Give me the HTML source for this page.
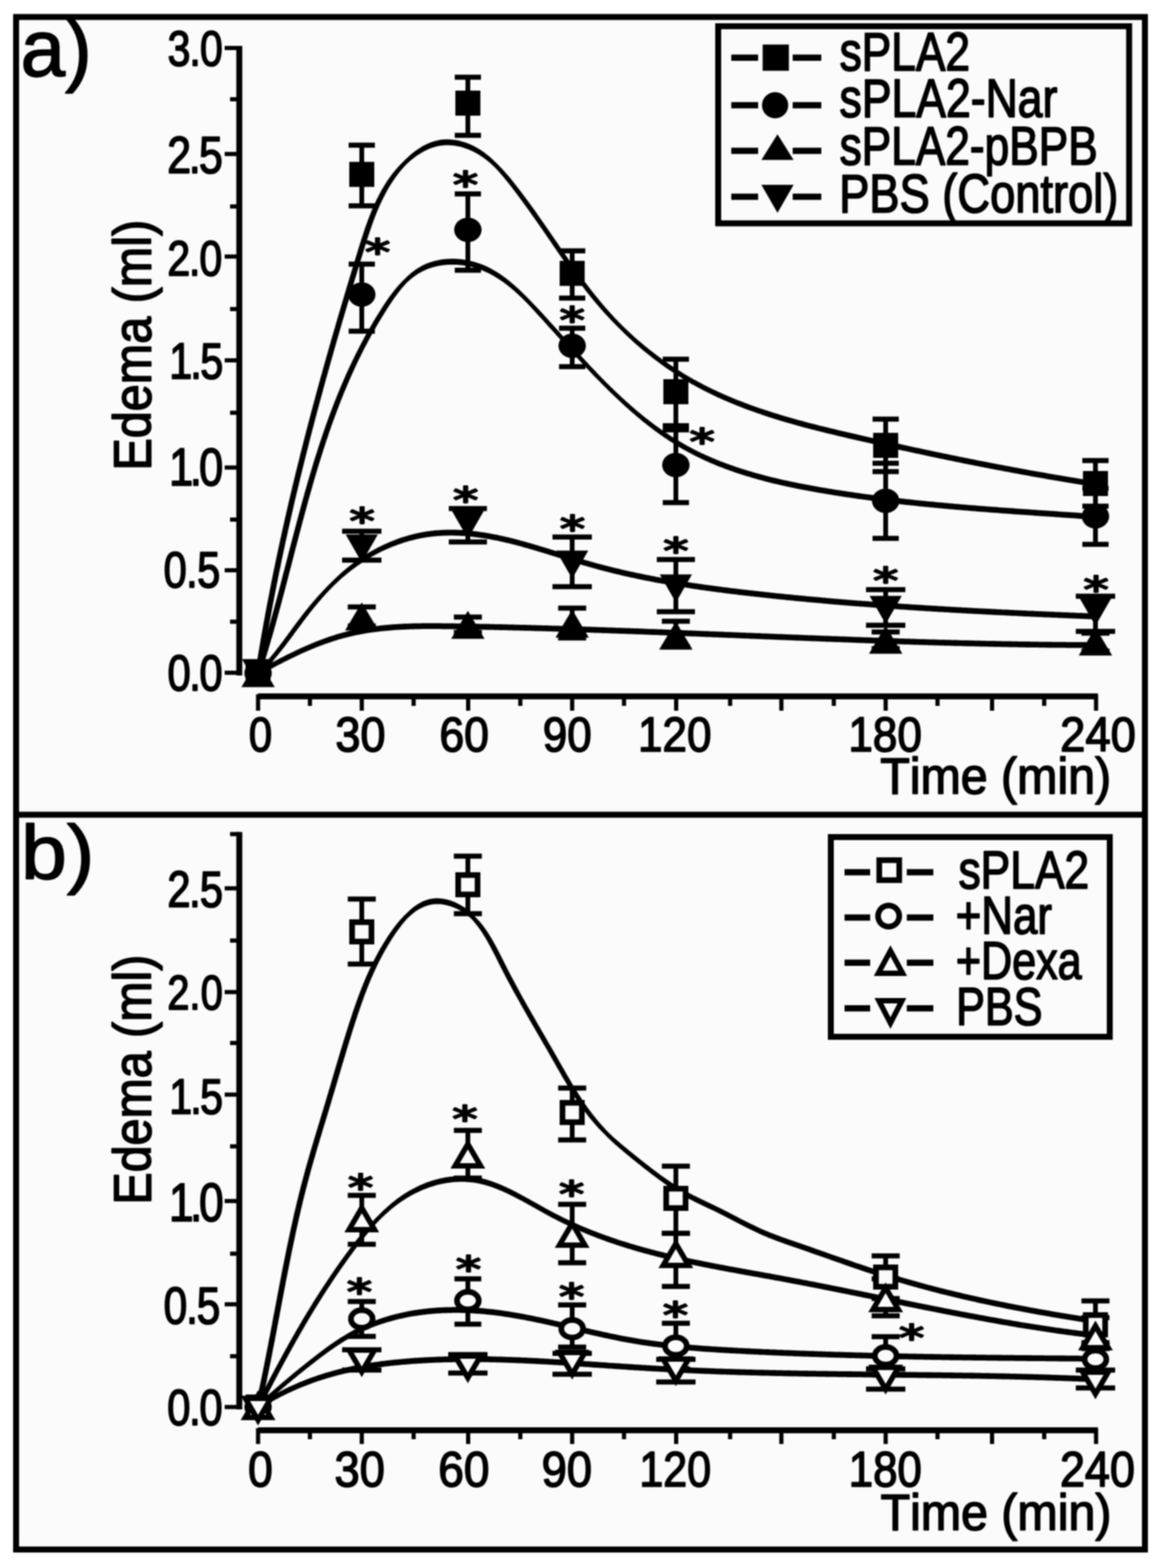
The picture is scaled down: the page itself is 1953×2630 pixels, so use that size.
<!DOCTYPE html>
<html><head><meta charset="utf-8"><title>Edema time course</title>
<style>html,body{margin:0;padding:0;background:#fff;}svg{display:block;filter:blur(1px);}
text{font-family:"Liberation Sans",Arial,sans-serif;font-kerning:none;fill:#000;}</style></head>
<body><svg xmlns="http://www.w3.org/2000/svg" width="1953" height="2630" viewBox="0 0 1953 2630" stroke="#000" fill="#000">
<rect x="27" y="28.5" width="1894" height="2570.5" fill="#fbfbfb" stroke="none"/>
<path d="M437.8 1129.8 L438.5 1125.2 L439.2 1120.7 L440.0 1116.1 L440.7 1111.6 L441.4 1107.1 L442.2 1102.5 L442.9 1098.0 L443.7 1093.5 L444.4 1089.0 L445.2 1084.5 L446.0 1079.9 L446.7 1075.4 L447.5 1070.9 L448.3 1066.4 L449.1 1061.9 L449.9 1057.4 L450.7 1052.9 L451.5 1048.5 L452.3 1044.0 L453.1 1039.5 L454.0 1035.0 L454.8 1030.5 L455.6 1026.1 L456.4 1021.6 L457.3 1017.1 L458.1 1012.6 L459.0 1008.2 L459.8 1003.7 L460.7 999.3 L461.6 994.8 L462.4 990.4 L463.3 985.9 L464.2 981.5 L465.1 977.0 L466.0 972.6 L466.8 968.1 L467.7 963.7 L468.6 959.3 L469.6 954.8 L470.5 950.4 L471.4 946.0 L472.3 941.5 L473.2 937.1 L474.2 932.7 L475.1 928.3 L476.0 923.8 L477.0 919.4 L477.9 915.0 L478.9 910.6 L479.8 906.2 L480.8 901.8 L481.8 897.4 L482.7 893.0 L483.7 888.6 L484.7 884.2 L485.7 879.8 L486.7 875.4 L487.7 871.0 L488.7 866.6 L489.7 862.2 L490.7 857.8 L491.7 853.4 L492.7 849.0 L493.7 844.6 L494.7 840.2 L495.8 835.8 L496.8 831.4 L497.8 827.1 L498.9 822.7 L499.9 818.3 L501.0 813.9 L502.0 809.5 L503.1 805.2 L504.1 800.8 L505.2 796.4 L506.3 792.0 L507.3 787.7 L508.4 783.3 L509.5 778.9 L510.6 774.5 L511.7 770.2 L512.8 765.8 L513.9 761.4 L515.0 757.1 L516.1 752.7 L517.2 748.3 L518.3 743.9 L519.4 739.6 L520.5 735.2 L521.7 730.8 L522.8 726.5 L523.9 722.1 L525.1 717.8 L526.2 713.4 L527.3 709.0 L528.5 704.7 L529.6 700.3 L530.8 695.9 L531.9 691.6 L533.1 687.2 L534.3 682.8 L535.4 678.5 L536.6 674.1 L537.8 669.8 L539.0 665.4 L540.2 661.0 L541.4 656.7 L542.5 652.3 L543.7 647.9 L544.9 643.6 L546.1 639.2 L547.3 634.8 L548.6 630.5 L549.8 626.1 L551.0 621.7 L552.2 617.4 L553.4 613.0 L554.7 608.6 L555.9 604.3 L557.1 599.9 L558.4 595.5 L559.6 591.2 L560.8 586.8 L562.1 582.4 L563.3 578.0 L564.6 573.7 L565.8 569.3 L567.1 564.9 L568.4 560.5 L569.6 556.2 L570.9 551.8 L572.2 547.4 L573.4 543.0 L574.7 538.6 L576.0 534.3 L577.3 529.9 L578.6 525.5 L579.9 521.1 L581.2 516.7 L582.5 512.3 L583.8 507.9 L585.1 503.5 L586.4 499.1 L587.7 494.7 L589.0 490.3 L590.3 485.9 L591.6 481.5 L593.0 477.1 L594.3 472.7 L595.6 468.3 L596.9 463.9 L598.3 459.5 L599.6 455.1 L600.9 450.7 L602.3 446.3 L603.6 441.9 L605.0 437.4 L606.3 433.0 L607.7 428.6 L609.0 424.2 L610.4 419.8 L611.8 415.3 L613.1 410.9 L614.5 406.5 L615.9 402.1 L617.3 397.7 L618.7 393.4 L620.2 389.0 L621.7 384.7 L623.2 380.3 L624.7 376.0 L626.2 371.7 L627.8 367.5 L629.4 363.2 L631.1 359.0 L632.8 354.8 L634.5 350.7 L636.3 346.5 L638.1 342.4 L640.0 338.4 L641.9 334.4 L643.9 330.4 L646.0 326.4 L648.1 322.5 L650.2 318.6 L652.4 314.8 L654.7 311.0 L657.1 307.3 L659.5 303.6 L662.0 299.9 L664.6 296.3 L667.2 292.8 L669.9 289.3 L672.7 285.8 L675.6 282.4 L678.6 279.1 L681.7 275.8 L685.0 272.8 L688.3 269.8 L691.7 266.9 L695.2 264.2 L698.8 261.6 L702.4 259.2 L706.0 256.9 L709.7 254.7 L713.4 252.7 L717.2 250.9 L720.9 249.3 L724.8 247.9 L728.6 246.7 L732.4 245.7 L736.3 244.8 L740.1 244.2 L744.0 243.8 L747.9 243.6 L751.9 243.6 L755.8 243.7 L759.8 244.0 L763.7 244.6 L767.7 245.2 L771.7 246.1 L775.6 247.1 L779.6 248.4 L783.5 249.7 L787.4 251.3 L791.2 253.0 L795.1 254.8 L798.8 256.8 L802.6 258.9 L806.2 261.2 L809.9 263.7 L813.4 266.3 L816.9 269.0 L820.4 271.8 L823.8 274.7 L827.1 277.8 L830.4 281.0 L833.6 284.3 L836.7 287.7 L839.8 291.2 L842.8 294.7 L845.8 298.3 L848.8 302.0 L851.8 305.6 L854.7 309.3 L857.6 313.0 L860.5 316.7 L863.4 320.5 L866.2 324.2 L869.0 327.9 L871.8 331.7 L874.6 335.4 L877.3 339.2 L880.1 342.9 L882.8 346.7 L885.5 350.4 L888.2 354.2 L890.9 358.0 L893.5 361.7 L896.2 365.5 L898.8 369.3 L901.4 373.0 L904.1 376.8 L906.7 380.5 L909.3 384.3 L911.9 388.1 L914.5 391.8 L917.0 395.6 L919.6 399.3 L922.2 403.1 L924.8 406.8 L927.3 410.6 L929.9 414.3 L932.5 418.0 L935.0 421.8 L937.6 425.5 L940.2 429.2 L942.8 432.9 L945.4 436.6 L948.0 440.3 L950.6 444.0 L953.2 447.6 L955.8 451.3 L958.4 455.0 L961.1 458.6 L963.7 462.3 L966.4 465.9 L969.1 469.5 L971.8 473.1 L974.5 476.7 L977.2 480.3 L980.0 483.8 L982.7 487.4 L985.5 490.9 L988.3 494.4 L991.1 498.0 L994.0 501.5 L996.8 504.9 L999.7 508.4 L1002.7 511.8 L1005.6 515.3 L1008.6 518.7 L1011.6 522.1 L1014.6 525.5 L1017.7 528.8 L1020.8 532.1 L1023.9 535.5 L1027.1 538.8 L1030.2 542.0 L1033.4 545.3 L1036.7 548.5 L1039.9 551.8 L1043.2 555.0 L1046.5 558.2 L1049.8 561.4 L1053.1 564.5 L1056.5 567.7 L1059.9 570.8 L1063.3 573.9 L1066.7 576.9 L1070.2 580.0 L1073.7 583.0 L1077.2 586.0 L1080.7 588.9 L1084.3 591.8 L1087.9 594.7 L1091.5 597.6 L1095.1 600.4 L1098.8 603.3 L1102.5 606.0 L1106.2 608.8 L1109.9 611.5 L1113.7 614.2 L1117.4 616.9 L1121.2 619.5 L1125.0 622.1 L1128.8 624.6 L1132.7 627.2 L1136.5 629.6 L1140.4 632.1 L1144.3 634.5 L1148.2 636.9 L1152.2 639.3 L1156.1 641.6 L1160.1 643.9 L1164.1 646.1 L1168.1 648.3 L1172.1 650.5 L1176.1 652.6 L1180.1 654.7 L1184.2 656.8 L1188.3 658.8 L1192.4 660.8 L1196.5 662.8 L1200.6 664.8 L1204.7 666.7 L1208.9 668.6 L1213.0 670.4 L1217.2 672.3 L1221.4 674.1 L1225.6 675.8 L1229.8 677.6 L1234.0 679.3 L1238.2 681.0 L1242.4 682.6 L1246.7 684.3 L1250.9 685.9 L1255.2 687.5 L1259.5 689.1 L1263.8 690.6 L1268.1 692.1 L1272.4 693.6 L1276.7 695.1 L1281.0 696.6 L1285.3 698.0 L1289.7 699.4 L1294.0 700.8 L1298.4 702.2 L1302.7 703.5 L1307.1 704.9 L1311.5 706.2 L1315.8 707.5 L1320.2 708.8 L1324.6 710.0 L1329.0 711.3 L1333.4 712.5 L1337.8 713.8 L1342.2 715.0 L1346.6 716.2 L1351.1 717.4 L1355.5 718.5 L1359.9 719.7 L1364.3 720.8 L1368.8 722.0 L1373.2 723.1 L1377.7 724.2 L1382.1 725.3 L1386.5 726.4 L1391.0 727.5 L1395.4 728.6 L1399.9 729.6 L1404.3 730.7 L1408.8 731.7 L1413.2 732.8 L1417.7 733.8 L1422.1 734.9 L1426.6 735.9 L1431.0 736.9 L1435.5 737.9 L1439.9 739.0 L1444.4 740.0 L1448.8 741.0 L1453.3 742.0 L1457.7 743.0 L1462.2 744.0 L1466.6 745.0 L1471.1 746.0 L1475.5 747.0 L1480.0 748.0 L1484.4 749.0 L1488.8 750.0 L1493.3 751.0 L1497.7 752.0 L1502.2 753.0 L1506.6 753.9 L1511.1 754.9 L1515.5 755.9 L1520.0 756.8 L1524.4 757.8 L1528.8 758.8 L1533.3 759.7 L1537.7 760.7 L1542.2 761.6 L1546.6 762.6 L1551.1 763.5 L1555.5 764.5 L1559.9 765.4 L1564.4 766.4 L1568.8 767.3 L1573.3 768.2 L1577.7 769.2 L1582.2 770.1 L1586.6 771.0 L1591.1 771.9 L1595.5 772.8 L1599.9 773.8 L1604.4 774.7 L1608.8 775.6 L1613.3 776.5 L1617.7 777.4 L1622.2 778.3 L1626.6 779.2 L1631.1 780.0 L1635.5 780.9 L1640.0 781.8 L1644.5 782.7 L1648.9 783.6 L1653.4 784.4 L1657.8 785.3 L1662.3 786.2 L1666.7 787.0 L1671.2 787.9 L1675.7 788.7 L1680.1 789.6 L1684.6 790.4 L1689.1 791.3 L1693.5 792.1 L1698.0 792.9 L1702.5 793.8 L1706.9 794.6 L1711.4 795.4 L1715.9 796.2 L1720.3 797.0 L1724.8 797.8 L1729.3 798.7 L1733.8 799.5 L1738.3 800.3 L1742.7 801.0 L1747.2 801.8 L1751.7 802.6 L1756.2 803.4 L1760.7 804.2 L1765.2 805.0 L1769.7 805.7 L1774.1 806.5 L1778.6 807.3 L1783.1 808.0 L1787.6 808.8 L1792.1 809.5 L1796.6 810.3 L1801.1 811.0 L1805.7 811.7 L1810.2 812.5 L1814.7 813.2 L1819.2 813.9 L1823.7 814.7 L1828.2 815.4 L1832.7 816.1 L1837.3 816.8 L1838.7 807.2 L1834.2 806.5 L1829.7 805.8 L1825.2 805.1 L1820.7 804.4 L1816.2 803.7 L1811.7 802.9 L1807.2 802.2 L1802.7 801.5 L1798.2 800.7 L1793.7 800.0 L1789.2 799.2 L1784.7 798.5 L1780.3 797.7 L1775.8 797.0 L1771.3 796.2 L1766.8 795.4 L1762.3 794.7 L1757.8 793.9 L1753.4 793.1 L1748.9 792.3 L1744.4 791.5 L1739.9 790.8 L1735.5 790.0 L1731.0 789.2 L1726.5 788.4 L1722.1 787.5 L1717.6 786.7 L1713.1 785.9 L1708.7 785.1 L1704.2 784.3 L1699.7 783.5 L1695.3 782.6 L1690.8 781.8 L1686.4 781.0 L1681.9 780.1 L1677.5 779.3 L1673.0 778.4 L1668.6 777.6 L1664.1 776.7 L1659.7 775.8 L1655.2 775.0 L1650.8 774.1 L1646.3 773.2 L1641.9 772.4 L1637.4 771.5 L1633.0 770.6 L1628.5 769.7 L1624.1 768.8 L1619.6 767.9 L1615.2 767.1 L1610.8 766.2 L1606.3 765.3 L1601.9 764.3 L1597.4 763.4 L1593.0 762.5 L1588.6 761.6 L1584.1 760.7 L1579.7 759.8 L1575.2 758.8 L1570.8 757.9 L1566.4 757.0 L1561.9 756.0 L1557.5 755.1 L1553.0 754.2 L1548.6 753.2 L1544.2 752.3 L1539.7 751.3 L1535.3 750.4 L1530.9 749.4 L1526.4 748.5 L1522.0 747.5 L1517.5 746.5 L1513.1 745.6 L1508.7 744.6 L1504.2 743.6 L1499.8 742.6 L1495.4 741.6 L1490.9 740.7 L1486.5 739.7 L1482.0 738.7 L1477.6 737.7 L1473.2 736.7 L1468.7 735.7 L1464.3 734.7 L1459.8 733.7 L1455.4 732.7 L1451.0 731.7 L1446.5 730.7 L1442.1 729.7 L1437.6 728.6 L1433.2 727.6 L1428.7 726.6 L1424.3 725.6 L1419.8 724.5 L1415.4 723.5 L1411.0 722.5 L1406.5 721.4 L1402.1 720.3 L1397.7 719.3 L1393.2 718.2 L1388.8 717.1 L1384.4 716.1 L1379.9 715.0 L1375.5 713.9 L1371.1 712.8 L1366.7 711.6 L1362.3 710.5 L1357.9 709.4 L1353.5 708.2 L1349.1 707.0 L1344.7 705.8 L1340.3 704.7 L1335.9 703.4 L1331.6 702.2 L1327.2 701.0 L1322.8 699.7 L1318.5 698.5 L1314.1 697.2 L1309.8 695.9 L1305.5 694.6 L1301.1 693.2 L1296.8 691.9 L1292.5 690.5 L1288.2 689.1 L1283.9 687.7 L1279.6 686.3 L1275.4 684.9 L1271.1 683.4 L1266.9 681.9 L1262.6 680.4 L1258.4 678.9 L1254.1 677.3 L1249.9 675.7 L1245.7 674.1 L1241.5 672.5 L1237.4 670.9 L1233.2 669.2 L1229.0 667.5 L1224.9 665.7 L1220.7 664.0 L1216.6 662.2 L1212.5 660.4 L1208.4 658.6 L1204.3 656.7 L1200.3 654.8 L1196.2 652.9 L1192.2 650.9 L1188.1 649.0 L1184.1 646.9 L1180.1 644.9 L1176.1 642.8 L1172.2 640.7 L1168.2 638.6 L1164.3 636.4 L1160.3 634.2 L1156.4 632.0 L1152.5 629.7 L1148.7 627.4 L1144.8 625.0 L1141.0 622.6 L1137.1 620.2 L1133.3 617.8 L1129.5 615.3 L1125.8 612.8 L1122.0 610.2 L1118.3 607.6 L1114.5 605.0 L1110.8 602.4 L1107.2 599.7 L1103.5 597.0 L1099.9 594.3 L1096.3 591.5 L1092.7 588.7 L1089.1 585.9 L1085.5 583.0 L1082.0 580.2 L1078.5 577.3 L1075.0 574.3 L1071.6 571.4 L1068.1 568.4 L1064.7 565.4 L1061.3 562.3 L1058.0 559.3 L1054.7 556.2 L1051.3 553.1 L1048.1 550.0 L1044.8 546.8 L1041.6 543.6 L1038.4 540.4 L1035.3 537.1 L1032.2 533.9 L1029.1 530.6 L1026.1 527.3 L1023.1 523.9 L1020.1 520.6 L1017.1 517.2 L1014.2 513.8 L1011.3 510.4 L1008.4 507.0 L1005.5 503.6 L1002.7 500.1 L999.9 496.7 L997.1 493.2 L994.3 489.7 L991.6 486.2 L988.8 482.6 L986.1 479.1 L983.4 475.5 L980.7 472.0 L978.1 468.4 L975.4 464.8 L972.8 461.2 L970.1 457.6 L967.5 454.0 L964.9 450.3 L962.3 446.7 L959.7 443.0 L957.1 439.4 L954.5 435.7 L952.0 432.0 L949.4 428.3 L946.8 424.6 L944.2 420.9 L941.7 417.2 L939.1 413.5 L936.6 409.7 L934.0 406.0 L931.4 402.2 L928.8 398.5 L926.3 394.8 L923.7 391.0 L921.1 387.2 L918.5 383.5 L915.9 379.7 L913.3 376.0 L910.7 372.2 L908.0 368.4 L905.4 364.7 L902.7 360.9 L900.1 357.1 L897.4 353.3 L894.7 349.6 L892.0 345.8 L889.2 342.0 L886.5 338.3 L883.7 334.5 L880.9 330.7 L878.1 327.0 L875.3 323.2 L872.4 319.5 L869.5 315.7 L866.6 312.0 L863.7 308.3 L860.7 304.5 L857.7 300.8 L854.7 297.1 L851.6 293.5 L848.4 289.9 L845.2 286.3 L842.0 282.8 L838.7 279.4 L835.4 276.1 L832.0 272.7 L828.7 269.4 L825.2 266.2 L821.8 263.1 L818.2 260.2 L814.5 257.3 L810.8 254.5 L807.0 251.9 L803.1 249.5 L799.1 247.2 L795.1 245.0 L791.0 243.0 L786.8 241.2 L782.6 239.6 L778.3 238.2 L774.0 236.9 L769.6 235.8 L765.3 235.0 L760.9 234.4 L756.4 234.0 L752.0 233.8 L747.6 233.8 L743.2 234.1 L738.8 234.6 L734.4 235.4 L730.1 236.5 L725.8 237.7 L721.6 239.3 L717.4 241.0 L713.3 243.0 L709.3 245.1 L705.4 247.4 L701.5 249.9 L697.8 252.5 L694.1 255.3 L690.4 258.2 L686.9 261.2 L683.5 264.4 L680.1 267.6 L676.8 270.9 L673.5 274.2 L670.3 277.5 L667.1 281.0 L664.1 284.4 L661.1 288.0 L658.3 291.6 L655.5 295.3 L652.8 299.0 L650.2 302.8 L647.7 306.6 L645.3 310.4 L642.9 314.4 L640.6 318.3 L638.4 322.3 L636.2 326.4 L634.1 330.5 L632.0 334.6 L630.1 338.7 L628.1 342.9 L626.3 347.1 L624.4 351.3 L622.7 355.6 L620.9 359.9 L619.3 364.2 L617.6 368.5 L616.0 372.9 L614.4 377.3 L612.9 381.6 L611.4 386.0 L609.9 390.4 L608.5 394.9 L607.0 399.3 L605.6 403.7 L604.2 408.1 L602.8 412.6 L601.4 417.0 L600.1 421.4 L598.7 425.9 L597.4 430.3 L596.0 434.7 L594.7 439.1 L593.3 443.6 L592.0 448.0 L590.6 452.4 L589.3 456.8 L588.0 461.2 L586.6 465.6 L585.3 470.0 L584.0 474.4 L582.6 478.8 L581.3 483.3 L580.0 487.7 L578.7 492.1 L577.4 496.5 L576.1 500.9 L574.8 505.3 L573.5 509.6 L572.2 514.0 L570.9 518.4 L569.6 522.8 L568.3 527.2 L567.0 531.6 L565.7 536.0 L564.4 540.4 L563.1 544.8 L561.9 549.2 L560.6 553.5 L559.3 557.9 L558.1 562.3 L556.8 566.7 L555.5 571.1 L554.3 575.4 L553.0 579.8 L551.8 584.2 L550.5 588.6 L549.3 593.0 L548.0 597.3 L546.8 601.7 L545.6 606.1 L544.3 610.5 L543.1 614.8 L541.9 619.2 L540.7 623.6 L539.5 627.9 L538.2 632.3 L537.0 636.7 L535.8 641.1 L534.6 645.4 L533.4 649.8 L532.2 654.2 L531.0 658.5 L529.8 662.9 L528.7 667.3 L527.5 671.7 L526.3 676.0 L525.1 680.4 L524.0 684.8 L522.8 689.1 L521.6 693.5 L520.5 697.9 L519.3 702.2 L518.2 706.6 L517.0 711.0 L515.9 715.4 L514.7 719.7 L513.6 724.1 L512.5 728.5 L511.3 732.8 L510.2 737.2 L509.1 741.6 L508.0 746.0 L506.9 750.3 L505.8 754.7 L504.6 759.1 L503.5 763.5 L502.4 767.9 L501.4 772.2 L500.3 776.6 L499.2 781.0 L498.1 785.4 L497.0 789.8 L495.9 794.1 L494.9 798.5 L493.8 802.9 L492.8 807.3 L491.7 811.7 L490.6 816.1 L489.6 820.5 L488.6 824.9 L487.5 829.2 L486.5 833.6 L485.4 838.0 L484.4 842.4 L483.4 846.8 L482.4 851.2 L481.4 855.6 L480.3 860.0 L479.3 864.4 L478.3 868.8 L477.3 873.2 L476.4 877.7 L475.4 882.1 L474.4 886.5 L473.4 890.9 L472.4 895.3 L471.5 899.7 L470.5 904.1 L469.5 908.6 L468.6 913.0 L467.6 917.4 L466.7 921.8 L465.7 926.3 L464.8 930.7 L463.8 935.1 L462.9 939.6 L462.0 944.0 L461.1 948.4 L460.2 952.9 L459.2 957.3 L458.3 961.8 L457.4 966.2 L456.5 970.7 L455.6 975.1 L454.8 979.6 L453.9 984.0 L453.0 988.5 L452.1 993.0 L451.3 997.4 L450.4 1001.9 L449.5 1006.4 L448.7 1010.8 L447.8 1015.3 L447.0 1019.8 L446.1 1024.3 L445.3 1028.8 L444.5 1033.3 L443.7 1037.8 L442.8 1042.2 L442.0 1046.7 L441.2 1051.2 L440.4 1055.7 L439.6 1060.3 L438.8 1064.8 L438.0 1069.3 L437.2 1073.8 L436.5 1078.3 L435.7 1082.8 L434.9 1087.4 L434.1 1091.9 L433.4 1096.4 L432.6 1101.0 L431.9 1105.5 L431.1 1110.0 L430.4 1114.6 L429.7 1119.1 L428.9 1123.7 L428.2 1128.3Z" stroke="none"/>
<path d="M437.4 1130.4 L438.7 1126.6 L439.9 1122.8 L441.1 1118.9 L442.3 1115.1 L443.5 1111.2 L444.7 1107.4 L445.9 1103.5 L447.1 1099.7 L448.3 1095.8 L449.4 1092.0 L450.6 1088.1 L451.7 1084.2 L452.9 1080.4 L454.0 1076.5 L455.1 1072.6 L456.3 1068.8 L457.4 1064.9 L458.5 1061.0 L459.6 1057.1 L460.7 1053.3 L461.8 1049.4 L462.9 1045.5 L463.9 1041.6 L465.0 1037.7 L466.1 1033.8 L467.1 1029.9 L468.2 1026.0 L469.3 1022.1 L470.3 1018.2 L471.4 1014.3 L472.4 1010.4 L473.4 1006.5 L474.5 1002.6 L475.5 998.7 L476.6 994.8 L477.6 990.9 L478.6 987.0 L479.6 983.1 L480.7 979.2 L481.7 975.3 L482.7 971.4 L483.7 967.5 L484.7 963.6 L485.7 959.7 L486.7 955.8 L487.8 951.9 L488.8 948.0 L489.8 944.1 L490.8 940.2 L491.8 936.2 L492.8 932.3 L493.8 928.4 L494.8 924.5 L495.8 920.6 L496.9 916.7 L497.9 912.8 L498.9 908.9 L499.9 905.0 L500.9 901.1 L501.9 897.2 L503.0 893.3 L504.0 889.4 L505.0 885.5 L506.1 881.6 L507.1 877.7 L508.1 873.8 L509.2 869.9 L510.2 866.0 L511.3 862.1 L512.3 858.2 L513.4 854.4 L514.4 850.5 L515.5 846.6 L516.5 842.7 L517.6 838.8 L518.7 834.9 L519.8 831.1 L520.9 827.2 L522.0 823.3 L523.1 819.4 L524.2 815.6 L525.3 811.7 L526.4 807.8 L527.5 804.0 L528.6 800.1 L529.8 796.3 L530.9 792.4 L532.1 788.6 L533.2 784.7 L534.4 780.9 L535.6 777.0 L536.8 773.2 L538.0 769.4 L539.2 765.5 L540.4 761.7 L541.6 757.9 L542.8 754.1 L544.0 750.2 L545.3 746.4 L546.5 742.6 L547.8 738.8 L549.1 735.0 L550.4 731.2 L551.6 727.4 L552.9 723.6 L554.3 719.8 L555.6 716.0 L556.9 712.3 L558.3 708.5 L559.6 704.7 L561.0 700.9 L562.4 697.2 L563.8 693.4 L565.2 689.7 L566.6 685.9 L568.0 682.2 L569.5 678.4 L570.9 674.7 L572.4 671.0 L573.9 667.2 L575.4 663.5 L576.9 659.8 L578.4 656.1 L580.0 652.4 L581.5 648.7 L583.1 645.0 L584.7 641.3 L586.3 637.6 L587.9 633.9 L589.5 630.3 L591.2 626.6 L592.8 622.9 L594.5 619.3 L596.2 615.6 L597.9 612.0 L599.6 608.3 L601.3 604.7 L603.1 601.1 L604.9 597.5 L606.7 593.8 L608.5 590.2 L610.3 586.6 L612.1 583.0 L614.0 579.5 L615.9 575.9 L617.8 572.3 L619.7 568.7 L621.6 565.2 L623.6 561.6 L625.6 558.1 L627.6 554.5 L629.6 551.0 L631.6 547.5 L633.6 543.9 L635.7 540.4 L637.8 536.9 L639.9 533.4 L642.1 529.9 L644.2 526.4 L646.4 523.0 L648.6 519.5 L650.8 516.0 L653.0 512.6 L655.3 509.2 L657.6 505.8 L659.9 502.4 L662.2 499.1 L664.6 495.9 L666.9 492.7 L669.4 489.5 L671.8 486.4 L674.3 483.3 L676.9 480.4 L679.5 477.5 L682.1 474.6 L684.9 472.0 L687.7 469.5 L690.6 467.0 L693.6 464.7 L696.6 462.5 L699.6 460.5 L702.7 458.5 L705.9 456.7 L709.1 455.0 L712.4 453.4 L715.7 452.0 L719.1 450.6 L722.6 449.4 L726.1 448.3 L729.6 447.4 L733.3 446.5 L736.9 445.8 L740.6 445.2 L744.3 444.7 L748.1 444.3 L751.8 444.1 L755.6 443.9 L759.4 443.9 L763.2 443.9 L767.0 444.1 L770.8 444.4 L774.7 444.8 L778.4 445.3 L782.2 445.9 L786.0 446.6 L789.7 447.4 L793.4 448.3 L797.0 449.3 L800.6 450.5 L804.2 451.7 L807.7 453.0 L811.2 454.4 L814.6 455.9 L818.0 457.5 L821.4 459.1 L824.7 460.9 L828.1 462.8 L831.3 464.7 L834.6 466.7 L837.8 468.8 L841.0 470.9 L844.2 473.1 L847.3 475.4 L850.4 477.8 L853.5 480.2 L856.6 482.7 L859.6 485.2 L862.6 487.8 L865.6 490.5 L868.6 493.2 L871.6 495.9 L874.5 498.7 L877.4 501.5 L880.3 504.4 L883.1 507.3 L886.0 510.3 L888.8 513.3 L891.6 516.3 L894.4 519.3 L897.2 522.3 L900.0 525.4 L902.8 528.4 L905.6 531.5 L908.4 534.6 L911.2 537.6 L914.0 540.7 L916.8 543.8 L919.5 546.9 L922.3 549.9 L925.1 553.0 L927.9 556.1 L930.6 559.1 L933.4 562.2 L936.2 565.3 L938.9 568.3 L941.7 571.4 L944.5 574.4 L947.3 577.5 L950.0 580.5 L952.8 583.6 L955.6 586.6 L958.3 589.6 L961.1 592.7 L963.9 595.7 L966.7 598.7 L969.5 601.7 L972.3 604.7 L975.0 607.7 L977.8 610.7 L980.6 613.7 L983.4 616.7 L986.3 619.6 L989.1 622.6 L991.9 625.5 L994.7 628.4 L997.5 631.4 L1000.4 634.3 L1003.2 637.2 L1006.1 640.1 L1008.9 642.9 L1011.8 645.8 L1014.6 648.7 L1017.5 651.5 L1020.4 654.4 L1023.2 657.2 L1026.1 660.0 L1029.0 662.8 L1031.9 665.6 L1034.8 668.3 L1037.7 671.1 L1040.7 673.8 L1043.6 676.6 L1046.6 679.3 L1049.5 682.0 L1052.5 684.6 L1055.5 687.3 L1058.5 689.9 L1061.5 692.5 L1064.5 695.1 L1067.5 697.7 L1070.6 700.3 L1073.6 702.8 L1076.7 705.4 L1079.8 707.9 L1082.9 710.3 L1086.0 712.8 L1089.1 715.2 L1092.3 717.6 L1095.4 720.0 L1098.6 722.4 L1101.8 724.7 L1105.0 727.1 L1108.2 729.4 L1111.5 731.6 L1114.7 733.9 L1118.0 736.1 L1121.3 738.3 L1124.6 740.5 L1128.0 742.6 L1131.3 744.7 L1134.7 746.8 L1138.1 748.9 L1141.5 750.9 L1144.9 752.9 L1148.4 754.9 L1151.8 756.8 L1155.3 758.7 L1158.8 760.6 L1162.4 762.5 L1165.9 764.3 L1169.5 766.1 L1173.1 767.8 L1176.7 769.6 L1180.3 771.3 L1184.0 772.9 L1187.6 774.6 L1191.3 776.2 L1195.0 777.8 L1198.7 779.3 L1202.5 780.9 L1206.2 782.4 L1210.0 783.8 L1213.7 785.3 L1217.5 786.7 L1221.3 788.1 L1225.2 789.5 L1229.0 790.8 L1232.8 792.2 L1236.7 793.5 L1240.6 794.7 L1244.5 796.0 L1248.3 797.2 L1252.2 798.4 L1256.2 799.6 L1260.1 800.8 L1264.0 802.0 L1268.0 803.1 L1271.9 804.2 L1275.9 805.3 L1279.8 806.3 L1283.8 807.4 L1287.8 808.4 L1291.8 809.4 L1295.8 810.4 L1299.8 811.4 L1303.8 812.3 L1307.8 813.3 L1311.9 814.2 L1315.9 815.1 L1319.9 816.0 L1323.9 816.8 L1328.0 817.7 L1332.0 818.5 L1336.1 819.4 L1340.1 820.2 L1344.2 821.0 L1348.2 821.8 L1352.3 822.5 L1356.3 823.3 L1360.4 824.1 L1364.4 824.8 L1368.5 825.5 L1372.5 826.2 L1376.6 826.9 L1380.6 827.6 L1384.7 828.3 L1388.7 829.0 L1392.8 829.6 L1396.8 830.3 L1400.9 830.9 L1404.9 831.6 L1408.9 832.2 L1413.0 832.8 L1417.0 833.4 L1421.0 834.0 L1425.1 834.6 L1429.1 835.2 L1433.1 835.8 L1437.1 836.4 L1441.1 836.9 L1445.1 837.5 L1449.1 838.0 L1453.1 838.6 L1457.1 839.1 L1461.1 839.7 L1465.1 840.2 L1469.1 840.7 L1473.1 841.2 L1477.1 841.7 L1481.1 842.2 L1485.1 842.7 L1489.1 843.2 L1493.1 843.7 L1497.1 844.1 L1501.0 844.6 L1505.0 845.1 L1509.0 845.5 L1513.0 846.0 L1516.9 846.4 L1520.9 846.9 L1524.9 847.3 L1528.9 847.7 L1532.8 848.1 L1536.8 848.6 L1540.8 849.0 L1544.8 849.4 L1548.7 849.8 L1552.7 850.2 L1556.7 850.6 L1560.6 851.0 L1564.6 851.3 L1568.6 851.7 L1572.5 852.1 L1576.5 852.5 L1580.5 852.8 L1584.4 853.2 L1588.4 853.6 L1592.4 853.9 L1596.3 854.3 L1600.3 854.6 L1604.3 855.0 L1608.3 855.3 L1612.2 855.6 L1616.2 856.0 L1620.2 856.3 L1624.1 856.6 L1628.1 856.9 L1632.1 857.3 L1636.1 857.6 L1640.0 857.9 L1644.0 858.2 L1648.0 858.5 L1652.0 858.8 L1655.9 859.1 L1659.9 859.4 L1663.9 859.7 L1667.9 860.0 L1671.9 860.3 L1675.9 860.6 L1679.9 860.9 L1683.9 861.2 L1687.9 861.5 L1691.8 861.8 L1695.8 862.1 L1699.8 862.4 L1703.8 862.7 L1707.9 862.9 L1711.9 863.2 L1715.9 863.5 L1719.9 863.8 L1723.9 864.1 L1727.9 864.3 L1731.9 864.6 L1736.0 864.9 L1740.0 865.2 L1744.0 865.4 L1748.0 865.7 L1752.1 866.0 L1756.1 866.3 L1760.2 866.5 L1764.2 866.8 L1768.3 867.1 L1772.3 867.4 L1776.4 867.6 L1780.4 867.9 L1784.5 868.2 L1788.5 868.5 L1792.6 868.7 L1796.7 869.0 L1800.8 869.3 L1804.8 869.6 L1808.9 869.9 L1813.0 870.2 L1817.1 870.4 L1821.2 870.7 L1825.3 871.0 L1829.4 871.3 L1833.5 871.6 L1837.7 871.9 L1838.3 862.1 L1834.2 861.8 L1830.1 861.5 L1826.0 861.3 L1821.9 861.0 L1817.8 860.7 L1813.7 860.4 L1809.6 860.1 L1805.5 859.8 L1801.4 859.6 L1797.4 859.3 L1793.3 859.0 L1789.2 858.7 L1785.1 858.4 L1781.1 858.2 L1777.0 857.9 L1773.0 857.6 L1768.9 857.3 L1764.9 857.1 L1760.8 856.8 L1756.8 856.5 L1752.7 856.2 L1748.7 856.0 L1744.7 855.7 L1740.7 855.4 L1736.6 855.1 L1732.6 854.9 L1728.6 854.6 L1724.6 854.3 L1720.6 854.0 L1716.5 853.7 L1712.5 853.5 L1708.5 853.2 L1704.5 852.9 L1700.5 852.6 L1696.5 852.3 L1692.5 852.0 L1688.6 851.8 L1684.6 851.5 L1680.6 851.2 L1676.6 850.9 L1672.6 850.6 L1668.6 850.3 L1664.6 850.0 L1660.7 849.7 L1656.7 849.4 L1652.7 849.1 L1648.7 848.8 L1644.8 848.5 L1640.8 848.2 L1636.8 847.8 L1632.9 847.5 L1628.9 847.2 L1624.9 846.9 L1621.0 846.6 L1617.0 846.2 L1613.0 845.9 L1609.1 845.6 L1605.1 845.2 L1601.2 844.9 L1597.2 844.5 L1593.2 844.2 L1589.3 843.8 L1585.3 843.5 L1581.4 843.1 L1577.4 842.8 L1573.5 842.4 L1569.5 842.0 L1565.5 841.6 L1561.6 841.3 L1557.6 840.9 L1553.7 840.5 L1549.7 840.1 L1545.7 839.7 L1541.8 839.3 L1537.8 838.9 L1533.9 838.5 L1529.9 838.0 L1525.9 837.6 L1522.0 837.2 L1518.0 836.7 L1514.1 836.3 L1510.1 835.9 L1506.1 835.4 L1502.2 834.9 L1498.2 834.5 L1494.2 834.0 L1490.2 833.5 L1486.3 833.1 L1482.3 832.6 L1478.3 832.1 L1474.4 831.6 L1470.4 831.1 L1466.4 830.5 L1462.4 830.0 L1458.4 829.5 L1454.4 829.0 L1450.4 828.4 L1446.5 827.9 L1442.5 827.3 L1438.5 826.8 L1434.5 826.2 L1430.5 825.6 L1426.5 825.0 L1422.5 824.4 L1418.5 823.8 L1414.4 823.2 L1410.4 822.6 L1406.4 822.0 L1402.4 821.4 L1398.4 820.7 L1394.3 820.1 L1390.3 819.4 L1386.3 818.8 L1382.3 818.1 L1378.2 817.4 L1374.2 816.7 L1370.2 816.0 L1366.1 815.3 L1362.1 814.6 L1358.1 813.8 L1354.1 813.1 L1350.0 812.3 L1346.0 811.5 L1342.0 810.8 L1338.0 810.0 L1334.0 809.1 L1329.9 808.3 L1325.9 807.5 L1321.9 806.6 L1317.9 805.7 L1314.0 804.9 L1310.0 804.0 L1306.0 803.0 L1302.0 802.1 L1298.1 801.2 L1294.1 800.2 L1290.1 799.2 L1286.2 798.2 L1282.3 797.2 L1278.3 796.1 L1274.4 795.1 L1270.5 794.0 L1266.6 792.9 L1262.7 791.8 L1258.8 790.6 L1255.0 789.5 L1251.1 788.3 L1247.3 787.1 L1243.4 785.9 L1239.6 784.6 L1235.8 783.4 L1232.0 782.1 L1228.2 780.8 L1224.5 779.4 L1220.7 778.1 L1217.0 776.7 L1213.3 775.3 L1209.5 773.9 L1205.9 772.4 L1202.2 770.9 L1198.5 769.4 L1194.9 767.9 L1191.2 766.3 L1187.6 764.8 L1184.0 763.2 L1180.5 761.5 L1176.9 759.9 L1173.4 758.2 L1169.8 756.4 L1166.3 754.7 L1162.9 752.9 L1159.4 751.1 L1155.9 749.3 L1152.5 747.4 L1149.1 745.5 L1145.7 743.6 L1142.4 741.6 L1139.0 739.6 L1135.7 737.6 L1132.4 735.6 L1129.1 733.5 L1125.8 731.4 L1122.5 729.3 L1119.3 727.1 L1116.1 725.0 L1112.8 722.8 L1109.6 720.5 L1106.5 718.3 L1103.3 716.0 L1100.1 713.7 L1097.0 711.4 L1093.9 709.0 L1090.8 706.7 L1087.7 704.3 L1084.6 701.9 L1081.5 699.4 L1078.4 697.0 L1075.4 694.5 L1072.4 692.0 L1069.3 689.4 L1066.3 686.9 L1063.3 684.3 L1060.3 681.8 L1057.4 679.2 L1054.4 676.5 L1051.4 673.9 L1048.5 671.2 L1045.6 668.6 L1042.6 665.9 L1039.7 663.1 L1036.8 660.4 L1033.9 657.7 L1031.0 654.9 L1028.1 652.1 L1025.3 649.4 L1022.4 646.6 L1019.5 643.7 L1016.7 640.9 L1013.9 638.0 L1011.0 635.2 L1008.2 632.3 L1005.4 629.4 L1002.6 626.5 L999.8 623.5 L997.0 620.6 L994.2 617.7 L991.4 614.7 L988.6 611.8 L985.9 608.8 L983.1 605.8 L980.3 602.8 L977.5 599.8 L974.8 596.8 L972.0 593.8 L969.2 590.8 L966.5 587.8 L963.7 584.8 L960.9 581.7 L958.2 578.7 L955.4 575.7 L952.6 572.6 L949.9 569.6 L947.1 566.5 L944.3 563.4 L941.6 560.4 L938.8 557.3 L936.0 554.3 L933.3 551.2 L930.5 548.1 L927.7 545.0 L924.9 542.0 L922.1 538.9 L919.4 535.8 L916.6 532.8 L913.8 529.7 L911.0 526.6 L908.2 523.6 L905.3 520.5 L902.5 517.5 L899.7 514.4 L896.8 511.4 L893.9 508.4 L891.1 505.4 L888.2 502.4 L885.2 499.5 L882.3 496.6 L879.4 493.7 L876.4 490.8 L873.5 488.0 L870.5 485.1 L867.5 482.4 L864.5 479.7 L861.4 477.0 L858.3 474.4 L855.2 471.8 L852.0 469.3 L848.9 466.8 L845.6 464.4 L842.4 462.1 L839.1 459.8 L835.7 457.6 L832.4 455.5 L828.9 453.5 L825.5 451.5 L821.9 449.6 L818.4 447.8 L814.7 446.1 L811.1 444.6 L807.3 443.1 L803.6 441.7 L799.7 440.4 L795.9 439.2 L791.9 438.2 L787.9 437.2 L783.9 436.4 L779.9 435.7 L775.8 435.1 L771.8 434.7 L767.7 434.3 L763.6 434.1 L759.5 434.1 L755.4 434.1 L751.3 434.3 L747.2 434.6 L743.1 435.0 L739.1 435.6 L735.1 436.4 L731.1 437.2 L727.2 438.2 L723.3 439.4 L719.5 440.7 L715.8 442.1 L712.1 443.7 L708.5 445.5 L705.0 447.4 L701.6 449.4 L698.3 451.6 L695.0 453.9 L691.9 456.3 L688.8 458.8 L685.8 461.4 L682.9 464.1 L680.0 466.9 L677.2 469.7 L674.3 472.6 L671.5 475.5 L668.7 478.5 L666.1 481.6 L663.4 484.7 L660.8 487.9 L658.3 491.2 L655.8 494.5 L653.3 497.8 L650.9 501.2 L648.6 504.6 L646.2 508.1 L643.9 511.6 L641.6 515.0 L639.4 518.5 L637.2 522.0 L635.0 525.5 L632.8 529.1 L630.6 532.6 L628.5 536.1 L626.4 539.6 L624.3 543.2 L622.2 546.7 L620.2 550.3 L618.1 553.9 L616.1 557.4 L614.1 561.0 L612.1 564.6 L610.2 568.2 L608.2 571.8 L606.3 575.4 L604.4 579.0 L602.5 582.7 L600.7 586.3 L598.8 589.9 L597.0 593.6 L595.2 597.2 L593.4 600.9 L591.6 604.5 L589.9 608.2 L588.1 611.9 L586.4 615.5 L584.7 619.2 L583.0 622.9 L581.3 626.6 L579.7 630.3 L578.0 634.0 L576.4 637.7 L574.8 641.4 L573.2 645.2 L571.6 648.9 L570.1 652.6 L568.5 656.4 L567.0 660.1 L565.5 663.8 L564.0 667.6 L562.5 671.3 L561.0 675.1 L559.5 678.9 L558.1 682.6 L556.6 686.4 L555.2 690.2 L553.8 694.0 L552.4 697.8 L551.0 701.6 L549.6 705.4 L548.2 709.2 L546.9 713.0 L545.5 716.8 L544.2 720.6 L542.9 724.4 L541.6 728.2 L540.3 732.0 L539.0 735.9 L537.7 739.7 L536.4 743.5 L535.2 747.3 L533.9 751.2 L532.7 755.0 L531.5 758.9 L530.2 762.7 L529.0 766.6 L527.8 770.4 L526.6 774.3 L525.4 778.1 L524.3 782.0 L523.1 785.9 L521.9 789.7 L520.8 793.6 L519.6 797.5 L518.5 801.3 L517.4 805.2 L516.2 809.1 L515.1 813.0 L514.0 816.9 L512.9 820.7 L511.8 824.6 L510.7 828.5 L509.6 832.4 L508.5 836.3 L507.4 840.2 L506.4 844.1 L505.3 848.0 L504.2 851.9 L503.2 855.8 L502.1 859.7 L501.1 863.6 L500.0 867.5 L499.0 871.4 L497.9 875.3 L496.9 879.2 L495.9 883.1 L494.8 887.0 L493.8 890.9 L492.8 894.8 L491.8 898.7 L490.7 902.6 L489.7 906.5 L488.7 910.4 L487.7 914.3 L486.7 918.2 L485.7 922.1 L484.6 926.1 L483.6 930.0 L482.6 933.9 L481.6 937.8 L480.6 941.7 L479.6 945.6 L478.6 949.5 L477.6 953.4 L476.6 957.3 L475.5 961.2 L474.5 965.1 L473.5 969.0 L472.5 972.9 L471.5 976.8 L470.5 980.7 L469.4 984.6 L468.4 988.5 L467.4 992.4 L466.4 996.3 L465.3 1000.2 L464.3 1004.1 L463.3 1008.0 L462.2 1011.9 L461.2 1015.8 L460.1 1019.7 L459.1 1023.6 L458.0 1027.4 L457.0 1031.3 L455.9 1035.2 L454.8 1039.1 L453.8 1043.0 L452.7 1046.8 L451.6 1050.7 L450.5 1054.6 L449.4 1058.4 L448.3 1062.3 L447.2 1066.2 L446.1 1070.0 L445.0 1073.9 L443.9 1077.7 L442.7 1081.6 L441.6 1085.4 L440.4 1089.3 L439.3 1093.1 L438.1 1097.0 L437.0 1100.8 L435.8 1104.6 L434.6 1108.5 L433.4 1112.3 L432.2 1116.1 L431.0 1119.9 L429.8 1123.7 L428.6 1127.6Z" stroke="none"/>
<path d="M435.4 1131.7 L437.5 1129.7 L439.6 1127.7 L441.7 1125.6 L443.7 1123.6 L445.8 1121.5 L447.8 1119.5 L449.8 1117.4 L451.9 1115.2 L453.8 1113.1 L455.8 1110.9 L457.8 1108.7 L459.7 1106.5 L461.6 1104.3 L463.5 1102.0 L465.4 1099.7 L467.3 1097.5 L469.2 1095.1 L471.0 1092.8 L472.9 1090.5 L474.7 1088.1 L476.6 1085.8 L478.4 1083.4 L480.2 1081.0 L482.0 1078.6 L483.8 1076.2 L485.7 1073.8 L487.5 1071.4 L489.3 1069.0 L491.1 1066.5 L492.9 1064.1 L494.6 1061.6 L496.4 1059.2 L498.2 1056.8 L500.0 1054.3 L501.8 1051.9 L503.7 1049.4 L505.5 1047.0 L507.3 1044.5 L509.1 1042.1 L510.9 1039.7 L512.8 1037.2 L514.6 1034.8 L516.5 1032.4 L518.4 1030.0 L520.2 1027.6 L522.1 1025.2 L524.0 1022.8 L525.9 1020.4 L527.9 1018.1 L529.8 1015.7 L531.8 1013.4 L533.7 1011.0 L535.7 1008.7 L537.7 1006.4 L539.7 1004.1 L541.7 1001.8 L543.7 999.5 L545.8 997.3 L547.8 995.0 L549.9 992.8 L552.0 990.6 L554.1 988.4 L556.2 986.2 L558.3 984.0 L560.5 981.9 L562.7 979.8 L564.9 977.7 L567.1 975.7 L569.3 973.6 L571.5 971.6 L573.8 969.6 L576.1 967.6 L578.4 965.7 L580.7 963.8 L583.0 961.8 L585.4 959.9 L587.7 958.1 L590.1 956.2 L592.5 954.4 L594.9 952.6 L597.3 950.9 L599.7 949.1 L602.2 947.4 L604.7 945.7 L607.2 944.0 L609.7 942.4 L612.2 940.8 L614.7 939.2 L617.3 937.6 L619.8 936.1 L622.4 934.6 L625.0 933.1 L627.6 931.7 L630.2 930.2 L632.9 928.8 L635.5 927.5 L638.2 926.1 L640.8 924.8 L643.5 923.5 L646.2 922.3 L648.9 921.1 L651.7 919.9 L654.4 918.7 L657.1 917.6 L659.9 916.5 L662.6 915.4 L665.4 914.4 L668.2 913.3 L671.0 912.4 L673.8 911.4 L676.6 910.5 L679.4 909.6 L682.3 908.8 L685.1 907.9 L687.9 907.1 L690.8 906.4 L693.7 905.7 L696.5 905.0 L699.4 904.3 L702.3 903.7 L705.2 903.1 L708.1 902.6 L711.0 902.0 L713.9 901.6 L716.8 901.1 L719.7 900.7 L722.6 900.3 L725.5 900.0 L728.4 899.6 L731.4 899.4 L734.3 899.1 L737.3 898.9 L740.2 898.7 L743.2 898.6 L746.1 898.5 L749.1 898.4 L752.0 898.3 L755.0 898.3 L758.0 898.3 L760.9 898.3 L763.9 898.4 L766.9 898.5 L769.9 898.6 L772.8 898.7 L775.8 898.9 L778.8 899.1 L781.8 899.3 L784.7 899.6 L787.7 899.8 L790.7 900.1 L793.7 900.5 L796.6 900.8 L799.6 901.2 L802.6 901.6 L805.5 902.0 L808.5 902.4 L811.5 902.8 L814.4 903.3 L817.4 903.8 L820.3 904.3 L823.3 904.8 L826.2 905.4 L829.2 906.0 L832.1 906.5 L835.1 907.1 L838.0 907.8 L840.9 908.4 L843.9 909.1 L846.8 909.7 L849.7 910.4 L852.7 911.1 L855.6 911.8 L858.5 912.5 L861.4 913.3 L864.4 914.0 L867.3 914.8 L870.2 915.5 L873.1 916.3 L876.0 917.1 L878.9 917.9 L881.8 918.7 L884.8 919.6 L887.7 920.4 L890.6 921.2 L893.5 922.1 L896.4 922.9 L899.3 923.8 L902.2 924.7 L905.1 925.5 L908.0 926.4 L910.9 927.3 L913.9 928.2 L916.8 929.1 L919.7 930.0 L922.6 930.9 L925.5 931.8 L928.4 932.7 L931.3 933.6 L934.2 934.5 L937.1 935.4 L940.0 936.3 L942.9 937.2 L945.8 938.1 L948.8 939.0 L951.7 939.9 L954.6 940.8 L957.5 941.7 L960.4 942.6 L963.3 943.5 L966.3 944.4 L969.2 945.3 L972.1 946.2 L975.0 947.1 L978.0 947.9 L980.9 948.8 L983.8 949.6 L986.8 950.5 L989.7 951.3 L992.6 952.1 L995.6 953.0 L998.5 953.8 L1001.5 954.6 L1004.4 955.4 L1007.4 956.2 L1010.3 956.9 L1013.3 957.7 L1016.2 958.5 L1019.2 959.2 L1022.1 960.0 L1025.1 960.7 L1028.0 961.5 L1031.0 962.2 L1033.9 962.9 L1036.9 963.6 L1039.9 964.3 L1042.8 965.0 L1045.8 965.7 L1048.8 966.4 L1051.7 967.0 L1054.7 967.7 L1057.7 968.4 L1060.6 969.0 L1063.6 969.6 L1066.6 970.3 L1069.6 970.9 L1072.5 971.5 L1075.5 972.2 L1078.5 972.8 L1081.5 973.4 L1084.5 974.0 L1087.4 974.6 L1090.4 975.1 L1093.4 975.7 L1096.4 976.3 L1099.4 976.9 L1102.4 977.4 L1105.3 978.0 L1108.3 978.5 L1111.3 979.1 L1114.3 979.6 L1117.3 980.1 L1120.3 980.6 L1123.3 981.2 L1126.3 981.7 L1129.3 982.2 L1132.3 982.7 L1135.3 983.2 L1138.3 983.7 L1141.3 984.2 L1144.3 984.7 L1147.3 985.1 L1150.3 985.6 L1153.3 986.1 L1156.3 986.5 L1159.3 987.0 L1162.3 987.5 L1165.3 987.9 L1168.3 988.3 L1171.3 988.8 L1174.3 989.2 L1177.3 989.7 L1180.3 990.1 L1183.3 990.5 L1186.3 990.9 L1189.4 991.3 L1192.4 991.8 L1195.4 992.2 L1198.4 992.6 L1201.4 993.0 L1204.4 993.4 L1207.4 993.8 L1210.4 994.1 L1213.5 994.5 L1216.5 994.9 L1219.5 995.3 L1222.5 995.7 L1225.5 996.0 L1228.5 996.4 L1231.6 996.8 L1234.6 997.1 L1237.6 997.5 L1240.6 997.9 L1243.6 998.2 L1246.6 998.6 L1249.7 998.9 L1252.7 999.3 L1255.7 999.6 L1258.7 1000.0 L1261.7 1000.3 L1264.8 1000.6 L1267.8 1001.0 L1270.8 1001.3 L1273.8 1001.6 L1276.8 1002.0 L1279.9 1002.3 L1282.9 1002.6 L1285.9 1003.0 L1288.9 1003.3 L1291.9 1003.6 L1295.0 1003.9 L1298.0 1004.2 L1301.0 1004.5 L1304.0 1004.9 L1307.1 1005.2 L1310.1 1005.5 L1313.1 1005.8 L1316.1 1006.1 L1319.2 1006.4 L1322.2 1006.7 L1325.2 1007.0 L1328.2 1007.3 L1331.3 1007.6 L1334.3 1007.9 L1337.3 1008.2 L1340.3 1008.5 L1343.4 1008.8 L1346.4 1009.0 L1349.4 1009.3 L1352.4 1009.6 L1355.5 1009.9 L1358.5 1010.2 L1361.5 1010.5 L1364.5 1010.7 L1367.6 1011.0 L1370.6 1011.3 L1373.6 1011.6 L1376.7 1011.8 L1379.7 1012.1 L1382.7 1012.4 L1385.7 1012.6 L1388.8 1012.9 L1391.8 1013.2 L1394.8 1013.4 L1397.9 1013.7 L1400.9 1013.9 L1403.9 1014.2 L1407.0 1014.4 L1410.0 1014.7 L1413.0 1014.9 L1416.0 1015.2 L1419.1 1015.4 L1422.1 1015.7 L1425.1 1015.9 L1428.2 1016.2 L1431.2 1016.4 L1434.2 1016.7 L1437.3 1016.9 L1440.3 1017.1 L1443.3 1017.4 L1446.4 1017.6 L1449.4 1017.8 L1452.4 1018.1 L1455.4 1018.3 L1458.5 1018.5 L1461.5 1018.8 L1464.5 1019.0 L1467.6 1019.2 L1470.6 1019.4 L1473.6 1019.7 L1476.7 1019.9 L1479.7 1020.1 L1482.7 1020.3 L1485.8 1020.5 L1488.8 1020.7 L1491.8 1021.0 L1494.9 1021.2 L1497.9 1021.4 L1500.9 1021.6 L1504.0 1021.8 L1507.0 1022.0 L1510.1 1022.2 L1513.1 1022.4 L1516.1 1022.6 L1519.2 1022.8 L1522.2 1023.0 L1525.2 1023.2 L1528.3 1023.4 L1531.3 1023.6 L1534.3 1023.8 L1537.4 1024.0 L1540.4 1024.2 L1543.4 1024.4 L1546.5 1024.6 L1549.5 1024.8 L1552.5 1025.0 L1555.6 1025.2 L1558.6 1025.3 L1561.6 1025.5 L1564.7 1025.7 L1567.7 1025.9 L1570.8 1026.1 L1573.8 1026.3 L1576.8 1026.4 L1579.9 1026.6 L1582.9 1026.8 L1585.9 1027.0 L1589.0 1027.1 L1592.0 1027.3 L1595.0 1027.5 L1598.1 1027.7 L1601.1 1027.8 L1604.1 1028.0 L1607.2 1028.2 L1610.2 1028.3 L1613.3 1028.5 L1616.3 1028.7 L1619.3 1028.8 L1622.4 1029.0 L1625.4 1029.2 L1628.4 1029.3 L1631.5 1029.5 L1634.5 1029.7 L1637.5 1029.8 L1640.6 1030.0 L1643.6 1030.1 L1646.6 1030.3 L1649.7 1030.5 L1652.7 1030.6 L1655.8 1030.8 L1658.8 1030.9 L1661.8 1031.1 L1664.9 1031.2 L1667.9 1031.4 L1670.9 1031.5 L1674.0 1031.7 L1677.0 1031.8 L1680.0 1032.0 L1683.1 1032.1 L1686.1 1032.3 L1689.2 1032.4 L1692.2 1032.6 L1695.2 1032.7 L1698.3 1032.9 L1701.3 1033.0 L1704.3 1033.1 L1707.4 1033.3 L1710.4 1033.4 L1713.4 1033.6 L1716.5 1033.7 L1719.5 1033.9 L1722.5 1034.0 L1725.6 1034.1 L1728.6 1034.3 L1731.6 1034.4 L1734.7 1034.5 L1737.7 1034.7 L1740.7 1034.8 L1743.8 1034.9 L1746.8 1035.1 L1749.9 1035.2 L1752.9 1035.4 L1755.9 1035.5 L1759.0 1035.6 L1762.0 1035.7 L1765.0 1035.9 L1768.1 1036.0 L1771.1 1036.1 L1774.1 1036.3 L1777.2 1036.4 L1780.2 1036.5 L1783.2 1036.7 L1786.3 1036.8 L1789.3 1036.9 L1792.3 1037.0 L1795.4 1037.2 L1798.4 1037.3 L1801.4 1037.4 L1804.5 1037.5 L1807.5 1037.7 L1810.5 1037.8 L1813.6 1037.9 L1816.6 1038.0 L1819.6 1038.2 L1822.6 1038.3 L1825.7 1038.4 L1828.7 1038.5 L1831.7 1038.6 L1834.8 1038.8 L1837.8 1038.9 L1838.2 1029.1 L1835.2 1029.0 L1832.1 1028.9 L1829.1 1028.7 L1826.1 1028.6 L1823.0 1028.5 L1820.0 1028.4 L1817.0 1028.3 L1814.0 1028.1 L1810.9 1028.0 L1807.9 1027.9 L1804.9 1027.8 L1801.8 1027.6 L1798.8 1027.5 L1795.8 1027.4 L1792.7 1027.3 L1789.7 1027.1 L1786.7 1027.0 L1783.6 1026.9 L1780.6 1026.7 L1777.6 1026.6 L1774.5 1026.5 L1771.5 1026.4 L1768.5 1026.2 L1765.4 1026.1 L1762.4 1026.0 L1759.4 1025.8 L1756.3 1025.7 L1753.3 1025.6 L1750.3 1025.4 L1747.3 1025.3 L1744.2 1025.2 L1741.2 1025.0 L1738.2 1024.9 L1735.1 1024.8 L1732.1 1024.6 L1729.1 1024.5 L1726.0 1024.4 L1723.0 1024.2 L1720.0 1024.1 L1716.9 1023.9 L1713.9 1023.8 L1710.9 1023.7 L1707.8 1023.5 L1704.8 1023.4 L1701.8 1023.2 L1698.7 1023.1 L1695.7 1022.9 L1692.7 1022.8 L1689.6 1022.6 L1686.6 1022.5 L1683.6 1022.4 L1680.5 1022.2 L1677.5 1022.1 L1674.5 1021.9 L1671.4 1021.8 L1668.4 1021.6 L1665.4 1021.5 L1662.3 1021.3 L1659.3 1021.1 L1656.3 1021.0 L1653.2 1020.8 L1650.2 1020.7 L1647.2 1020.5 L1644.1 1020.4 L1641.1 1020.2 L1638.1 1020.1 L1635.0 1019.9 L1632.0 1019.7 L1629.0 1019.6 L1625.9 1019.4 L1622.9 1019.2 L1619.9 1019.1 L1616.8 1018.9 L1613.8 1018.7 L1610.8 1018.6 L1607.7 1018.4 L1604.7 1018.2 L1601.7 1018.1 L1598.6 1017.9 L1595.6 1017.7 L1592.6 1017.6 L1589.5 1017.4 L1586.5 1017.2 L1583.5 1017.0 L1580.4 1016.8 L1577.4 1016.7 L1574.4 1016.5 L1571.3 1016.3 L1568.3 1016.1 L1565.3 1015.9 L1562.2 1015.8 L1559.2 1015.6 L1556.2 1015.4 L1553.1 1015.2 L1550.1 1015.0 L1547.1 1014.8 L1544.0 1014.6 L1541.0 1014.4 L1538.0 1014.2 L1535.0 1014.1 L1531.9 1013.9 L1528.9 1013.7 L1525.9 1013.5 L1522.8 1013.3 L1519.8 1013.1 L1516.8 1012.9 L1513.7 1012.7 L1510.7 1012.5 L1507.7 1012.2 L1504.6 1012.0 L1501.6 1011.8 L1498.6 1011.6 L1495.6 1011.4 L1492.5 1011.2 L1489.5 1011.0 L1486.5 1010.8 L1483.4 1010.6 L1480.4 1010.3 L1477.4 1010.1 L1474.4 1009.9 L1471.3 1009.7 L1468.3 1009.5 L1465.3 1009.2 L1462.2 1009.0 L1459.2 1008.8 L1456.2 1008.6 L1453.2 1008.3 L1450.1 1008.1 L1447.1 1007.9 L1444.1 1007.6 L1441.0 1007.4 L1438.0 1007.2 L1435.0 1006.9 L1432.0 1006.7 L1428.9 1006.4 L1425.9 1006.2 L1422.9 1006.0 L1419.9 1005.7 L1416.8 1005.5 L1413.8 1005.2 L1410.8 1005.0 L1407.8 1004.7 L1404.7 1004.5 L1401.7 1004.2 L1398.7 1003.9 L1395.7 1003.7 L1392.6 1003.4 L1389.6 1003.2 L1386.6 1002.9 L1383.6 1002.6 L1380.5 1002.4 L1377.5 1002.1 L1374.5 1001.8 L1371.5 1001.6 L1368.5 1001.3 L1365.4 1001.0 L1362.4 1000.7 L1359.4 1000.5 L1356.4 1000.2 L1353.3 999.9 L1350.3 999.6 L1347.3 999.3 L1344.3 999.1 L1341.3 998.8 L1338.2 998.5 L1335.2 998.2 L1332.2 997.9 L1329.2 997.6 L1326.2 997.3 L1323.1 997.0 L1320.1 996.7 L1317.1 996.4 L1314.1 996.1 L1311.1 995.8 L1308.1 995.5 L1305.0 995.2 L1302.0 994.9 L1299.0 994.5 L1296.0 994.2 L1293.0 993.9 L1290.0 993.6 L1286.9 993.3 L1283.9 992.9 L1280.9 992.6 L1277.9 992.3 L1274.9 992.0 L1271.9 991.6 L1268.9 991.3 L1265.8 991.0 L1262.8 990.6 L1259.8 990.3 L1256.8 989.9 L1253.8 989.6 L1250.8 989.3 L1247.8 988.9 L1244.8 988.6 L1241.7 988.2 L1238.7 987.8 L1235.7 987.5 L1232.7 987.1 L1229.7 986.8 L1226.7 986.4 L1223.7 986.0 L1220.7 985.6 L1217.7 985.3 L1214.7 984.9 L1211.7 984.5 L1208.7 984.1 L1205.7 983.7 L1202.7 983.3 L1199.7 982.9 L1196.7 982.5 L1193.7 982.1 L1190.7 981.7 L1187.7 981.3 L1184.7 980.9 L1181.7 980.5 L1178.7 980.1 L1175.7 979.6 L1172.7 979.2 L1169.7 978.8 L1166.7 978.3 L1163.7 977.9 L1160.7 977.4 L1157.7 977.0 L1154.8 976.5 L1151.8 976.0 L1148.8 975.6 L1145.8 975.1 L1142.8 974.6 L1139.8 974.1 L1136.8 973.7 L1133.9 973.2 L1130.9 972.7 L1127.9 972.2 L1124.9 971.7 L1122.0 971.1 L1119.0 970.6 L1116.0 970.1 L1113.0 969.6 L1110.1 969.0 L1107.1 968.5 L1104.1 967.9 L1101.1 967.4 L1098.2 966.8 L1095.2 966.3 L1092.2 965.7 L1089.3 965.1 L1086.3 964.5 L1083.4 963.9 L1080.4 963.3 L1077.4 962.7 L1074.5 962.1 L1071.5 961.5 L1068.6 960.9 L1065.6 960.3 L1062.7 959.6 L1059.7 959.0 L1056.8 958.4 L1053.8 957.7 L1050.9 957.0 L1047.9 956.4 L1045.0 955.7 L1042.0 955.0 L1039.1 954.3 L1036.2 953.6 L1033.2 952.9 L1030.3 952.2 L1027.4 951.5 L1024.4 950.8 L1021.5 950.0 L1018.6 949.3 L1015.6 948.5 L1012.7 947.8 L1009.8 947.0 L1006.9 946.2 L1003.9 945.5 L1001.0 944.7 L998.1 943.9 L995.2 943.1 L992.3 942.2 L989.4 941.4 L986.4 940.6 L983.5 939.7 L980.6 938.9 L977.7 938.0 L974.8 937.2 L971.9 936.3 L969.0 935.4 L966.1 934.6 L963.2 933.7 L960.3 932.8 L957.4 931.9 L954.4 931.0 L951.5 930.1 L948.6 929.2 L945.7 928.3 L942.8 927.4 L939.9 926.5 L937.0 925.6 L934.1 924.7 L931.2 923.7 L928.3 922.8 L925.3 921.9 L922.4 921.0 L919.5 920.1 L916.6 919.2 L913.7 918.3 L910.8 917.4 L907.8 916.5 L904.9 915.7 L902.0 914.8 L899.1 913.9 L896.1 913.0 L893.2 912.2 L890.3 911.3 L887.3 910.5 L884.4 909.7 L881.5 908.8 L878.5 908.0 L875.6 907.2 L872.6 906.4 L869.7 905.6 L866.7 904.8 L863.8 904.1 L860.8 903.3 L857.9 902.6 L854.9 901.8 L851.9 901.1 L849.0 900.4 L846.0 899.7 L843.0 899.1 L840.0 898.4 L837.0 897.8 L834.0 897.1 L831.0 896.5 L828.0 895.9 L825.0 895.4 L822.0 894.8 L819.0 894.3 L816.0 893.8 L813.0 893.3 L810.0 892.8 L806.9 892.4 L803.9 891.9 L800.8 891.5 L797.8 891.1 L794.8 890.8 L791.7 890.4 L788.6 890.1 L785.6 889.8 L782.5 889.6 L779.5 889.4 L776.4 889.1 L773.3 889.0 L770.3 888.8 L767.2 888.7 L764.2 888.6 L761.1 888.5 L758.0 888.5 L755.0 888.5 L751.9 888.5 L748.8 888.6 L745.8 888.7 L742.7 888.8 L739.6 889.0 L736.6 889.2 L733.5 889.4 L730.5 889.6 L727.4 889.9 L724.4 890.3 L721.4 890.7 L718.3 891.1 L715.3 891.5 L712.3 892.0 L709.3 892.5 L706.3 893.1 L703.3 893.7 L700.3 894.3 L697.3 895.0 L694.3 895.7 L691.3 896.5 L688.4 897.2 L685.4 898.0 L682.5 898.9 L679.6 899.8 L676.6 900.7 L673.7 901.6 L670.8 902.6 L667.9 903.6 L665.1 904.7 L662.2 905.8 L659.3 906.9 L656.5 908.0 L653.7 909.2 L650.8 910.4 L648.0 911.7 L645.2 912.9 L642.5 914.2 L639.7 915.6 L637.0 916.9 L634.2 918.3 L631.5 919.8 L628.8 921.2 L626.1 922.7 L623.4 924.2 L620.8 925.7 L618.1 927.3 L615.5 928.9 L612.9 930.5 L610.3 932.2 L607.7 933.9 L605.1 935.6 L602.6 937.3 L600.1 939.1 L597.6 940.9 L595.1 942.7 L592.6 944.5 L590.2 946.4 L587.7 948.3 L585.3 950.2 L582.9 952.1 L580.6 954.1 L578.2 956.0 L575.9 958.0 L573.5 960.1 L571.2 962.1 L568.9 964.2 L566.7 966.3 L564.4 968.4 L562.2 970.5 L560.0 972.6 L557.8 974.8 L555.6 976.9 L553.4 979.1 L551.2 981.3 L549.0 983.5 L546.9 985.7 L544.7 987.9 L542.6 990.2 L540.5 992.4 L538.4 994.7 L536.3 996.9 L534.2 999.2 L532.1 1001.5 L530.1 1003.9 L528.1 1006.2 L526.0 1008.5 L524.0 1010.9 L522.1 1013.3 L520.1 1015.6 L518.1 1018.0 L516.2 1020.4 L514.2 1022.8 L512.3 1025.2 L510.4 1027.6 L508.5 1030.1 L506.6 1032.5 L504.7 1034.9 L502.9 1037.4 L501.0 1039.8 L499.2 1042.3 L497.3 1044.7 L495.5 1047.2 L493.7 1049.6 L491.9 1052.1 L490.1 1054.5 L488.3 1057.0 L486.5 1059.4 L484.7 1061.8 L482.9 1064.3 L481.1 1066.7 L479.3 1069.1 L477.6 1071.5 L475.8 1073.9 L474.0 1076.3 L472.2 1078.7 L470.4 1081.0 L468.6 1083.4 L466.8 1085.7 L465.0 1088.1 L463.2 1090.4 L461.4 1092.7 L459.6 1094.9 L457.7 1097.2 L455.9 1099.4 L454.0 1101.7 L452.2 1103.9 L450.3 1106.1 L448.4 1108.2 L446.5 1110.4 L444.6 1112.5 L442.7 1114.6 L440.7 1116.6 L438.8 1118.7 L436.8 1120.6 L434.7 1122.6 L432.7 1124.5 L430.6 1126.3Z" stroke="none"/>
<path d="M435.1 1132.7 L437.6 1131.3 L440.1 1130.0 L442.6 1128.6 L445.1 1127.2 L447.6 1125.8 L450.2 1124.4 L452.7 1123.1 L455.2 1121.7 L457.7 1120.4 L460.3 1119.0 L462.8 1117.7 L465.3 1116.3 L467.9 1115.0 L470.4 1113.7 L473.0 1112.4 L475.5 1111.1 L478.1 1109.8 L480.7 1108.5 L483.2 1107.2 L485.8 1105.9 L488.4 1104.7 L491.0 1103.4 L493.5 1102.2 L496.1 1100.9 L498.7 1099.7 L501.3 1098.5 L503.9 1097.3 L506.5 1096.1 L509.1 1095.0 L511.7 1093.8 L514.3 1092.7 L516.9 1091.6 L519.5 1090.4 L522.1 1089.3 L524.8 1088.2 L527.4 1087.2 L530.0 1086.1 L532.6 1085.1 L535.3 1084.1 L537.9 1083.0 L540.6 1082.1 L543.2 1081.1 L545.8 1080.1 L548.5 1079.2 L551.1 1078.3 L553.8 1077.4 L556.5 1076.5 L559.1 1075.6 L561.8 1074.8 L564.5 1073.9 L567.1 1073.1 L569.8 1072.3 L572.5 1071.6 L575.2 1070.8 L577.9 1070.1 L580.5 1069.4 L583.2 1068.7 L585.9 1068.0 L588.6 1067.4 L591.3 1066.8 L594.0 1066.2 L596.7 1065.6 L599.5 1065.0 L602.2 1064.5 L604.9 1064.0 L607.6 1063.4 L610.3 1063.0 L613.1 1062.5 L615.8 1062.0 L618.6 1061.6 L621.3 1061.2 L624.0 1060.8 L626.8 1060.4 L629.5 1060.0 L632.3 1059.7 L635.1 1059.4 L637.8 1059.0 L640.6 1058.7 L643.4 1058.5 L646.1 1058.2 L648.9 1057.9 L651.7 1057.7 L654.5 1057.4 L657.3 1057.2 L660.0 1057.0 L662.8 1056.8 L665.6 1056.6 L668.4 1056.5 L671.2 1056.3 L674.0 1056.2 L676.8 1056.0 L679.6 1055.9 L682.4 1055.8 L685.3 1055.7 L688.1 1055.6 L690.9 1055.5 L693.7 1055.4 L696.5 1055.3 L699.3 1055.3 L702.2 1055.2 L705.0 1055.2 L707.8 1055.1 L710.6 1055.1 L713.5 1055.1 L716.3 1055.1 L719.1 1055.1 L722.0 1055.1 L724.8 1055.1 L727.6 1055.1 L730.5 1055.1 L733.3 1055.1 L736.2 1055.1 L739.0 1055.1 L741.8 1055.2 L744.7 1055.2 L747.5 1055.2 L750.4 1055.3 L753.2 1055.3 L756.1 1055.3 L758.9 1055.4 L761.8 1055.4 L764.6 1055.5 L767.5 1055.5 L770.3 1055.5 L773.1 1055.6 L776.0 1055.6 L778.8 1055.7 L781.7 1055.7 L784.5 1055.8 L787.4 1055.8 L790.2 1055.9 L793.1 1055.9 L795.9 1056.0 L798.8 1056.0 L801.6 1056.1 L804.5 1056.2 L807.3 1056.2 L810.2 1056.3 L813.0 1056.3 L815.9 1056.4 L818.7 1056.4 L821.6 1056.5 L824.4 1056.6 L827.3 1056.6 L830.1 1056.7 L833.0 1056.7 L835.8 1056.8 L838.7 1056.9 L841.5 1056.9 L844.3 1057.0 L847.2 1057.1 L850.0 1057.1 L852.9 1057.2 L855.7 1057.3 L858.6 1057.3 L861.4 1057.4 L864.3 1057.5 L867.1 1057.5 L870.0 1057.6 L872.8 1057.7 L875.7 1057.8 L878.5 1057.8 L881.4 1057.9 L884.2 1058.0 L887.1 1058.1 L889.9 1058.1 L892.7 1058.2 L895.6 1058.3 L898.4 1058.4 L901.3 1058.4 L904.1 1058.5 L907.0 1058.6 L909.8 1058.7 L912.7 1058.8 L915.5 1058.8 L918.4 1058.9 L921.2 1059.0 L924.1 1059.1 L926.9 1059.2 L929.8 1059.3 L932.6 1059.3 L935.5 1059.4 L938.3 1059.5 L941.1 1059.6 L944.0 1059.7 L946.8 1059.8 L949.7 1059.9 L952.5 1059.9 L955.4 1060.0 L958.2 1060.1 L961.1 1060.2 L963.9 1060.3 L966.8 1060.4 L969.6 1060.5 L972.5 1060.6 L975.3 1060.7 L978.1 1060.8 L981.0 1060.9 L983.8 1060.9 L986.7 1061.0 L989.5 1061.1 L992.4 1061.2 L995.2 1061.3 L998.1 1061.4 L1000.9 1061.5 L1003.8 1061.6 L1006.6 1061.7 L1009.5 1061.8 L1012.3 1061.9 L1015.1 1062.0 L1018.0 1062.1 L1020.8 1062.2 L1023.7 1062.3 L1026.5 1062.4 L1029.4 1062.5 L1032.2 1062.6 L1035.1 1062.7 L1037.9 1062.8 L1040.8 1062.9 L1043.6 1063.0 L1046.5 1063.1 L1049.3 1063.2 L1052.1 1063.3 L1055.0 1063.4 L1057.8 1063.5 L1060.7 1063.6 L1063.5 1063.7 L1066.4 1063.8 L1069.2 1063.9 L1072.1 1064.0 L1074.9 1064.1 L1077.8 1064.2 L1080.6 1064.3 L1083.4 1064.5 L1086.3 1064.6 L1089.1 1064.7 L1092.0 1064.8 L1094.8 1064.9 L1097.7 1065.0 L1100.5 1065.1 L1103.4 1065.2 L1106.2 1065.3 L1109.1 1065.4 L1111.9 1065.5 L1114.7 1065.6 L1117.6 1065.7 L1120.4 1065.9 L1123.3 1066.0 L1126.1 1066.1 L1129.0 1066.2 L1131.8 1066.3 L1134.7 1066.4 L1137.5 1066.5 L1140.4 1066.6 L1143.2 1066.7 L1146.1 1066.8 L1148.9 1067.0 L1151.7 1067.1 L1154.6 1067.2 L1157.4 1067.3 L1160.3 1067.4 L1163.1 1067.5 L1166.0 1067.6 L1168.8 1067.7 L1171.7 1067.8 L1174.5 1068.0 L1177.4 1068.1 L1180.2 1068.2 L1183.0 1068.3 L1185.9 1068.4 L1188.7 1068.5 L1191.6 1068.6 L1194.4 1068.7 L1197.3 1068.9 L1200.1 1069.0 L1203.0 1069.1 L1205.8 1069.2 L1208.7 1069.3 L1211.5 1069.4 L1214.3 1069.5 L1217.2 1069.7 L1220.0 1069.8 L1222.9 1069.9 L1225.7 1070.0 L1228.6 1070.1 L1231.4 1070.2 L1234.3 1070.3 L1237.1 1070.5 L1240.0 1070.6 L1242.8 1070.7 L1245.6 1070.8 L1248.5 1070.9 L1251.3 1071.0 L1254.2 1071.1 L1257.0 1071.2 L1259.9 1071.4 L1262.7 1071.5 L1265.6 1071.6 L1268.4 1071.7 L1271.3 1071.8 L1274.1 1071.9 L1276.9 1072.0 L1279.8 1072.2 L1282.6 1072.3 L1285.5 1072.4 L1288.3 1072.5 L1291.2 1072.6 L1294.0 1072.7 L1296.9 1072.8 L1299.7 1072.9 L1302.6 1073.1 L1305.4 1073.2 L1308.2 1073.3 L1311.1 1073.4 L1313.9 1073.5 L1316.8 1073.6 L1319.6 1073.7 L1322.5 1073.8 L1325.3 1074.0 L1328.2 1074.1 L1331.0 1074.2 L1333.9 1074.3 L1336.7 1074.4 L1339.6 1074.5 L1342.4 1074.6 L1345.2 1074.7 L1348.1 1074.8 L1350.9 1075.0 L1353.8 1075.1 L1356.6 1075.2 L1359.5 1075.3 L1362.3 1075.4 L1365.2 1075.5 L1368.0 1075.6 L1370.9 1075.7 L1373.7 1075.8 L1376.5 1075.9 L1379.4 1076.0 L1382.2 1076.2 L1385.1 1076.3 L1387.9 1076.4 L1390.8 1076.5 L1393.6 1076.6 L1396.5 1076.7 L1399.3 1076.8 L1402.2 1076.9 L1405.0 1077.0 L1407.9 1077.1 L1410.7 1077.2 L1413.5 1077.3 L1416.4 1077.4 L1419.2 1077.5 L1422.1 1077.6 L1424.9 1077.7 L1427.8 1077.8 L1430.6 1077.9 L1433.5 1078.0 L1436.3 1078.2 L1439.2 1078.3 L1442.0 1078.4 L1444.9 1078.5 L1447.7 1078.6 L1450.6 1078.7 L1453.4 1078.8 L1456.2 1078.9 L1459.1 1079.0 L1461.9 1079.1 L1464.8 1079.2 L1467.6 1079.3 L1470.5 1079.4 L1473.3 1079.5 L1476.2 1079.5 L1479.0 1079.6 L1481.9 1079.7 L1484.7 1079.8 L1487.6 1079.9 L1490.4 1080.0 L1493.3 1080.1 L1496.1 1080.2 L1498.9 1080.3 L1501.8 1080.4 L1504.6 1080.5 L1507.5 1080.6 L1510.3 1080.7 L1513.2 1080.8 L1516.0 1080.9 L1518.9 1081.0 L1521.7 1081.0 L1524.6 1081.1 L1527.4 1081.2 L1530.3 1081.3 L1533.1 1081.4 L1536.0 1081.5 L1538.8 1081.6 L1541.7 1081.7 L1544.5 1081.7 L1547.3 1081.8 L1550.2 1081.9 L1553.0 1082.0 L1555.9 1082.1 L1558.7 1082.2 L1561.6 1082.3 L1564.4 1082.3 L1567.3 1082.4 L1570.1 1082.5 L1573.0 1082.6 L1575.8 1082.7 L1578.7 1082.7 L1581.5 1082.8 L1584.4 1082.9 L1587.2 1083.0 L1590.1 1083.0 L1592.9 1083.1 L1595.8 1083.2 L1598.6 1083.3 L1601.5 1083.4 L1604.3 1083.4 L1607.2 1083.5 L1610.0 1083.6 L1612.8 1083.6 L1615.7 1083.7 L1618.5 1083.8 L1621.4 1083.9 L1624.2 1083.9 L1627.1 1084.0 L1629.9 1084.1 L1632.8 1084.1 L1635.6 1084.2 L1638.5 1084.3 L1641.3 1084.3 L1644.2 1084.4 L1647.0 1084.5 L1649.9 1084.5 L1652.7 1084.6 L1655.6 1084.6 L1658.4 1084.7 L1661.3 1084.8 L1664.1 1084.8 L1667.0 1084.9 L1669.8 1084.9 L1672.7 1085.0 L1675.5 1085.1 L1678.4 1085.1 L1681.2 1085.2 L1684.1 1085.2 L1686.9 1085.3 L1689.8 1085.3 L1692.6 1085.4 L1695.5 1085.4 L1698.3 1085.5 L1701.2 1085.5 L1704.0 1085.6 L1706.9 1085.6 L1709.7 1085.7 L1712.6 1085.7 L1715.4 1085.8 L1718.3 1085.8 L1721.1 1085.9 L1724.0 1085.9 L1726.8 1085.9 L1729.7 1086.0 L1732.5 1086.0 L1735.4 1086.1 L1738.2 1086.1 L1741.1 1086.1 L1743.9 1086.2 L1746.8 1086.2 L1749.6 1086.3 L1752.5 1086.3 L1755.3 1086.3 L1758.2 1086.4 L1761.0 1086.4 L1763.9 1086.4 L1766.7 1086.5 L1769.6 1086.5 L1772.4 1086.5 L1775.3 1086.5 L1778.1 1086.6 L1781.0 1086.6 L1783.8 1086.6 L1786.7 1086.6 L1789.5 1086.7 L1792.4 1086.7 L1795.2 1086.7 L1798.1 1086.7 L1800.9 1086.7 L1803.8 1086.8 L1806.6 1086.8 L1809.5 1086.8 L1812.3 1086.8 L1815.2 1086.8 L1818.0 1086.8 L1820.9 1086.8 L1823.7 1086.9 L1826.6 1086.9 L1829.4 1086.9 L1832.3 1086.9 L1835.1 1086.9 L1838.0 1086.9 L1838.0 1077.1 L1835.2 1077.1 L1832.3 1077.1 L1829.5 1077.1 L1826.6 1077.1 L1823.8 1077.1 L1820.9 1077.0 L1818.1 1077.0 L1815.2 1077.0 L1812.4 1077.0 L1809.5 1077.0 L1806.7 1077.0 L1803.8 1077.0 L1801.0 1076.9 L1798.1 1076.9 L1795.3 1076.9 L1792.4 1076.9 L1789.6 1076.9 L1786.7 1076.8 L1783.9 1076.8 L1781.1 1076.8 L1778.2 1076.8 L1775.4 1076.7 L1772.5 1076.7 L1769.7 1076.7 L1766.8 1076.7 L1764.0 1076.6 L1761.1 1076.6 L1758.3 1076.6 L1755.4 1076.5 L1752.6 1076.5 L1749.7 1076.5 L1746.9 1076.4 L1744.0 1076.4 L1741.2 1076.3 L1738.3 1076.3 L1735.5 1076.3 L1732.6 1076.2 L1729.8 1076.2 L1727.0 1076.1 L1724.1 1076.1 L1721.3 1076.1 L1718.4 1076.0 L1715.6 1076.0 L1712.7 1075.9 L1709.9 1075.9 L1707.0 1075.8 L1704.2 1075.8 L1701.3 1075.7 L1698.5 1075.7 L1695.6 1075.6 L1692.8 1075.6 L1689.9 1075.5 L1687.1 1075.5 L1684.3 1075.4 L1681.4 1075.4 L1678.6 1075.3 L1675.7 1075.3 L1672.9 1075.2 L1670.0 1075.1 L1667.2 1075.1 L1664.3 1075.0 L1661.5 1075.0 L1658.6 1074.9 L1655.8 1074.9 L1652.9 1074.8 L1650.1 1074.7 L1647.2 1074.7 L1644.4 1074.6 L1641.6 1074.5 L1638.7 1074.5 L1635.9 1074.4 L1633.0 1074.3 L1630.2 1074.3 L1627.3 1074.2 L1624.5 1074.1 L1621.6 1074.1 L1618.8 1074.0 L1615.9 1073.9 L1613.1 1073.9 L1610.2 1073.8 L1607.4 1073.7 L1604.6 1073.6 L1601.7 1073.6 L1598.9 1073.5 L1596.0 1073.4 L1593.2 1073.3 L1590.3 1073.3 L1587.5 1073.2 L1584.6 1073.1 L1581.8 1073.0 L1578.9 1072.9 L1576.1 1072.9 L1573.3 1072.8 L1570.4 1072.7 L1567.6 1072.6 L1564.7 1072.5 L1561.9 1072.5 L1559.0 1072.4 L1556.2 1072.3 L1553.3 1072.2 L1550.5 1072.1 L1547.6 1072.0 L1544.8 1072.0 L1542.0 1071.9 L1539.1 1071.8 L1536.3 1071.7 L1533.4 1071.6 L1530.6 1071.5 L1527.7 1071.4 L1524.9 1071.3 L1522.0 1071.3 L1519.2 1071.2 L1516.3 1071.1 L1513.5 1071.0 L1510.6 1070.9 L1507.8 1070.8 L1505.0 1070.7 L1502.1 1070.6 L1499.3 1070.5 L1496.4 1070.4 L1493.6 1070.3 L1490.7 1070.2 L1487.9 1070.1 L1485.0 1070.0 L1482.2 1070.0 L1479.4 1069.9 L1476.5 1069.8 L1473.7 1069.7 L1470.8 1069.6 L1468.0 1069.5 L1465.1 1069.4 L1462.3 1069.3 L1459.4 1069.2 L1456.6 1069.1 L1453.7 1069.0 L1450.9 1068.9 L1448.1 1068.8 L1445.2 1068.7 L1442.4 1068.6 L1439.5 1068.5 L1436.7 1068.4 L1433.8 1068.3 L1431.0 1068.2 L1428.1 1068.1 L1425.3 1068.0 L1422.4 1067.8 L1419.6 1067.7 L1416.8 1067.6 L1413.9 1067.5 L1411.1 1067.4 L1408.2 1067.3 L1405.4 1067.2 L1402.5 1067.1 L1399.7 1067.0 L1396.8 1066.9 L1394.0 1066.8 L1391.1 1066.7 L1388.3 1066.6 L1385.5 1066.5 L1382.6 1066.4 L1379.8 1066.3 L1376.9 1066.2 L1374.1 1066.0 L1371.2 1065.9 L1368.4 1065.8 L1365.5 1065.7 L1362.7 1065.6 L1359.9 1065.5 L1357.0 1065.4 L1354.2 1065.3 L1351.3 1065.2 L1348.5 1065.1 L1345.6 1064.9 L1342.8 1064.8 L1339.9 1064.7 L1337.1 1064.6 L1334.2 1064.5 L1331.4 1064.4 L1328.6 1064.3 L1325.7 1064.2 L1322.9 1064.1 L1320.0 1063.9 L1317.2 1063.8 L1314.3 1063.7 L1311.5 1063.6 L1308.6 1063.5 L1305.8 1063.4 L1302.9 1063.3 L1300.1 1063.2 L1297.3 1063.0 L1294.4 1062.9 L1291.6 1062.8 L1288.7 1062.7 L1285.9 1062.6 L1283.0 1062.5 L1280.2 1062.4 L1277.3 1062.3 L1274.5 1062.1 L1271.6 1062.0 L1268.8 1061.9 L1266.0 1061.8 L1263.1 1061.7 L1260.3 1061.6 L1257.4 1061.5 L1254.6 1061.4 L1251.7 1061.2 L1248.9 1061.1 L1246.0 1061.0 L1243.2 1060.9 L1240.3 1060.8 L1237.5 1060.7 L1234.7 1060.6 L1231.8 1060.4 L1229.0 1060.3 L1226.1 1060.2 L1223.3 1060.1 L1220.4 1060.0 L1217.6 1059.9 L1214.7 1059.8 L1211.9 1059.6 L1209.0 1059.5 L1206.2 1059.4 L1203.4 1059.3 L1200.5 1059.2 L1197.7 1059.1 L1194.8 1059.0 L1192.0 1058.9 L1189.1 1058.7 L1186.3 1058.6 L1183.4 1058.5 L1180.6 1058.4 L1177.7 1058.3 L1174.9 1058.2 L1172.0 1058.1 L1169.2 1058.0 L1166.4 1057.8 L1163.5 1057.7 L1160.7 1057.6 L1157.8 1057.5 L1155.0 1057.4 L1152.1 1057.3 L1149.3 1057.2 L1146.4 1057.1 L1143.6 1056.9 L1140.7 1056.8 L1137.9 1056.7 L1135.0 1056.6 L1132.2 1056.5 L1129.4 1056.4 L1126.5 1056.3 L1123.7 1056.2 L1120.8 1056.1 L1118.0 1056.0 L1115.1 1055.8 L1112.3 1055.7 L1109.4 1055.6 L1106.6 1055.5 L1103.7 1055.4 L1100.9 1055.3 L1098.0 1055.2 L1095.2 1055.1 L1092.4 1055.0 L1089.5 1054.9 L1086.7 1054.8 L1083.8 1054.7 L1081.0 1054.6 L1078.1 1054.5 L1075.3 1054.3 L1072.4 1054.2 L1069.6 1054.1 L1066.7 1054.0 L1063.9 1053.9 L1061.0 1053.8 L1058.2 1053.7 L1055.3 1053.6 L1052.5 1053.5 L1049.7 1053.4 L1046.8 1053.3 L1044.0 1053.2 L1041.1 1053.1 L1038.3 1053.0 L1035.4 1052.9 L1032.6 1052.8 L1029.7 1052.7 L1026.9 1052.6 L1024.0 1052.5 L1021.2 1052.4 L1018.3 1052.3 L1015.5 1052.2 L1012.6 1052.1 L1009.8 1052.0 L1006.9 1051.9 L1004.1 1051.8 L1001.2 1051.7 L998.4 1051.6 L995.6 1051.5 L992.7 1051.4 L989.9 1051.3 L987.0 1051.2 L984.2 1051.2 L981.3 1051.1 L978.5 1051.0 L975.6 1050.9 L972.8 1050.8 L969.9 1050.7 L967.1 1050.6 L964.2 1050.5 L961.4 1050.4 L958.5 1050.3 L955.7 1050.2 L952.8 1050.2 L950.0 1050.1 L947.1 1050.0 L944.3 1049.9 L941.4 1049.8 L938.6 1049.7 L935.7 1049.6 L932.9 1049.6 L930.0 1049.5 L927.2 1049.4 L924.3 1049.3 L921.5 1049.2 L918.7 1049.1 L915.8 1049.1 L913.0 1049.0 L910.1 1048.9 L907.3 1048.8 L904.4 1048.7 L901.6 1048.7 L898.7 1048.6 L895.9 1048.5 L893.0 1048.4 L890.2 1048.3 L887.3 1048.3 L884.5 1048.2 L881.6 1048.1 L878.8 1048.0 L875.9 1048.0 L873.1 1047.9 L870.2 1047.8 L867.4 1047.8 L864.5 1047.7 L861.7 1047.6 L858.8 1047.5 L856.0 1047.5 L853.1 1047.4 L850.3 1047.3 L847.4 1047.3 L844.6 1047.2 L841.7 1047.1 L838.9 1047.1 L836.0 1047.0 L833.2 1047.0 L830.3 1046.9 L827.5 1046.8 L824.6 1046.8 L821.8 1046.7 L818.9 1046.6 L816.1 1046.6 L813.2 1046.5 L810.4 1046.5 L807.5 1046.4 L804.7 1046.4 L801.8 1046.3 L799.0 1046.3 L796.1 1046.2 L793.3 1046.1 L790.4 1046.1 L787.6 1046.0 L784.7 1046.0 L781.9 1045.9 L779.0 1045.9 L776.2 1045.8 L773.3 1045.8 L770.5 1045.8 L767.6 1045.7 L764.8 1045.7 L761.9 1045.6 L759.1 1045.6 L756.2 1045.5 L753.3 1045.5 L750.5 1045.5 L747.6 1045.4 L744.8 1045.4 L741.9 1045.4 L739.1 1045.3 L736.2 1045.3 L733.4 1045.3 L730.5 1045.3 L727.7 1045.3 L724.8 1045.3 L722.0 1045.3 L719.1 1045.3 L716.2 1045.3 L713.4 1045.3 L710.5 1045.3 L707.7 1045.3 L704.8 1045.4 L702.0 1045.4 L699.1 1045.5 L696.3 1045.5 L693.4 1045.6 L690.6 1045.7 L687.7 1045.8 L684.9 1045.9 L682.1 1046.0 L679.2 1046.1 L676.4 1046.2 L673.5 1046.4 L670.7 1046.5 L667.8 1046.7 L665.0 1046.9 L662.2 1047.1 L659.3 1047.3 L656.5 1047.5 L653.7 1047.7 L650.8 1047.9 L648.0 1048.2 L645.2 1048.5 L642.4 1048.8 L639.5 1049.1 L636.7 1049.4 L633.9 1049.7 L631.1 1050.0 L628.3 1050.4 L625.5 1050.8 L622.7 1051.2 L619.9 1051.6 L617.1 1052.0 L614.3 1052.5 L611.5 1053.0 L608.7 1053.5 L605.9 1054.0 L603.1 1054.5 L600.3 1055.0 L597.5 1055.6 L594.7 1056.2 L592.0 1056.8 L589.2 1057.4 L586.4 1058.1 L583.7 1058.8 L580.9 1059.5 L578.1 1060.2 L575.4 1060.9 L572.6 1061.7 L569.9 1062.5 L567.1 1063.3 L564.4 1064.1 L561.7 1065.0 L559.0 1065.9 L556.2 1066.7 L553.5 1067.6 L550.8 1068.6 L548.1 1069.5 L545.4 1070.5 L542.7 1071.5 L540.0 1072.5 L537.3 1073.5 L534.6 1074.5 L532.0 1075.6 L529.3 1076.6 L526.6 1077.7 L523.9 1078.8 L521.3 1079.9 L518.6 1081.0 L516.0 1082.2 L513.3 1083.3 L510.7 1084.5 L508.1 1085.6 L505.4 1086.8 L502.8 1088.0 L500.2 1089.2 L497.5 1090.5 L494.9 1091.7 L492.3 1093.0 L489.7 1094.2 L487.1 1095.5 L484.5 1096.8 L481.9 1098.1 L479.3 1099.3 L476.7 1100.7 L474.2 1102.0 L471.6 1103.3 L469.0 1104.6 L466.4 1106.0 L463.9 1107.3 L461.3 1108.7 L458.8 1110.0 L456.2 1111.4 L453.7 1112.7 L451.1 1114.1 L448.6 1115.5 L446.0 1116.9 L443.5 1118.3 L441.0 1119.7 L438.5 1121.1 L435.9 1122.5 L433.4 1123.9 L430.9 1125.3Z" stroke="none"/>
<line x1="607" y1="243.5" x2="607" y2="345.3" stroke-width="8" stroke-linecap="butt"/>
<line x1="585" y1="243.5" x2="629" y2="243.5" stroke-width="8.5" stroke-linecap="butt"/>
<line x1="585" y1="345.3" x2="629" y2="345.3" stroke-width="8.5" stroke-linecap="butt"/>
<line x1="785" y1="129.5" x2="785" y2="227" stroke-width="8" stroke-linecap="butt"/>
<line x1="763" y1="129.5" x2="807" y2="129.5" stroke-width="8.5" stroke-linecap="butt"/>
<line x1="763" y1="227" x2="807" y2="227" stroke-width="8.5" stroke-linecap="butt"/>
<line x1="960" y1="420.7" x2="960" y2="500" stroke-width="8" stroke-linecap="butt"/>
<line x1="938" y1="420.7" x2="982" y2="420.7" stroke-width="8.5" stroke-linecap="butt"/>
<line x1="938" y1="500" x2="982" y2="500" stroke-width="8.5" stroke-linecap="butt"/>
<line x1="1134" y1="602.5" x2="1134" y2="714" stroke-width="8" stroke-linecap="butt"/>
<line x1="1112" y1="602.5" x2="1156" y2="602.5" stroke-width="8.5" stroke-linecap="butt"/>
<line x1="1112" y1="714" x2="1156" y2="714" stroke-width="8.5" stroke-linecap="butt"/>
<line x1="1486" y1="703" x2="1486" y2="791" stroke-width="8" stroke-linecap="butt"/>
<line x1="1464" y1="703" x2="1508" y2="703" stroke-width="8.5" stroke-linecap="butt"/>
<line x1="1464" y1="791" x2="1508" y2="791" stroke-width="8.5" stroke-linecap="butt"/>
<line x1="1838" y1="772.6" x2="1838" y2="849" stroke-width="8" stroke-linecap="butt"/>
<line x1="1816" y1="772.6" x2="1860" y2="772.6" stroke-width="8.5" stroke-linecap="butt"/>
<line x1="1816" y1="849" x2="1860" y2="849" stroke-width="8.5" stroke-linecap="butt"/>
<line x1="607" y1="443" x2="607" y2="555.5" stroke-width="8" stroke-linecap="butt"/>
<line x1="585" y1="443" x2="629" y2="443" stroke-width="8.5" stroke-linecap="butt"/>
<line x1="585" y1="555.5" x2="629" y2="555.5" stroke-width="8.5" stroke-linecap="butt"/>
<line x1="785" y1="325.3" x2="785" y2="453.3" stroke-width="8" stroke-linecap="butt"/>
<line x1="763" y1="325.3" x2="807" y2="325.3" stroke-width="8.5" stroke-linecap="butt"/>
<line x1="763" y1="453.3" x2="807" y2="453.3" stroke-width="8.5" stroke-linecap="butt"/>
<line x1="960" y1="550.6" x2="960" y2="615" stroke-width="8" stroke-linecap="butt"/>
<line x1="938" y1="550.6" x2="982" y2="550.6" stroke-width="8.5" stroke-linecap="butt"/>
<line x1="938" y1="615" x2="982" y2="615" stroke-width="8.5" stroke-linecap="butt"/>
<line x1="1134" y1="721" x2="1134" y2="843" stroke-width="8" stroke-linecap="butt"/>
<line x1="1112" y1="721" x2="1156" y2="721" stroke-width="8.5" stroke-linecap="butt"/>
<line x1="1112" y1="843" x2="1156" y2="843" stroke-width="8.5" stroke-linecap="butt"/>
<line x1="1486" y1="777" x2="1486" y2="903" stroke-width="8" stroke-linecap="butt"/>
<line x1="1464" y1="777" x2="1508" y2="777" stroke-width="8.5" stroke-linecap="butt"/>
<line x1="1464" y1="903" x2="1508" y2="903" stroke-width="8.5" stroke-linecap="butt"/>
<line x1="1838" y1="819" x2="1838" y2="913" stroke-width="8" stroke-linecap="butt"/>
<line x1="1816" y1="819" x2="1860" y2="819" stroke-width="8.5" stroke-linecap="butt"/>
<line x1="1816" y1="913" x2="1860" y2="913" stroke-width="8.5" stroke-linecap="butt"/>
<line x1="607" y1="891" x2="607" y2="939.5" stroke-width="8" stroke-linecap="butt"/>
<line x1="574" y1="891" x2="640" y2="891" stroke-width="8.5" stroke-linecap="butt"/>
<line x1="574" y1="939.5" x2="640" y2="939.5" stroke-width="8.5" stroke-linecap="butt"/>
<line x1="785" y1="853" x2="785" y2="909" stroke-width="8" stroke-linecap="butt"/>
<line x1="753" y1="853" x2="817" y2="853" stroke-width="8.5" stroke-linecap="butt"/>
<line x1="753" y1="909" x2="817" y2="909" stroke-width="8.5" stroke-linecap="butt"/>
<line x1="960" y1="900.7" x2="960" y2="984" stroke-width="8" stroke-linecap="butt"/>
<line x1="927" y1="900.7" x2="993" y2="900.7" stroke-width="8.5" stroke-linecap="butt"/>
<line x1="927" y1="984" x2="993" y2="984" stroke-width="8.5" stroke-linecap="butt"/>
<line x1="1134" y1="938.6" x2="1134" y2="1026" stroke-width="8" stroke-linecap="butt"/>
<line x1="1102" y1="938.6" x2="1166" y2="938.6" stroke-width="8.5" stroke-linecap="butt"/>
<line x1="1102" y1="1026" x2="1166" y2="1026" stroke-width="8.5" stroke-linecap="butt"/>
<line x1="1486" y1="989" x2="1486" y2="1048.7" stroke-width="8" stroke-linecap="butt"/>
<line x1="1453" y1="989" x2="1519" y2="989" stroke-width="8.5" stroke-linecap="butt"/>
<line x1="1453" y1="1048.7" x2="1519" y2="1048.7" stroke-width="8.5" stroke-linecap="butt"/>
<line x1="1838" y1="1000" x2="1838" y2="1059" stroke-width="8" stroke-linecap="butt"/>
<line x1="1805" y1="1000" x2="1871" y2="1000" stroke-width="8.5" stroke-linecap="butt"/>
<line x1="1805" y1="1059" x2="1871" y2="1059" stroke-width="8.5" stroke-linecap="butt"/>
<line x1="607" y1="1018" x2="607" y2="1050" stroke-width="8" stroke-linecap="butt"/>
<line x1="583.5" y1="1018" x2="630.5" y2="1018" stroke-width="8.5" stroke-linecap="butt"/>
<line x1="583.5" y1="1050" x2="630.5" y2="1050" stroke-width="8.5" stroke-linecap="butt"/>
<line x1="785" y1="1035" x2="785" y2="1061" stroke-width="8" stroke-linecap="butt"/>
<line x1="761.5" y1="1035" x2="808.5" y2="1035" stroke-width="8.5" stroke-linecap="butt"/>
<line x1="761.5" y1="1061" x2="808.5" y2="1061" stroke-width="8.5" stroke-linecap="butt"/>
<line x1="960" y1="1020" x2="960" y2="1070" stroke-width="8" stroke-linecap="butt"/>
<line x1="936.5" y1="1020" x2="983.5" y2="1020" stroke-width="8.5" stroke-linecap="butt"/>
<line x1="936.5" y1="1070" x2="983.5" y2="1070" stroke-width="8.5" stroke-linecap="butt"/>
<line x1="1134" y1="1042" x2="1134" y2="1085" stroke-width="8" stroke-linecap="butt"/>
<line x1="1110.5" y1="1042" x2="1157.5" y2="1042" stroke-width="8.5" stroke-linecap="butt"/>
<line x1="1110.5" y1="1085" x2="1157.5" y2="1085" stroke-width="8.5" stroke-linecap="butt"/>
<line x1="1486" y1="1060" x2="1486" y2="1088" stroke-width="8" stroke-linecap="butt"/>
<line x1="1462.5" y1="1060" x2="1509.5" y2="1060" stroke-width="8.5" stroke-linecap="butt"/>
<line x1="1462.5" y1="1088" x2="1509.5" y2="1088" stroke-width="8.5" stroke-linecap="butt"/>
<line x1="1838" y1="1062" x2="1838" y2="1092" stroke-width="8" stroke-linecap="butt"/>
<line x1="1814.5" y1="1062" x2="1861.5" y2="1062" stroke-width="8.5" stroke-linecap="butt"/>
<line x1="1814.5" y1="1092" x2="1861.5" y2="1092" stroke-width="8.5" stroke-linecap="butt"/>
<rect x="412" y="1108" width="42" height="42" stroke="none"/>
<rect x="586" y="271.5" width="42" height="42" stroke="none"/>
<rect x="764" y="152" width="42" height="42" stroke="none"/>
<rect x="939" y="437.5" width="42" height="42" stroke="none"/>
<rect x="1113" y="636" width="42" height="42" stroke="none"/>
<rect x="1465" y="726" width="42" height="42" stroke="none"/>
<rect x="1817" y="790" width="42" height="42" stroke="none"/>
<ellipse cx="433" cy="1129" rx="23" ry="20.5" stroke="none"/>
<ellipse cx="607" cy="494" rx="23" ry="20.5" stroke="none"/>
<ellipse cx="785" cy="385.5" rx="23" ry="20.5" stroke="none"/>
<ellipse cx="960" cy="580" rx="23" ry="20.5" stroke="none"/>
<ellipse cx="1134" cy="780" rx="23" ry="20.5" stroke="none"/>
<ellipse cx="1486" cy="840" rx="23" ry="20.5" stroke="none"/>
<ellipse cx="1838" cy="866" rx="23" ry="20.5" stroke="none"/>
<polygon points="433,1105.5 461,1152.5 405,1152.5" stroke="none"/>
<polygon points="607,1010.5 635,1057.5 579,1057.5" stroke="none"/>
<polygon points="785,1024.5 813,1071.5 757,1071.5" stroke="none"/>
<polygon points="960,1022.5 988,1069.5 932,1069.5" stroke="none"/>
<polygon points="1134,1042.5 1162,1089.5 1106,1089.5" stroke="none"/>
<polygon points="1486,1049.5 1514,1096.5 1458,1096.5" stroke="none"/>
<polygon points="1838,1052.5 1866,1099.5 1810,1099.5" stroke="none"/>
<polygon points="433,1152.5 460,1105.5 406,1105.5" stroke="none"/>
<polygon points="607,943.5 634,896.5 580,896.5" stroke="none"/>
<polygon points="785,903.5 812,856.5 758,856.5" stroke="none"/>
<polygon points="960,970.5 987,923.5 933,923.5" stroke="none"/>
<polygon points="1134,1010.5 1161,963.5 1107,963.5" stroke="none"/>
<polygon points="1486,1046.5 1513,999.5 1459,999.5" stroke="none"/>
<polygon points="1838,1049.5 1865,1002.5 1811,1002.5" stroke="none"/>
<line x1="401.5" y1="77" x2="401.5" y2="1133" stroke-width="10" stroke-linecap="butt"/>
<line x1="377" y1="80.5" x2="401.5" y2="80.5" stroke-width="7" stroke-linecap="butt"/>
<line x1="377" y1="258.3" x2="401.5" y2="258.3" stroke-width="7" stroke-linecap="butt"/>
<line x1="377" y1="430.3" x2="401.5" y2="430.3" stroke-width="7" stroke-linecap="butt"/>
<line x1="377" y1="604.4" x2="401.5" y2="604.4" stroke-width="7" stroke-linecap="butt"/>
<line x1="377" y1="784.2" x2="401.5" y2="784.2" stroke-width="7" stroke-linecap="butt"/>
<line x1="377" y1="956.5" x2="401.5" y2="956.5" stroke-width="7" stroke-linecap="butt"/>
<line x1="377" y1="1128.4" x2="401.5" y2="1128.4" stroke-width="7" stroke-linecap="butt"/>
<line x1="386" y1="166.5" x2="401.5" y2="166.5" stroke-width="7" stroke-linecap="butt"/>
<line x1="386" y1="346.3" x2="401.5" y2="346.3" stroke-width="7" stroke-linecap="butt"/>
<line x1="386" y1="518.4" x2="401.5" y2="518.4" stroke-width="7" stroke-linecap="butt"/>
<line x1="386" y1="692.3" x2="401.5" y2="692.3" stroke-width="7" stroke-linecap="butt"/>
<line x1="386" y1="871.5" x2="401.5" y2="871.5" stroke-width="7" stroke-linecap="butt"/>
<line x1="386" y1="1042.8" x2="401.5" y2="1042.8" stroke-width="7" stroke-linecap="butt"/>
<line x1="433" y1="1168" x2="1842" y2="1168" stroke-width="10" stroke-linecap="butt"/>
<line x1="433" y1="1164.5" x2="433" y2="1192" stroke-width="7" stroke-linecap="butt"/>
<line x1="607" y1="1164.5" x2="607" y2="1192" stroke-width="7" stroke-linecap="butt"/>
<line x1="785.5" y1="1164.5" x2="785.5" y2="1192" stroke-width="7" stroke-linecap="butt"/>
<line x1="960" y1="1164.5" x2="960" y2="1192" stroke-width="7" stroke-linecap="butt"/>
<line x1="1134.5" y1="1164.5" x2="1134.5" y2="1192" stroke-width="7" stroke-linecap="butt"/>
<line x1="1311" y1="1164.5" x2="1311" y2="1192" stroke-width="7" stroke-linecap="butt"/>
<line x1="1486" y1="1164.5" x2="1486" y2="1192" stroke-width="7" stroke-linecap="butt"/>
<line x1="1664.5" y1="1164.5" x2="1664.5" y2="1192" stroke-width="7" stroke-linecap="butt"/>
<line x1="1839" y1="1164.5" x2="1839" y2="1192" stroke-width="7" stroke-linecap="butt"/>
<line x1="520" y1="1164.5" x2="520" y2="1184" stroke-width="7" stroke-linecap="butt"/>
<line x1="694" y1="1164.5" x2="694" y2="1184" stroke-width="7" stroke-linecap="butt"/>
<line x1="873" y1="1164.5" x2="873" y2="1184" stroke-width="7" stroke-linecap="butt"/>
<line x1="1047" y1="1164.5" x2="1047" y2="1184" stroke-width="7" stroke-linecap="butt"/>
<line x1="1225" y1="1164.5" x2="1225" y2="1184" stroke-width="7" stroke-linecap="butt"/>
<line x1="1399" y1="1164.5" x2="1399" y2="1184" stroke-width="7" stroke-linecap="butt"/>
<line x1="1573" y1="1164.5" x2="1573" y2="1184" stroke-width="7" stroke-linecap="butt"/>
<line x1="1752" y1="1164.5" x2="1752" y2="1184" stroke-width="7" stroke-linecap="butt"/>
<path d="M437.7 2361.1 L438.7 2356.5 L439.7 2352.0 L440.7 2347.5 L441.7 2342.9 L442.7 2338.4 L443.7 2333.9 L444.7 2329.3 L445.6 2324.8 L446.6 2320.2 L447.6 2315.7 L448.5 2311.1 L449.4 2306.6 L450.4 2302.0 L451.3 2297.5 L452.2 2292.9 L453.1 2288.4 L454.1 2283.8 L455.0 2279.3 L455.9 2274.7 L456.8 2270.2 L457.6 2265.6 L458.5 2261.1 L459.4 2256.5 L460.3 2251.9 L461.2 2247.4 L462.0 2242.8 L462.9 2238.2 L463.8 2233.7 L464.7 2229.1 L465.5 2224.6 L466.4 2220.0 L467.2 2215.4 L468.1 2210.9 L469.0 2206.3 L469.8 2201.7 L470.7 2197.2 L471.6 2192.6 L472.4 2188.1 L473.3 2183.5 L474.1 2178.9 L475.0 2174.4 L475.9 2169.8 L476.7 2165.3 L477.6 2160.7 L478.5 2156.2 L479.3 2151.6 L480.2 2147.0 L481.1 2142.5 L482.0 2137.9 L482.9 2133.4 L483.8 2128.8 L484.7 2124.3 L485.6 2119.7 L486.5 2115.2 L487.4 2110.7 L488.3 2106.1 L489.2 2101.6 L490.1 2097.0 L491.1 2092.5 L492.0 2088.0 L493.0 2083.4 L493.9 2078.9 L494.9 2074.4 L495.8 2069.8 L496.8 2065.3 L497.8 2060.8 L498.8 2056.3 L499.8 2051.8 L500.8 2047.3 L501.8 2042.7 L502.9 2038.2 L503.9 2033.7 L504.9 2029.2 L506.0 2024.7 L507.1 2020.2 L508.1 2015.7 L509.2 2011.3 L510.3 2006.8 L511.5 2002.3 L512.6 1997.8 L513.7 1993.3 L514.9 1988.9 L516.0 1984.4 L517.2 1979.9 L518.4 1975.5 L519.6 1971.0 L520.8 1966.5 L522.0 1962.1 L523.3 1957.6 L524.5 1953.2 L525.8 1948.7 L527.1 1944.3 L528.4 1939.9 L529.6 1935.4 L530.9 1931.0 L532.2 1926.5 L533.6 1922.1 L534.9 1917.7 L536.2 1913.2 L537.5 1908.8 L538.9 1904.4 L540.2 1899.9 L541.5 1895.5 L542.9 1891.1 L544.2 1886.6 L545.6 1882.2 L546.9 1877.8 L548.3 1873.3 L549.6 1868.9 L551.0 1864.5 L552.3 1860.0 L553.6 1855.6 L555.0 1851.2 L556.3 1846.7 L557.6 1842.3 L558.9 1837.8 L560.2 1833.4 L561.6 1829.0 L562.9 1824.5 L564.2 1820.1 L565.5 1815.7 L566.8 1811.2 L568.1 1806.8 L569.4 1802.4 L570.7 1797.9 L572.0 1793.5 L573.3 1789.1 L574.6 1784.6 L576.0 1780.2 L577.3 1775.8 L578.6 1771.4 L579.9 1767.0 L581.3 1762.5 L582.6 1758.1 L583.9 1753.7 L585.3 1749.3 L586.6 1744.9 L588.0 1740.5 L589.4 1736.1 L590.7 1731.7 L592.1 1727.3 L593.5 1722.9 L594.9 1718.5 L596.3 1714.1 L597.8 1709.8 L599.2 1705.4 L600.6 1701.0 L602.1 1696.7 L603.6 1692.3 L605.1 1687.9 L606.6 1683.6 L608.2 1679.3 L609.7 1674.9 L611.3 1670.6 L612.9 1666.3 L614.6 1662.0 L616.2 1657.7 L617.9 1653.4 L619.7 1649.1 L621.4 1644.9 L623.2 1640.6 L625.1 1636.4 L626.9 1632.1 L628.9 1627.9 L630.8 1623.7 L632.8 1619.5 L634.9 1615.3 L637.0 1611.1 L639.1 1607.0 L641.3 1602.8 L643.5 1598.7 L645.8 1594.6 L648.2 1590.4 L650.6 1586.3 L653.0 1582.3 L655.6 1578.2 L658.2 1574.1 L660.8 1570.1 L663.5 1566.1 L666.2 1562.1 L669.1 1558.2 L671.9 1554.4 L674.8 1550.6 L677.8 1547.0 L680.8 1543.4 L683.9 1540.0 L687.2 1536.9 L690.6 1533.9 L694.0 1531.2 L697.4 1528.6 L701.0 1526.3 L704.5 1524.2 L708.1 1522.4 L711.8 1520.7 L715.4 1519.4 L719.1 1518.3 L722.8 1517.4 L726.6 1516.8 L730.5 1516.5 L734.4 1516.4 L738.4 1516.6 L742.4 1517.1 L746.5 1517.7 L750.6 1518.7 L754.7 1519.8 L758.8 1521.2 L762.8 1522.8 L766.8 1524.6 L770.6 1526.6 L774.4 1528.8 L778.1 1531.1 L781.7 1533.6 L785.1 1536.3 L788.5 1539.1 L791.7 1542.1 L794.7 1545.5 L797.6 1548.9 L800.4 1552.4 L803.1 1556.1 L805.8 1559.8 L808.4 1563.6 L810.9 1567.5 L813.4 1571.5 L815.8 1575.6 L818.2 1579.7 L820.5 1583.9 L822.8 1588.1 L825.0 1592.4 L827.3 1596.7 L829.5 1601.0 L831.7 1605.3 L833.9 1609.7 L836.0 1614.0 L838.2 1618.4 L840.4 1622.7 L842.6 1627.0 L844.8 1631.2 L847.0 1635.5 L849.2 1639.7 L851.4 1643.9 L853.6 1648.0 L855.9 1652.2 L858.1 1656.3 L860.3 1660.4 L862.5 1664.5 L864.8 1668.5 L867.0 1672.6 L869.3 1676.6 L871.5 1680.6 L873.7 1684.6 L876.0 1688.6 L878.2 1692.6 L880.5 1696.5 L882.8 1700.5 L885.0 1704.4 L887.3 1708.4 L889.5 1712.3 L891.8 1716.3 L894.1 1720.2 L896.3 1724.1 L898.6 1728.0 L900.9 1732.0 L903.2 1735.9 L905.5 1739.8 L907.7 1743.8 L910.0 1747.7 L912.3 1751.7 L914.6 1755.6 L916.9 1759.6 L919.2 1763.5 L921.4 1767.5 L923.7 1771.5 L926.0 1775.5 L928.3 1779.5 L930.6 1783.6 L932.9 1787.6 L935.2 1791.7 L937.6 1795.7 L939.9 1799.8 L942.2 1803.9 L944.6 1808.0 L947.0 1812.0 L949.4 1816.1 L951.8 1820.2 L954.2 1824.2 L956.7 1828.2 L959.2 1832.2 L961.7 1836.2 L964.2 1840.2 L966.8 1844.1 L969.4 1848.0 L972.1 1851.9 L974.8 1855.8 L977.5 1859.6 L980.3 1863.3 L983.1 1867.0 L985.9 1870.7 L988.8 1874.4 L991.8 1877.9 L994.7 1881.5 L997.8 1885.0 L1000.8 1888.4 L1003.9 1891.9 L1007.1 1895.2 L1010.3 1898.6 L1013.6 1901.8 L1016.8 1905.1 L1020.1 1908.4 L1023.4 1911.6 L1026.8 1914.8 L1030.3 1917.9 L1033.7 1921.0 L1037.2 1924.1 L1040.7 1927.1 L1044.3 1930.1 L1047.9 1933.1 L1051.5 1936.1 L1055.1 1939.0 L1058.7 1941.9 L1062.3 1944.9 L1065.9 1947.8 L1069.5 1950.7 L1073.2 1953.6 L1076.8 1956.5 L1080.5 1959.4 L1084.1 1962.2 L1087.8 1965.1 L1091.5 1967.9 L1095.1 1970.8 L1098.9 1973.6 L1102.6 1976.3 L1106.3 1979.1 L1110.1 1981.8 L1113.9 1984.5 L1117.7 1987.2 L1121.5 1989.8 L1125.4 1992.4 L1129.3 1994.9 L1133.2 1997.4 L1137.1 1999.9 L1141.1 2002.3 L1145.1 2004.7 L1149.1 2007.0 L1153.2 2009.3 L1157.3 2011.4 L1161.4 2013.6 L1165.6 2015.7 L1169.7 2017.7 L1173.9 2019.8 L1178.1 2021.8 L1182.2 2023.7 L1186.4 2025.7 L1190.6 2027.7 L1194.8 2029.6 L1198.9 2031.6 L1203.0 2033.6 L1207.2 2035.7 L1211.3 2037.7 L1215.4 2039.8 L1219.5 2041.9 L1223.6 2044.1 L1227.7 2046.2 L1231.8 2048.3 L1235.9 2050.5 L1240.0 2052.6 L1244.1 2054.7 L1248.2 2056.8 L1252.4 2058.9 L1256.5 2061.0 L1260.7 2063.1 L1264.9 2065.1 L1269.1 2067.1 L1273.3 2069.0 L1277.6 2070.9 L1281.8 2072.8 L1286.1 2074.6 L1290.4 2076.4 L1294.8 2078.1 L1299.1 2079.8 L1303.4 2081.4 L1307.8 2083.1 L1312.1 2084.6 L1316.5 2086.2 L1320.9 2087.8 L1325.2 2089.3 L1329.6 2090.8 L1334.0 2092.3 L1338.4 2093.8 L1342.7 2095.3 L1347.1 2096.8 L1351.5 2098.3 L1355.9 2099.8 L1360.2 2101.4 L1364.6 2102.9 L1369.0 2104.4 L1373.4 2106.0 L1377.7 2107.5 L1382.1 2109.0 L1386.5 2110.6 L1390.9 2112.1 L1395.2 2113.7 L1399.6 2115.2 L1404.0 2116.7 L1408.4 2118.3 L1412.8 2119.8 L1417.2 2121.4 L1421.6 2122.9 L1426.0 2124.4 L1430.4 2125.9 L1434.8 2127.4 L1439.2 2128.9 L1443.6 2130.4 L1448.0 2131.9 L1452.4 2133.4 L1456.8 2134.9 L1461.2 2136.3 L1465.7 2137.8 L1470.1 2139.2 L1474.5 2140.6 L1479.0 2142.0 L1483.4 2143.4 L1487.8 2144.8 L1492.3 2146.1 L1496.7 2147.5 L1501.2 2148.8 L1505.7 2150.2 L1510.1 2151.5 L1514.6 2152.8 L1519.0 2154.1 L1523.5 2155.4 L1528.0 2156.6 L1532.5 2157.9 L1536.9 2159.1 L1541.4 2160.4 L1545.9 2161.6 L1550.4 2162.8 L1554.9 2164.0 L1559.4 2165.2 L1563.9 2166.4 L1568.4 2167.6 L1572.9 2168.7 L1577.4 2169.9 L1581.9 2171.0 L1586.4 2172.1 L1590.9 2173.2 L1595.4 2174.3 L1600.0 2175.4 L1604.5 2176.5 L1609.0 2177.6 L1613.5 2178.7 L1618.1 2179.7 L1622.6 2180.8 L1627.1 2181.8 L1631.7 2182.8 L1636.2 2183.8 L1640.7 2184.9 L1645.3 2185.9 L1649.8 2186.8 L1654.4 2187.8 L1658.9 2188.8 L1663.4 2189.8 L1668.0 2190.7 L1672.6 2191.7 L1677.1 2192.6 L1681.7 2193.5 L1686.2 2194.4 L1690.8 2195.4 L1695.3 2196.3 L1699.9 2197.2 L1704.5 2198.0 L1709.0 2198.9 L1713.6 2199.8 L1718.2 2200.7 L1722.7 2201.5 L1727.3 2202.4 L1731.9 2203.2 L1736.4 2204.0 L1741.0 2204.9 L1745.6 2205.7 L1750.2 2206.5 L1754.7 2207.3 L1759.3 2208.1 L1763.9 2208.9 L1768.5 2209.7 L1773.1 2210.5 L1777.6 2211.3 L1782.2 2212.0 L1786.8 2212.8 L1791.4 2213.5 L1796.0 2214.3 L1800.6 2215.0 L1805.2 2215.8 L1809.7 2216.5 L1814.3 2217.2 L1818.9 2218.0 L1823.5 2218.7 L1828.1 2219.4 L1832.7 2220.1 L1837.3 2220.8 L1838.7 2211.2 L1834.1 2210.5 L1829.6 2209.8 L1825.0 2209.1 L1820.4 2208.4 L1815.8 2207.7 L1811.3 2206.9 L1806.7 2206.2 L1802.1 2205.5 L1797.5 2204.7 L1793.0 2204.0 L1788.4 2203.2 L1783.8 2202.5 L1779.2 2201.7 L1774.7 2201.0 L1770.1 2200.2 L1765.5 2199.4 L1761.0 2198.6 L1756.4 2197.8 L1751.8 2197.0 L1747.3 2196.2 L1742.7 2195.4 L1738.2 2194.6 L1733.6 2193.7 L1729.0 2192.9 L1724.5 2192.0 L1719.9 2191.2 L1715.4 2190.3 L1710.8 2189.5 L1706.3 2188.6 L1701.7 2187.7 L1697.2 2186.8 L1692.6 2185.9 L1688.1 2185.0 L1683.6 2184.1 L1679.0 2183.2 L1674.5 2182.3 L1670.0 2181.3 L1665.4 2180.4 L1660.9 2179.4 L1656.4 2178.5 L1651.8 2177.5 L1647.3 2176.5 L1642.8 2175.5 L1638.3 2174.5 L1633.8 2173.5 L1629.2 2172.5 L1624.7 2171.5 L1620.2 2170.4 L1615.7 2169.4 L1611.2 2168.3 L1606.7 2167.3 L1602.2 2166.2 L1597.7 2165.1 L1593.2 2164.0 L1588.7 2162.9 L1584.2 2161.8 L1579.7 2160.7 L1575.2 2159.5 L1570.8 2158.4 L1566.3 2157.2 L1561.8 2156.0 L1557.3 2154.9 L1552.9 2153.7 L1548.4 2152.5 L1543.9 2151.3 L1539.5 2150.0 L1535.0 2148.8 L1530.5 2147.6 L1526.1 2146.3 L1521.6 2145.0 L1517.2 2143.8 L1512.8 2142.5 L1508.3 2141.2 L1503.9 2139.8 L1499.5 2138.5 L1495.0 2137.2 L1490.6 2135.8 L1486.2 2134.5 L1481.8 2133.1 L1477.3 2131.7 L1472.9 2130.3 L1468.5 2128.9 L1464.1 2127.5 L1459.7 2126.0 L1455.3 2124.6 L1450.9 2123.1 L1446.5 2121.6 L1442.1 2120.1 L1437.8 2118.7 L1433.4 2117.2 L1429.0 2115.6 L1424.6 2114.1 L1420.2 2112.6 L1415.8 2111.1 L1411.5 2109.6 L1407.1 2108.0 L1402.7 2106.5 L1398.3 2104.9 L1393.9 2103.4 L1389.6 2101.9 L1385.2 2100.3 L1380.8 2098.8 L1376.4 2097.2 L1372.0 2095.7 L1367.7 2094.2 L1363.3 2092.6 L1358.9 2091.1 L1354.5 2089.6 L1350.1 2088.1 L1345.8 2086.6 L1341.4 2085.1 L1337.0 2083.6 L1332.6 2082.1 L1328.3 2080.5 L1323.9 2079.0 L1319.6 2077.5 L1315.3 2076.0 L1310.9 2074.4 L1306.6 2072.8 L1302.3 2071.2 L1298.1 2069.6 L1293.8 2067.9 L1289.6 2066.2 L1285.4 2064.5 L1281.2 2062.7 L1277.0 2060.9 L1272.8 2059.0 L1268.7 2057.1 L1264.6 2055.1 L1260.4 2053.1 L1256.3 2051.1 L1252.2 2049.0 L1248.1 2047.0 L1244.0 2044.9 L1239.9 2042.7 L1235.8 2040.6 L1231.7 2038.5 L1227.6 2036.3 L1223.5 2034.2 L1219.4 2032.1 L1215.2 2030.0 L1211.1 2027.8 L1206.9 2025.8 L1202.7 2023.7 L1198.6 2021.7 L1194.4 2019.7 L1190.2 2017.7 L1186.0 2015.7 L1181.9 2013.8 L1177.7 2011.8 L1173.6 2009.8 L1169.4 2007.8 L1165.4 2005.8 L1161.3 2003.7 L1157.3 2001.6 L1153.3 1999.5 L1149.3 1997.3 L1145.4 1995.0 L1141.5 1992.7 L1137.6 1990.4 L1133.7 1988.0 L1129.9 1985.5 L1126.0 1983.0 L1122.3 1980.5 L1118.5 1977.9 L1114.7 1975.3 L1111.0 1972.7 L1107.3 1970.0 L1103.6 1967.3 L1099.9 1964.5 L1096.2 1961.7 L1092.5 1959.0 L1088.9 1956.1 L1085.2 1953.3 L1081.6 1950.4 L1077.9 1947.6 L1074.3 1944.7 L1070.7 1941.8 L1067.1 1938.9 L1063.5 1936.0 L1059.9 1933.1 L1056.3 1930.2 L1052.7 1927.3 L1049.1 1924.3 L1045.6 1921.4 L1042.1 1918.4 L1038.6 1915.5 L1035.1 1912.5 L1031.7 1909.4 L1028.3 1906.4 L1025.0 1903.3 L1021.7 1900.2 L1018.5 1896.9 L1015.4 1893.7 L1012.4 1890.3 L1009.3 1887.0 L1006.3 1883.6 L1003.4 1880.1 L1000.5 1876.7 L997.7 1873.1 L994.8 1869.6 L992.1 1866.0 L989.3 1862.3 L986.6 1858.7 L984.0 1854.9 L981.4 1851.2 L978.8 1847.4 L976.2 1843.5 L973.7 1839.6 L971.2 1835.7 L968.7 1831.8 L966.2 1827.8 L963.8 1823.9 L961.4 1819.9 L959.0 1815.8 L956.6 1811.8 L954.3 1807.8 L951.9 1803.7 L949.6 1799.7 L947.3 1795.6 L944.9 1791.5 L942.6 1787.5 L940.3 1783.4 L938.0 1779.4 L935.7 1775.3 L933.4 1771.3 L931.1 1767.3 L928.8 1763.3 L926.5 1759.3 L924.2 1755.3 L921.9 1751.4 L919.6 1747.4 L917.4 1743.5 L915.1 1739.5 L912.8 1735.6 L910.5 1731.7 L908.2 1727.7 L906.0 1723.8 L903.7 1719.9 L901.4 1715.9 L899.2 1712.0 L896.9 1708.1 L894.7 1704.2 L892.4 1700.2 L890.2 1696.3 L887.9 1692.3 L885.7 1688.4 L883.4 1684.4 L881.2 1680.4 L879.0 1676.4 L876.7 1672.4 L874.5 1668.4 L872.3 1664.4 L870.1 1660.3 L867.9 1656.3 L865.7 1652.2 L863.5 1648.1 L861.3 1644.0 L859.1 1639.8 L856.9 1635.7 L854.7 1631.5 L852.5 1627.2 L850.4 1623.0 L848.2 1618.7 L846.0 1614.4 L843.9 1610.1 L841.7 1605.8 L839.5 1601.4 L837.2 1597.0 L835.0 1592.7 L832.7 1588.3 L830.3 1584.0 L828.0 1579.7 L825.5 1575.5 L823.0 1571.3 L820.4 1567.1 L817.8 1563.1 L815.1 1559.1 L812.3 1555.2 L809.4 1551.3 L806.4 1547.6 L803.2 1544.0 L800.0 1540.6 L796.7 1537.2 L793.4 1533.9 L790.0 1530.7 L786.4 1527.6 L782.7 1524.6 L778.9 1521.8 L774.9 1519.2 L770.7 1516.9 L766.5 1514.7 L762.1 1512.7 L757.6 1511.0 L753.1 1509.5 L748.5 1508.4 L743.8 1507.5 L739.2 1506.9 L734.5 1506.6 L729.9 1506.7 L725.3 1507.2 L720.8 1508.0 L716.5 1509.2 L712.2 1510.8 L708.1 1512.6 L704.1 1514.7 L700.2 1517.0 L696.4 1519.6 L692.7 1522.3 L689.2 1525.3 L685.7 1528.4 L682.3 1531.7 L678.9 1535.1 L675.5 1538.6 L672.2 1542.1 L669.0 1545.8 L665.9 1549.6 L662.8 1553.5 L659.8 1557.5 L656.9 1561.5 L654.1 1565.5 L651.3 1569.6 L648.6 1573.7 L646.0 1577.9 L643.4 1582.0 L640.9 1586.2 L638.4 1590.3 L636.1 1594.5 L633.7 1598.7 L631.4 1602.9 L629.2 1607.2 L627.0 1611.4 L624.9 1615.6 L622.8 1619.9 L620.8 1624.2 L618.8 1628.5 L616.9 1632.8 L615.0 1637.1 L613.1 1641.4 L611.3 1645.7 L609.5 1650.0 L607.8 1654.4 L606.0 1658.7 L604.4 1663.0 L602.7 1667.4 L601.1 1671.8 L599.5 1676.1 L597.9 1680.5 L596.4 1684.9 L594.8 1689.3 L593.3 1693.7 L591.8 1698.1 L590.4 1702.5 L588.9 1706.9 L587.5 1711.3 L586.0 1715.7 L584.6 1720.1 L583.2 1724.5 L581.8 1728.9 L580.4 1733.3 L579.1 1737.7 L577.7 1742.1 L576.3 1746.6 L575.0 1751.0 L573.6 1755.4 L572.3 1759.8 L570.9 1764.3 L569.6 1768.7 L568.3 1773.1 L567.0 1777.5 L565.6 1782.0 L564.3 1786.4 L563.0 1790.8 L561.7 1795.3 L560.4 1799.7 L559.1 1804.1 L557.8 1808.6 L556.5 1813.0 L555.2 1817.4 L553.9 1821.9 L552.5 1826.3 L551.2 1830.7 L549.9 1835.2 L548.6 1839.6 L547.3 1844.0 L546.0 1848.5 L544.6 1852.9 L543.3 1857.3 L542.0 1861.8 L540.6 1866.2 L539.3 1870.6 L537.9 1875.0 L536.6 1879.5 L535.3 1883.9 L533.9 1888.3 L532.6 1892.8 L531.2 1897.2 L529.9 1901.7 L528.5 1906.1 L527.2 1910.5 L525.9 1915.0 L524.6 1919.4 L523.2 1923.9 L521.9 1928.3 L520.6 1932.8 L519.3 1937.2 L518.0 1941.7 L516.7 1946.2 L515.5 1950.6 L514.2 1955.1 L512.9 1959.6 L511.7 1964.0 L510.5 1968.5 L509.3 1973.0 L508.1 1977.5 L506.9 1982.0 L505.7 1986.5 L504.5 1991.0 L503.4 1995.5 L502.2 2000.0 L501.1 2004.5 L500.0 2009.0 L498.9 2013.5 L497.8 2018.0 L496.7 2022.5 L495.7 2027.1 L494.6 2031.6 L493.5 2036.1 L492.5 2040.6 L491.5 2045.2 L490.5 2049.7 L489.5 2054.2 L488.5 2058.8 L487.5 2063.3 L486.5 2067.8 L485.5 2072.4 L484.5 2076.9 L483.6 2081.5 L482.6 2086.0 L481.7 2090.6 L480.7 2095.1 L479.8 2099.7 L478.9 2104.2 L478.0 2108.8 L477.0 2113.3 L476.1 2117.9 L475.2 2122.4 L474.3 2127.0 L473.4 2131.5 L472.5 2136.1 L471.7 2140.7 L470.8 2145.2 L469.9 2149.8 L469.0 2154.3 L468.1 2158.9 L467.3 2163.5 L466.4 2168.0 L465.5 2172.6 L464.7 2177.2 L463.8 2181.7 L463.0 2186.3 L462.1 2190.8 L461.2 2195.4 L460.4 2200.0 L459.5 2204.5 L458.6 2209.1 L457.8 2213.6 L456.9 2218.2 L456.1 2222.8 L455.2 2227.3 L454.3 2231.9 L453.5 2236.4 L452.6 2241.0 L451.7 2245.6 L450.8 2250.1 L450.0 2254.7 L449.1 2259.2 L448.2 2263.8 L447.3 2268.3 L446.4 2272.9 L445.5 2277.4 L444.6 2282.0 L443.7 2286.5 L442.8 2291.0 L441.9 2295.6 L441.0 2300.1 L440.0 2304.7 L439.1 2309.2 L438.2 2313.7 L437.2 2318.3 L436.3 2322.8 L435.3 2327.3 L434.3 2331.8 L433.4 2336.4 L432.4 2340.9 L431.4 2345.4 L430.4 2349.9 L429.4 2354.4 L428.3 2358.9Z" stroke="none"/>
<path d="M436.9 2362.0 L438.4 2359.0 L440.0 2356.0 L441.5 2353.0 L443.1 2350.0 L444.6 2347.0 L446.1 2344.1 L447.7 2341.1 L449.2 2338.1 L450.7 2335.2 L452.3 2332.2 L453.8 2329.3 L455.3 2326.4 L456.9 2323.4 L458.4 2320.5 L459.9 2317.6 L461.5 2314.7 L463.0 2311.8 L464.5 2308.9 L466.1 2306.0 L467.6 2303.1 L469.1 2300.2 L470.7 2297.3 L472.2 2294.4 L473.8 2291.6 L475.3 2288.7 L476.8 2285.8 L478.4 2283.0 L479.9 2280.1 L481.5 2277.3 L483.0 2274.4 L484.6 2271.6 L486.1 2268.8 L487.7 2265.9 L489.3 2263.1 L490.8 2260.3 L492.4 2257.5 L494.0 2254.7 L495.5 2251.8 L497.1 2249.0 L498.7 2246.2 L500.3 2243.4 L501.9 2240.6 L503.5 2237.8 L505.1 2235.0 L506.7 2232.3 L508.3 2229.5 L509.9 2226.7 L511.5 2223.9 L513.1 2221.1 L514.8 2218.4 L516.4 2215.6 L518.0 2212.8 L519.7 2210.1 L521.3 2207.3 L523.0 2204.5 L524.7 2201.8 L526.3 2199.0 L528.0 2196.3 L529.7 2193.5 L531.4 2190.8 L533.1 2188.0 L534.8 2185.3 L536.5 2182.5 L538.2 2179.8 L540.0 2177.1 L541.7 2174.3 L543.4 2171.6 L545.2 2168.9 L546.9 2166.1 L548.7 2163.4 L550.5 2160.6 L552.3 2157.9 L554.1 2155.2 L555.9 2152.5 L557.7 2149.7 L559.5 2147.0 L561.3 2144.3 L563.2 2141.5 L565.0 2138.8 L566.9 2136.1 L568.8 2133.4 L570.6 2130.6 L572.5 2127.9 L574.4 2125.2 L576.4 2122.4 L578.3 2119.7 L580.2 2117.0 L582.2 2114.3 L584.1 2111.5 L586.1 2108.8 L588.1 2106.1 L590.1 2103.4 L592.1 2100.6 L594.1 2097.9 L596.1 2095.2 L598.1 2092.5 L600.2 2089.8 L602.3 2087.1 L604.3 2084.4 L606.4 2081.7 L608.5 2079.1 L610.6 2076.4 L612.8 2073.8 L614.9 2071.2 L617.1 2068.5 L619.3 2066.0 L621.4 2063.4 L623.7 2060.8 L625.9 2058.3 L628.1 2055.8 L630.4 2053.3 L632.6 2050.8 L634.9 2048.4 L637.2 2046.0 L639.6 2043.6 L642.0 2041.3 L644.4 2039.0 L646.8 2036.8 L649.3 2034.5 L651.7 2032.4 L654.2 2030.2 L656.7 2028.1 L659.3 2026.1 L661.8 2024.0 L664.4 2022.0 L667.0 2020.1 L669.6 2018.2 L672.2 2016.3 L674.9 2014.5 L677.6 2012.7 L680.3 2011.0 L683.0 2009.3 L685.7 2007.7 L688.5 2006.1 L691.3 2004.5 L694.1 2003.1 L696.9 2001.6 L699.7 2000.2 L702.5 1998.9 L705.4 1997.6 L708.3 1996.3 L711.2 1995.1 L714.1 1993.9 L717.0 1992.8 L719.9 1991.8 L722.9 1990.8 L725.8 1989.9 L728.8 1989.0 L731.7 1988.1 L734.7 1987.3 L737.7 1986.6 L740.6 1985.9 L743.6 1985.3 L746.6 1984.8 L749.6 1984.2 L752.6 1983.8 L755.6 1983.4 L758.6 1983.1 L761.6 1982.8 L764.6 1982.6 L767.6 1982.4 L770.6 1982.3 L773.6 1982.2 L776.6 1982.3 L779.6 1982.3 L782.6 1982.5 L785.6 1982.7 L788.6 1982.9 L791.5 1983.2 L794.5 1983.6 L797.5 1984.1 L800.4 1984.6 L803.4 1985.1 L806.3 1985.8 L809.3 1986.5 L812.2 1987.2 L815.2 1988.0 L818.1 1988.9 L821.1 1989.8 L824.0 1990.8 L827.0 1991.8 L829.9 1992.9 L832.8 1994.0 L835.8 1995.2 L838.7 1996.4 L841.7 1997.6 L844.6 1998.9 L847.5 2000.2 L850.5 2001.6 L853.4 2003.0 L856.4 2004.4 L859.3 2005.9 L862.2 2007.3 L865.2 2008.9 L868.1 2010.4 L871.1 2011.9 L874.0 2013.5 L877.0 2015.1 L879.9 2016.7 L882.8 2018.3 L885.8 2020.0 L888.7 2021.6 L891.7 2023.3 L894.7 2024.9 L897.6 2026.6 L900.6 2028.3 L903.5 2029.9 L906.5 2031.6 L909.5 2033.2 L912.5 2034.9 L915.4 2036.5 L918.4 2038.2 L921.4 2039.8 L924.4 2041.4 L927.4 2043.0 L930.4 2044.6 L933.4 2046.1 L936.4 2047.7 L939.5 2049.2 L942.5 2050.7 L945.5 2052.2 L948.5 2053.6 L951.6 2055.1 L954.6 2056.5 L957.6 2057.9 L960.7 2059.3 L963.7 2060.7 L966.8 2062.1 L969.8 2063.4 L972.9 2064.7 L976.0 2066.0 L979.0 2067.3 L982.1 2068.6 L985.2 2069.9 L988.3 2071.1 L991.3 2072.4 L994.4 2073.6 L997.5 2074.8 L1000.6 2076.0 L1003.7 2077.2 L1006.8 2078.3 L1009.9 2079.5 L1013.0 2080.6 L1016.1 2081.7 L1019.2 2082.9 L1022.3 2083.9 L1025.4 2085.0 L1028.5 2086.1 L1031.7 2087.1 L1034.8 2088.2 L1037.9 2089.2 L1041.0 2090.2 L1044.2 2091.2 L1047.3 2092.2 L1050.4 2093.2 L1053.6 2094.2 L1056.7 2095.1 L1059.9 2096.1 L1063.0 2097.0 L1066.2 2097.9 L1069.3 2098.9 L1072.5 2099.8 L1075.6 2100.7 L1078.8 2101.5 L1081.9 2102.4 L1085.1 2103.3 L1088.3 2104.1 L1091.4 2105.0 L1094.6 2105.8 L1097.8 2106.6 L1100.9 2107.4 L1104.1 2108.2 L1107.3 2109.0 L1110.5 2109.8 L1113.6 2110.6 L1116.8 2111.4 L1120.0 2112.1 L1123.2 2112.9 L1126.4 2113.6 L1129.6 2114.4 L1132.8 2115.1 L1136.0 2115.8 L1139.1 2116.6 L1142.3 2117.3 L1145.5 2118.0 L1148.7 2118.7 L1151.9 2119.4 L1155.1 2120.1 L1158.3 2120.7 L1161.5 2121.4 L1164.7 2122.1 L1168.0 2122.8 L1171.2 2123.4 L1174.4 2124.1 L1177.6 2124.7 L1180.8 2125.4 L1184.0 2126.0 L1187.2 2126.6 L1190.4 2127.3 L1193.6 2127.9 L1196.9 2128.5 L1200.1 2129.1 L1203.3 2129.7 L1206.5 2130.4 L1209.7 2131.0 L1212.9 2131.6 L1216.2 2132.2 L1219.4 2132.8 L1222.6 2133.4 L1225.8 2134.0 L1229.1 2134.6 L1232.3 2135.1 L1235.5 2135.7 L1238.7 2136.3 L1242.0 2136.9 L1245.2 2137.5 L1248.4 2138.1 L1251.6 2138.7 L1254.9 2139.2 L1258.1 2139.8 L1261.3 2140.4 L1264.5 2141.0 L1267.8 2141.6 L1271.0 2142.1 L1274.2 2142.7 L1277.4 2143.3 L1280.7 2143.9 L1283.9 2144.5 L1287.1 2145.0 L1290.4 2145.6 L1293.6 2146.2 L1296.8 2146.8 L1300.0 2147.4 L1303.3 2148.0 L1306.5 2148.6 L1309.7 2149.1 L1312.9 2149.7 L1316.2 2150.3 L1319.4 2150.9 L1322.6 2151.5 L1325.9 2152.2 L1329.1 2152.8 L1332.3 2153.4 L1335.5 2154.0 L1338.8 2154.6 L1342.0 2155.2 L1345.2 2155.8 L1348.4 2156.4 L1351.7 2157.1 L1354.9 2157.7 L1358.1 2158.3 L1361.3 2158.9 L1364.6 2159.6 L1367.8 2160.2 L1371.0 2160.8 L1374.3 2161.5 L1377.5 2162.1 L1380.7 2162.7 L1383.9 2163.4 L1387.2 2164.0 L1390.4 2164.7 L1393.6 2165.3 L1396.8 2165.9 L1400.1 2166.6 L1403.3 2167.2 L1406.5 2167.9 L1409.7 2168.5 L1413.0 2169.2 L1416.2 2169.8 L1419.4 2170.5 L1422.7 2171.1 L1425.9 2171.8 L1429.1 2172.4 L1432.3 2173.1 L1435.6 2173.7 L1438.8 2174.4 L1442.0 2175.1 L1445.3 2175.7 L1448.5 2176.4 L1451.7 2177.0 L1454.9 2177.7 L1458.2 2178.3 L1461.4 2179.0 L1464.6 2179.7 L1467.9 2180.3 L1471.1 2181.0 L1474.3 2181.6 L1477.6 2182.3 L1480.8 2183.0 L1484.0 2183.6 L1487.2 2184.3 L1490.5 2184.9 L1493.7 2185.6 L1496.9 2186.3 L1500.2 2186.9 L1503.4 2187.6 L1506.6 2188.2 L1509.9 2188.9 L1513.1 2189.5 L1516.3 2190.2 L1519.6 2190.9 L1522.8 2191.5 L1526.0 2192.2 L1529.2 2192.8 L1532.5 2193.5 L1535.7 2194.1 L1538.9 2194.8 L1542.2 2195.4 L1545.4 2196.1 L1548.6 2196.7 L1551.9 2197.4 L1555.1 2198.0 L1558.3 2198.7 L1561.6 2199.3 L1564.8 2200.0 L1568.0 2200.6 L1571.3 2201.2 L1574.5 2201.9 L1577.8 2202.5 L1581.0 2203.2 L1584.2 2203.8 L1587.5 2204.4 L1590.7 2205.1 L1593.9 2205.7 L1597.2 2206.3 L1600.4 2206.9 L1603.6 2207.6 L1606.9 2208.2 L1610.1 2208.8 L1613.3 2209.4 L1616.6 2210.0 L1619.8 2210.7 L1623.1 2211.3 L1626.3 2211.9 L1629.5 2212.5 L1632.8 2213.1 L1636.0 2213.7 L1639.3 2214.3 L1642.5 2214.9 L1645.7 2215.5 L1649.0 2216.1 L1652.2 2216.7 L1655.5 2217.3 L1658.7 2217.9 L1661.9 2218.5 L1665.2 2219.0 L1668.4 2219.6 L1671.7 2220.2 L1674.9 2220.8 L1678.2 2221.4 L1681.4 2221.9 L1684.6 2222.5 L1687.9 2223.0 L1691.1 2223.6 L1694.4 2224.2 L1697.6 2224.7 L1700.9 2225.3 L1704.1 2225.8 L1707.3 2226.4 L1710.6 2226.9 L1713.8 2227.4 L1717.1 2228.0 L1720.3 2228.5 L1723.6 2229.0 L1726.8 2229.5 L1730.1 2230.1 L1733.3 2230.6 L1736.6 2231.1 L1739.8 2231.6 L1743.1 2232.1 L1746.3 2232.6 L1749.6 2233.1 L1752.8 2233.6 L1756.1 2234.1 L1759.3 2234.6 L1762.6 2235.0 L1765.8 2235.5 L1769.1 2236.0 L1772.3 2236.5 L1775.6 2236.9 L1778.8 2237.4 L1782.1 2237.8 L1785.3 2238.3 L1788.6 2238.7 L1791.8 2239.2 L1795.1 2239.6 L1798.4 2240.0 L1801.6 2240.5 L1804.9 2240.9 L1808.1 2241.3 L1811.4 2241.7 L1814.6 2242.1 L1817.9 2242.5 L1821.2 2242.9 L1824.4 2243.3 L1827.7 2243.7 L1830.9 2244.1 L1834.2 2244.5 L1837.5 2244.8 L1838.5 2235.2 L1835.3 2234.8 L1832.1 2234.4 L1828.8 2234.0 L1825.6 2233.7 L1822.3 2233.3 L1819.1 2232.9 L1815.8 2232.5 L1812.6 2232.1 L1809.4 2231.7 L1806.1 2231.2 L1802.9 2230.8 L1799.6 2230.4 L1796.4 2230.0 L1793.1 2229.5 L1789.9 2229.1 L1786.7 2228.7 L1783.4 2228.2 L1780.2 2227.8 L1776.9 2227.3 L1773.7 2226.9 L1770.5 2226.4 L1767.2 2225.9 L1764.0 2225.5 L1760.7 2225.0 L1757.5 2224.5 L1754.3 2224.0 L1751.0 2223.5 L1747.8 2223.0 L1744.5 2222.5 L1741.3 2222.0 L1738.1 2221.5 L1734.8 2221.0 L1731.6 2220.5 L1728.4 2220.0 L1725.1 2219.5 L1721.9 2218.9 L1718.6 2218.4 L1715.4 2217.9 L1712.2 2217.4 L1708.9 2216.8 L1705.7 2216.3 L1702.5 2215.7 L1699.2 2215.2 L1696.0 2214.6 L1692.8 2214.1 L1689.5 2213.5 L1686.3 2213.0 L1683.1 2212.4 L1679.8 2211.8 L1676.6 2211.3 L1673.4 2210.7 L1670.1 2210.1 L1666.9 2209.6 L1663.6 2209.0 L1660.4 2208.4 L1657.2 2207.8 L1653.9 2207.2 L1650.7 2206.6 L1647.5 2206.0 L1644.2 2205.4 L1641.0 2204.8 L1637.8 2204.2 L1634.5 2203.6 L1631.3 2203.0 L1628.1 2202.4 L1624.9 2201.8 L1621.6 2201.2 L1618.4 2200.6 L1615.2 2200.0 L1611.9 2199.4 L1608.7 2198.7 L1605.5 2198.1 L1602.2 2197.5 L1599.0 2196.9 L1595.8 2196.2 L1592.5 2195.6 L1589.3 2195.0 L1586.1 2194.4 L1582.8 2193.7 L1579.6 2193.1 L1576.4 2192.4 L1573.1 2191.8 L1569.9 2191.2 L1566.7 2190.5 L1563.5 2189.9 L1560.2 2189.2 L1557.0 2188.6 L1553.8 2188.0 L1550.5 2187.3 L1547.3 2186.7 L1544.1 2186.0 L1540.8 2185.4 L1537.6 2184.7 L1534.4 2184.1 L1531.2 2183.4 L1527.9 2182.7 L1524.7 2182.1 L1521.5 2181.4 L1518.2 2180.8 L1515.0 2180.1 L1511.8 2179.5 L1508.5 2178.8 L1505.3 2178.2 L1502.1 2177.5 L1498.9 2176.8 L1495.6 2176.2 L1492.4 2175.5 L1489.2 2174.9 L1485.9 2174.2 L1482.7 2173.5 L1479.5 2172.9 L1476.2 2172.2 L1473.0 2171.6 L1469.8 2170.9 L1466.6 2170.2 L1463.3 2169.6 L1460.1 2168.9 L1456.9 2168.3 L1453.6 2167.6 L1450.4 2167.0 L1447.2 2166.3 L1443.9 2165.6 L1440.7 2165.0 L1437.5 2164.3 L1434.3 2163.7 L1431.0 2163.0 L1427.8 2162.4 L1424.6 2161.7 L1421.3 2161.1 L1418.1 2160.4 L1414.9 2159.8 L1411.6 2159.1 L1408.4 2158.5 L1405.2 2157.8 L1402.0 2157.2 L1398.7 2156.5 L1395.5 2155.9 L1392.3 2155.2 L1389.0 2154.6 L1385.8 2153.9 L1382.6 2153.3 L1379.3 2152.7 L1376.1 2152.0 L1372.9 2151.4 L1369.6 2150.8 L1366.4 2150.1 L1363.2 2149.5 L1360.0 2148.9 L1356.7 2148.2 L1353.5 2147.6 L1350.3 2147.0 L1347.0 2146.4 L1343.8 2145.8 L1340.6 2145.1 L1337.3 2144.5 L1334.1 2143.9 L1330.9 2143.3 L1327.6 2142.7 L1324.4 2142.1 L1321.2 2141.5 L1317.9 2140.9 L1314.7 2140.3 L1311.5 2139.7 L1308.2 2139.1 L1305.0 2138.5 L1301.8 2137.9 L1298.5 2137.3 L1295.3 2136.7 L1292.1 2136.1 L1288.8 2135.5 L1285.6 2135.0 L1282.4 2134.4 L1279.2 2133.8 L1275.9 2133.2 L1272.7 2132.6 L1269.5 2132.1 L1266.2 2131.5 L1263.0 2130.9 L1259.8 2130.3 L1256.6 2129.7 L1253.3 2129.2 L1250.1 2128.6 L1246.9 2128.0 L1243.7 2127.4 L1240.4 2126.8 L1237.2 2126.2 L1234.0 2125.7 L1230.8 2125.1 L1227.6 2124.5 L1224.4 2123.9 L1221.1 2123.3 L1217.9 2122.7 L1214.7 2122.1 L1211.5 2121.5 L1208.3 2120.9 L1205.1 2120.3 L1201.9 2119.7 L1198.7 2119.1 L1195.5 2118.4 L1192.3 2117.8 L1189.1 2117.2 L1185.9 2116.6 L1182.7 2115.9 L1179.5 2115.3 L1176.3 2114.6 L1173.1 2114.0 L1169.9 2113.3 L1166.7 2112.7 L1163.5 2112.0 L1160.3 2111.4 L1157.1 2110.7 L1154.0 2110.0 L1150.8 2109.3 L1147.6 2108.6 L1144.4 2107.9 L1141.2 2107.2 L1138.1 2106.5 L1134.9 2105.8 L1131.7 2105.1 L1128.5 2104.4 L1125.4 2103.6 L1122.2 2102.9 L1119.1 2102.1 L1115.9 2101.4 L1112.7 2100.6 L1109.6 2099.8 L1106.4 2099.0 L1103.3 2098.2 L1100.1 2097.4 L1097.0 2096.6 L1093.8 2095.8 L1090.7 2095.0 L1087.6 2094.1 L1084.4 2093.3 L1081.3 2092.4 L1078.2 2091.6 L1075.0 2090.7 L1071.9 2089.8 L1068.8 2088.9 L1065.7 2088.0 L1062.5 2087.1 L1059.4 2086.2 L1056.3 2085.2 L1053.2 2084.3 L1050.1 2083.3 L1047.0 2082.3 L1043.9 2081.4 L1040.8 2080.4 L1037.7 2079.4 L1034.6 2078.3 L1031.5 2077.3 L1028.4 2076.3 L1025.4 2075.2 L1022.3 2074.1 L1019.2 2073.0 L1016.1 2072.0 L1013.0 2070.8 L1010.0 2069.7 L1006.9 2068.6 L1003.9 2067.4 L1000.8 2066.3 L997.7 2065.1 L994.7 2063.9 L991.6 2062.7 L988.6 2061.5 L985.6 2060.2 L982.5 2059.0 L979.5 2057.7 L976.5 2056.4 L973.4 2055.2 L970.4 2053.8 L967.4 2052.5 L964.4 2051.2 L961.4 2049.8 L958.3 2048.4 L955.3 2047.0 L952.3 2045.6 L949.3 2044.2 L946.3 2042.8 L943.4 2041.3 L940.4 2039.8 L937.4 2038.3 L934.4 2036.8 L931.4 2035.3 L928.5 2033.8 L925.5 2032.2 L922.5 2030.6 L919.6 2029.0 L916.6 2027.4 L913.6 2025.8 L910.7 2024.1 L907.7 2022.5 L904.8 2020.8 L901.8 2019.1 L898.8 2017.5 L895.9 2015.8 L892.9 2014.2 L890.0 2012.5 L887.0 2010.8 L884.0 2009.2 L881.1 2007.6 L878.1 2005.9 L875.1 2004.3 L872.2 2002.7 L869.2 2001.2 L866.2 1999.6 L863.2 1998.1 L860.3 1996.5 L857.3 1995.1 L854.3 1993.6 L851.3 1992.2 L848.3 1990.8 L845.3 1989.4 L842.2 1988.1 L839.2 1986.8 L836.2 1985.5 L833.2 1984.3 L830.1 1983.2 L827.0 1982.0 L824.0 1981.0 L820.9 1980.0 L817.8 1979.0 L814.7 1978.1 L811.6 1977.3 L808.5 1976.5 L805.4 1975.8 L802.2 1975.1 L799.0 1974.5 L795.9 1974.0 L792.7 1973.6 L789.5 1973.2 L786.3 1972.9 L783.1 1972.7 L780.0 1972.5 L776.8 1972.5 L773.6 1972.4 L770.4 1972.5 L767.2 1972.6 L764.0 1972.8 L760.8 1973.1 L757.6 1973.4 L754.4 1973.8 L751.2 1974.2 L748.0 1974.7 L744.9 1975.3 L741.7 1975.9 L738.6 1976.6 L735.4 1977.4 L732.3 1978.2 L729.2 1979.0 L726.0 1980.0 L722.9 1981.0 L719.9 1982.0 L716.8 1983.1 L713.7 1984.3 L710.7 1985.5 L707.7 1986.8 L704.7 1988.1 L701.7 1989.5 L698.7 1990.9 L695.8 1992.4 L692.9 1993.9 L690.0 1995.5 L687.1 1997.1 L684.2 1998.8 L681.4 2000.5 L678.6 2002.3 L675.8 2004.1 L673.0 2006.0 L670.3 2007.9 L667.6 2009.8 L664.9 2011.8 L662.3 2013.9 L659.6 2016.0 L657.0 2018.1 L654.5 2020.2 L651.9 2022.4 L649.4 2024.7 L646.9 2026.9 L644.4 2029.2 L641.9 2031.5 L639.5 2033.9 L637.1 2036.3 L634.7 2038.7 L632.3 2041.1 L629.9 2043.5 L627.5 2045.9 L625.1 2048.4 L622.8 2050.9 L620.5 2053.4 L618.2 2056.0 L615.9 2058.5 L613.6 2061.1 L611.4 2063.7 L609.1 2066.3 L606.9 2069.0 L604.7 2071.6 L602.6 2074.3 L600.4 2077.0 L598.3 2079.6 L596.1 2082.3 L594.0 2085.0 L591.9 2087.8 L589.9 2090.5 L587.8 2093.2 L585.7 2095.9 L583.7 2098.7 L581.7 2101.4 L579.7 2104.1 L577.7 2106.9 L575.7 2109.6 L573.7 2112.4 L571.8 2115.1 L569.8 2117.8 L567.9 2120.6 L566.0 2123.3 L564.0 2126.0 L562.1 2128.8 L560.2 2131.5 L558.4 2134.2 L556.5 2137.0 L554.6 2139.7 L552.8 2142.5 L550.9 2145.2 L549.1 2147.9 L547.3 2150.7 L545.4 2153.4 L543.6 2156.2 L541.8 2158.9 L540.0 2161.6 L538.3 2164.4 L536.5 2167.1 L534.7 2169.9 L533.0 2172.6 L531.2 2175.4 L529.5 2178.1 L527.7 2180.9 L526.0 2183.6 L524.3 2186.4 L522.6 2189.2 L520.9 2191.9 L519.2 2194.7 L517.5 2197.4 L515.8 2200.2 L514.1 2203.0 L512.5 2205.8 L510.8 2208.5 L509.2 2211.3 L507.5 2214.1 L505.9 2216.9 L504.2 2219.6 L502.6 2222.4 L501.0 2225.2 L499.3 2228.0 L497.7 2230.8 L496.1 2233.6 L494.5 2236.4 L492.9 2239.2 L491.3 2242.0 L489.7 2244.8 L488.1 2247.7 L486.5 2250.5 L484.9 2253.3 L483.3 2256.1 L481.8 2258.9 L480.2 2261.8 L478.6 2264.6 L477.1 2267.5 L475.5 2270.3 L473.9 2273.2 L472.4 2276.0 L470.8 2278.9 L469.3 2281.7 L467.7 2284.6 L466.2 2287.5 L464.6 2290.4 L463.1 2293.2 L461.5 2296.1 L460.0 2299.0 L458.4 2301.9 L456.9 2304.8 L455.3 2307.7 L453.8 2310.6 L452.3 2313.5 L450.7 2316.5 L449.2 2319.4 L447.6 2322.3 L446.1 2325.3 L444.6 2328.2 L443.0 2331.2 L441.5 2334.1 L439.9 2337.1 L438.4 2340.1 L436.9 2343.0 L435.3 2346.0 L433.8 2349.0 L432.2 2352.0 L430.7 2355.0 L429.1 2358.0Z" stroke="none"/>
<path d="M435.4 2362.7 L437.5 2360.8 L439.6 2358.9 L441.7 2357.0 L443.8 2355.1 L445.9 2353.2 L448.0 2351.3 L450.1 2349.4 L452.2 2347.5 L454.4 2345.6 L456.5 2343.8 L458.7 2341.9 L460.9 2340.0 L463.0 2338.1 L465.2 2336.2 L467.4 2334.3 L469.6 2332.4 L471.8 2330.5 L474.0 2328.6 L476.2 2326.8 L478.5 2324.9 L480.7 2323.0 L482.9 2321.1 L485.2 2319.2 L487.4 2317.4 L489.7 2315.5 L492.0 2313.6 L494.2 2311.7 L496.5 2309.9 L498.8 2308.0 L501.1 2306.1 L503.4 2304.3 L505.7 2302.4 L508.0 2300.6 L510.3 2298.7 L512.6 2296.9 L514.9 2295.0 L517.3 2293.2 L519.6 2291.4 L521.9 2289.5 L524.3 2287.7 L526.6 2285.9 L529.0 2284.0 L531.3 2282.2 L533.7 2280.4 L536.1 2278.6 L538.4 2276.8 L540.8 2275.0 L543.2 2273.3 L545.6 2271.5 L548.0 2269.8 L550.3 2268.0 L552.8 2266.3 L555.2 2264.6 L557.6 2262.9 L560.0 2261.2 L562.4 2259.6 L564.9 2257.9 L567.3 2256.3 L569.7 2254.7 L572.2 2253.2 L574.7 2251.6 L577.1 2250.1 L579.6 2248.6 L582.1 2247.1 L584.6 2245.7 L587.1 2244.2 L589.6 2242.8 L592.1 2241.5 L594.7 2240.1 L597.2 2238.8 L599.8 2237.5 L602.3 2236.3 L604.9 2235.0 L607.5 2233.8 L610.1 2232.6 L612.7 2231.5 L615.3 2230.3 L617.9 2229.2 L620.5 2228.1 L623.1 2227.1 L625.8 2226.0 L628.4 2225.0 L631.1 2224.0 L633.8 2223.1 L636.4 2222.1 L639.1 2221.2 L641.8 2220.3 L644.5 2219.4 L647.2 2218.6 L649.9 2217.8 L652.6 2217.0 L655.3 2216.2 L658.1 2215.4 L660.8 2214.7 L663.6 2214.0 L666.3 2213.3 L669.1 2212.6 L671.8 2212.0 L674.6 2211.4 L677.4 2210.8 L680.1 2210.2 L682.9 2209.6 L685.7 2209.1 L688.5 2208.6 L691.3 2208.1 L694.1 2207.6 L696.9 2207.2 L699.8 2206.7 L702.6 2206.3 L705.4 2205.9 L708.2 2205.5 L711.1 2205.2 L713.9 2204.9 L716.8 2204.6 L719.6 2204.3 L722.5 2204.0 L725.3 2203.7 L728.2 2203.5 L731.0 2203.3 L733.9 2203.1 L736.8 2202.9 L739.6 2202.7 L742.5 2202.6 L745.4 2202.5 L748.3 2202.4 L751.1 2202.3 L754.0 2202.2 L756.9 2202.2 L759.8 2202.1 L762.7 2202.1 L765.6 2202.1 L768.5 2202.1 L771.4 2202.1 L774.3 2202.2 L777.2 2202.3 L780.1 2202.3 L783.0 2202.4 L785.8 2202.6 L788.7 2202.7 L791.6 2202.8 L794.5 2203.0 L797.4 2203.2 L800.3 2203.4 L803.2 2203.6 L806.1 2203.8 L809.0 2204.0 L811.9 2204.3 L814.8 2204.6 L817.7 2204.9 L820.6 2205.1 L823.5 2205.5 L826.4 2205.8 L829.3 2206.1 L832.2 2206.5 L835.1 2206.8 L838.0 2207.2 L840.9 2207.6 L843.7 2208.0 L846.6 2208.4 L849.5 2208.9 L852.4 2209.3 L855.3 2209.8 L858.2 2210.2 L861.0 2210.7 L863.9 2211.2 L866.8 2211.7 L869.7 2212.2 L872.5 2212.7 L875.4 2213.3 L878.3 2213.8 L881.2 2214.3 L884.0 2214.9 L886.9 2215.4 L889.8 2216.0 L892.6 2216.6 L895.5 2217.2 L898.4 2217.8 L901.3 2218.4 L904.1 2219.0 L907.0 2219.6 L909.9 2220.2 L912.7 2220.8 L915.6 2221.5 L918.5 2222.1 L921.3 2222.7 L924.2 2223.4 L927.1 2224.0 L929.9 2224.7 L932.8 2225.3 L935.7 2226.0 L938.5 2226.6 L941.4 2227.3 L944.3 2228.0 L947.1 2228.6 L950.0 2229.3 L952.9 2230.0 L955.7 2230.6 L958.6 2231.3 L961.5 2232.0 L964.3 2232.7 L967.2 2233.3 L970.1 2234.0 L972.9 2234.7 L975.8 2235.4 L978.7 2236.0 L981.6 2236.7 L984.4 2237.4 L987.3 2238.0 L990.2 2238.7 L993.0 2239.4 L995.9 2240.0 L998.8 2240.7 L1001.7 2241.3 L1004.5 2242.0 L1007.4 2242.6 L1010.3 2243.2 L1013.2 2243.9 L1016.1 2244.5 L1018.9 2245.1 L1021.8 2245.7 L1024.7 2246.3 L1027.6 2246.9 L1030.5 2247.5 L1033.4 2248.1 L1036.3 2248.7 L1039.2 2249.3 L1042.0 2249.9 L1044.9 2250.4 L1047.8 2251.0 L1050.7 2251.5 L1053.6 2252.0 L1056.5 2252.6 L1059.4 2253.1 L1062.3 2253.6 L1065.2 2254.1 L1068.1 2254.5 L1071.0 2255.0 L1073.9 2255.5 L1076.9 2255.9 L1079.8 2256.4 L1082.7 2256.8 L1085.6 2257.2 L1088.5 2257.7 L1091.4 2258.1 L1094.3 2258.5 L1097.2 2258.9 L1100.1 2259.2 L1103.0 2259.6 L1106.0 2260.0 L1108.9 2260.3 L1111.8 2260.7 L1114.7 2261.0 L1117.6 2261.4 L1120.5 2261.7 L1123.5 2262.0 L1126.4 2262.3 L1129.3 2262.6 L1132.2 2262.9 L1135.1 2263.2 L1138.0 2263.5 L1141.0 2263.8 L1143.9 2264.1 L1146.8 2264.4 L1149.7 2264.6 L1152.7 2264.9 L1155.6 2265.1 L1158.5 2265.4 L1161.4 2265.6 L1164.3 2265.8 L1167.3 2266.1 L1170.2 2266.3 L1173.1 2266.5 L1176.0 2266.7 L1179.0 2267.0 L1181.9 2267.2 L1184.8 2267.4 L1187.7 2267.6 L1190.7 2267.8 L1193.6 2268.0 L1196.5 2268.1 L1199.4 2268.3 L1202.4 2268.5 L1205.3 2268.7 L1208.2 2268.9 L1211.1 2269.0 L1214.1 2269.2 L1217.0 2269.4 L1219.9 2269.5 L1222.9 2269.7 L1225.8 2269.9 L1228.7 2270.0 L1231.6 2270.2 L1234.6 2270.3 L1237.5 2270.5 L1240.4 2270.6 L1243.3 2270.8 L1246.3 2270.9 L1249.2 2271.1 L1252.1 2271.2 L1255.0 2271.4 L1258.0 2271.5 L1260.9 2271.7 L1263.8 2271.8 L1266.7 2272.0 L1269.7 2272.1 L1272.6 2272.2 L1275.5 2272.4 L1278.4 2272.5 L1281.4 2272.6 L1284.3 2272.8 L1287.2 2272.9 L1290.2 2273.0 L1293.1 2273.2 L1296.0 2273.3 L1298.9 2273.4 L1301.9 2273.5 L1304.8 2273.7 L1307.7 2273.8 L1310.6 2273.9 L1313.6 2274.0 L1316.5 2274.2 L1319.4 2274.3 L1322.4 2274.4 L1325.3 2274.5 L1328.2 2274.6 L1331.1 2274.7 L1334.1 2274.9 L1337.0 2275.0 L1339.9 2275.1 L1342.9 2275.2 L1345.8 2275.3 L1348.7 2275.4 L1351.6 2275.5 L1354.6 2275.6 L1357.5 2275.7 L1360.4 2275.8 L1363.4 2275.9 L1366.3 2276.0 L1369.2 2276.1 L1372.1 2276.2 L1375.1 2276.3 L1378.0 2276.4 L1380.9 2276.5 L1383.9 2276.6 L1386.8 2276.7 L1389.7 2276.8 L1392.6 2276.9 L1395.6 2277.0 L1398.5 2277.1 L1401.4 2277.2 L1404.4 2277.3 L1407.3 2277.3 L1410.2 2277.4 L1413.2 2277.5 L1416.1 2277.6 L1419.0 2277.7 L1421.9 2277.8 L1424.9 2277.9 L1427.8 2277.9 L1430.7 2278.0 L1433.7 2278.1 L1436.6 2278.2 L1439.5 2278.3 L1442.4 2278.3 L1445.4 2278.4 L1448.3 2278.5 L1451.2 2278.6 L1454.2 2278.6 L1457.1 2278.7 L1460.0 2278.8 L1463.0 2278.9 L1465.9 2278.9 L1468.8 2279.0 L1471.7 2279.1 L1474.7 2279.1 L1477.6 2279.2 L1480.5 2279.3 L1483.5 2279.3 L1486.4 2279.4 L1489.3 2279.5 L1492.3 2279.5 L1495.2 2279.6 L1498.1 2279.7 L1501.1 2279.7 L1504.0 2279.8 L1506.9 2279.8 L1509.8 2279.9 L1512.8 2280.0 L1515.7 2280.0 L1518.6 2280.1 L1521.6 2280.1 L1524.5 2280.2 L1527.4 2280.2 L1530.4 2280.3 L1533.3 2280.4 L1536.2 2280.4 L1539.1 2280.5 L1542.1 2280.5 L1545.0 2280.6 L1547.9 2280.6 L1550.9 2280.7 L1553.8 2280.7 L1556.7 2280.8 L1559.7 2280.8 L1562.6 2280.9 L1565.5 2280.9 L1568.5 2281.0 L1571.4 2281.0 L1574.3 2281.1 L1577.2 2281.1 L1580.2 2281.2 L1583.1 2281.2 L1586.0 2281.2 L1589.0 2281.3 L1591.9 2281.3 L1594.8 2281.4 L1597.8 2281.4 L1600.7 2281.5 L1603.6 2281.5 L1606.6 2281.5 L1609.5 2281.6 L1612.4 2281.6 L1615.3 2281.7 L1618.3 2281.7 L1621.2 2281.7 L1624.1 2281.8 L1627.1 2281.8 L1630.0 2281.8 L1632.9 2281.9 L1635.9 2281.9 L1638.8 2282.0 L1641.7 2282.0 L1644.6 2282.0 L1647.6 2282.1 L1650.5 2282.1 L1653.4 2282.1 L1656.4 2282.2 L1659.3 2282.2 L1662.2 2282.2 L1665.2 2282.3 L1668.1 2282.3 L1671.0 2282.3 L1673.9 2282.4 L1676.9 2282.4 L1679.8 2282.4 L1682.7 2282.5 L1685.7 2282.5 L1688.6 2282.5 L1691.5 2282.6 L1694.5 2282.6 L1697.4 2282.6 L1700.3 2282.6 L1703.2 2282.7 L1706.2 2282.7 L1709.1 2282.7 L1712.0 2282.8 L1715.0 2282.8 L1717.9 2282.8 L1720.8 2282.8 L1723.8 2282.9 L1726.7 2282.9 L1729.6 2282.9 L1732.5 2283.0 L1735.5 2283.0 L1738.4 2283.0 L1741.3 2283.0 L1744.3 2283.1 L1747.2 2283.1 L1750.1 2283.1 L1753.0 2283.1 L1756.0 2283.2 L1758.9 2283.2 L1761.8 2283.2 L1764.8 2283.3 L1767.7 2283.3 L1770.6 2283.3 L1773.5 2283.3 L1776.5 2283.4 L1779.4 2283.4 L1782.3 2283.4 L1785.3 2283.4 L1788.2 2283.5 L1791.1 2283.5 L1794.0 2283.5 L1797.0 2283.5 L1799.9 2283.6 L1802.8 2283.6 L1805.8 2283.6 L1808.7 2283.6 L1811.6 2283.7 L1814.5 2283.7 L1817.5 2283.7 L1820.4 2283.7 L1823.3 2283.8 L1826.2 2283.8 L1829.2 2283.8 L1832.1 2283.8 L1835.0 2283.9 L1838.0 2283.9 L1838.0 2274.1 L1835.1 2274.1 L1832.2 2274.0 L1829.3 2274.0 L1826.3 2274.0 L1823.4 2274.0 L1820.5 2273.9 L1817.6 2273.9 L1814.6 2273.9 L1811.7 2273.9 L1808.8 2273.8 L1805.8 2273.8 L1802.9 2273.8 L1800.0 2273.8 L1797.1 2273.7 L1794.1 2273.7 L1791.2 2273.7 L1788.3 2273.7 L1785.3 2273.6 L1782.4 2273.6 L1779.5 2273.6 L1776.6 2273.6 L1773.6 2273.5 L1770.7 2273.5 L1767.8 2273.5 L1764.8 2273.5 L1761.9 2273.4 L1759.0 2273.4 L1756.1 2273.4 L1753.1 2273.4 L1750.2 2273.3 L1747.3 2273.3 L1744.3 2273.3 L1741.4 2273.2 L1738.5 2273.2 L1735.6 2273.2 L1732.6 2273.2 L1729.7 2273.1 L1726.8 2273.1 L1723.8 2273.1 L1720.9 2273.1 L1718.0 2273.0 L1715.1 2273.0 L1712.1 2273.0 L1709.2 2272.9 L1706.3 2272.9 L1703.3 2272.9 L1700.4 2272.8 L1697.5 2272.8 L1694.6 2272.8 L1691.6 2272.8 L1688.7 2272.7 L1685.8 2272.7 L1682.8 2272.7 L1679.9 2272.6 L1677.0 2272.6 L1674.1 2272.6 L1671.1 2272.5 L1668.2 2272.5 L1665.3 2272.5 L1662.3 2272.4 L1659.4 2272.4 L1656.5 2272.4 L1653.6 2272.3 L1650.6 2272.3 L1647.7 2272.3 L1644.8 2272.2 L1641.8 2272.2 L1638.9 2272.2 L1636.0 2272.1 L1633.1 2272.1 L1630.1 2272.1 L1627.2 2272.0 L1624.3 2272.0 L1621.3 2271.9 L1618.4 2271.9 L1615.5 2271.9 L1612.5 2271.8 L1609.6 2271.8 L1606.7 2271.7 L1603.8 2271.7 L1600.8 2271.7 L1597.9 2271.6 L1595.0 2271.6 L1592.0 2271.5 L1589.1 2271.5 L1586.2 2271.4 L1583.3 2271.4 L1580.3 2271.4 L1577.4 2271.3 L1574.5 2271.3 L1571.5 2271.2 L1568.6 2271.2 L1565.7 2271.1 L1562.8 2271.1 L1559.8 2271.0 L1556.9 2271.0 L1554.0 2270.9 L1551.0 2270.9 L1548.1 2270.8 L1545.2 2270.8 L1542.3 2270.7 L1539.3 2270.7 L1536.4 2270.6 L1533.5 2270.6 L1530.5 2270.5 L1527.6 2270.5 L1524.7 2270.4 L1521.8 2270.3 L1518.8 2270.3 L1515.9 2270.2 L1513.0 2270.2 L1510.0 2270.1 L1507.1 2270.0 L1504.2 2270.0 L1501.3 2269.9 L1498.3 2269.9 L1495.4 2269.8 L1492.5 2269.7 L1489.5 2269.7 L1486.6 2269.6 L1483.7 2269.5 L1480.8 2269.5 L1477.8 2269.4 L1474.9 2269.3 L1472.0 2269.3 L1469.1 2269.2 L1466.1 2269.1 L1463.2 2269.1 L1460.3 2269.0 L1457.3 2268.9 L1454.4 2268.8 L1451.5 2268.8 L1448.6 2268.7 L1445.6 2268.6 L1442.7 2268.5 L1439.8 2268.5 L1436.9 2268.4 L1433.9 2268.3 L1431.0 2268.2 L1428.1 2268.1 L1425.1 2268.1 L1422.2 2268.0 L1419.3 2267.9 L1416.4 2267.8 L1413.4 2267.7 L1410.5 2267.6 L1407.6 2267.6 L1404.7 2267.5 L1401.7 2267.4 L1398.8 2267.3 L1395.9 2267.2 L1393.0 2267.1 L1390.0 2267.0 L1387.1 2266.9 L1384.2 2266.8 L1381.2 2266.7 L1378.3 2266.6 L1375.4 2266.5 L1372.5 2266.4 L1369.5 2266.3 L1366.6 2266.2 L1363.7 2266.1 L1360.8 2266.0 L1357.8 2265.9 L1354.9 2265.8 L1352.0 2265.7 L1349.1 2265.6 L1346.1 2265.5 L1343.2 2265.4 L1340.3 2265.3 L1337.4 2265.2 L1334.4 2265.1 L1331.5 2265.0 L1328.6 2264.8 L1325.7 2264.7 L1322.8 2264.6 L1319.8 2264.5 L1316.9 2264.4 L1314.0 2264.3 L1311.1 2264.1 L1308.1 2264.0 L1305.2 2263.9 L1302.3 2263.8 L1299.4 2263.6 L1296.4 2263.5 L1293.5 2263.4 L1290.6 2263.3 L1287.7 2263.1 L1284.7 2263.0 L1281.8 2262.9 L1278.9 2262.7 L1276.0 2262.6 L1273.1 2262.5 L1270.1 2262.3 L1267.2 2262.2 L1264.3 2262.0 L1261.4 2261.9 L1258.4 2261.8 L1255.5 2261.6 L1252.6 2261.5 L1249.7 2261.3 L1246.8 2261.2 L1243.8 2261.0 L1240.9 2260.9 L1238.0 2260.7 L1235.1 2260.6 L1232.2 2260.4 L1229.2 2260.3 L1226.3 2260.1 L1223.4 2259.9 L1220.5 2259.8 L1217.6 2259.6 L1214.6 2259.4 L1211.7 2259.3 L1208.8 2259.1 L1205.9 2258.9 L1203.0 2258.8 L1200.1 2258.6 L1197.1 2258.4 L1194.2 2258.2 L1191.3 2258.0 L1188.4 2257.8 L1185.5 2257.6 L1182.6 2257.4 L1179.7 2257.2 L1176.8 2257.0 L1173.8 2256.8 L1170.9 2256.6 L1168.0 2256.3 L1165.1 2256.1 L1162.2 2255.9 L1159.3 2255.6 L1156.4 2255.4 L1153.5 2255.1 L1150.6 2254.9 L1147.7 2254.6 L1144.8 2254.4 L1141.9 2254.1 L1139.0 2253.8 L1136.1 2253.5 L1133.2 2253.2 L1130.3 2252.9 L1127.4 2252.6 L1124.5 2252.3 L1121.6 2252.0 L1118.7 2251.7 L1115.8 2251.4 L1112.9 2251.0 L1110.0 2250.7 L1107.2 2250.3 L1104.3 2250.0 L1101.4 2249.6 L1098.5 2249.2 L1095.6 2248.8 L1092.7 2248.5 L1089.8 2248.1 L1087.0 2247.6 L1084.1 2247.2 L1081.2 2246.8 L1078.3 2246.4 L1075.4 2245.9 L1072.6 2245.5 L1069.7 2245.0 L1066.8 2244.5 L1064.0 2244.1 L1061.1 2243.6 L1058.2 2243.1 L1055.3 2242.5 L1052.5 2242.0 L1049.6 2241.5 L1046.7 2241.0 L1043.9 2240.4 L1041.0 2239.9 L1038.1 2239.3 L1035.3 2238.7 L1032.4 2238.1 L1029.5 2237.6 L1026.7 2237.0 L1023.8 2236.4 L1021.0 2235.7 L1018.1 2235.1 L1015.2 2234.5 L1012.4 2233.9 L1009.5 2233.3 L1006.6 2232.6 L1003.8 2232.0 L1000.9 2231.3 L998.0 2230.7 L995.2 2230.0 L992.3 2229.4 L989.4 2228.7 L986.6 2228.1 L983.7 2227.4 L980.9 2226.7 L978.0 2226.1 L975.1 2225.4 L972.3 2224.7 L969.4 2224.1 L966.5 2223.4 L963.7 2222.7 L960.8 2222.0 L957.9 2221.4 L955.0 2220.7 L952.2 2220.0 L949.3 2219.3 L946.4 2218.7 L943.6 2218.0 L940.7 2217.3 L937.8 2216.7 L934.9 2216.0 L932.1 2215.4 L929.2 2214.7 L926.3 2214.0 L923.4 2213.4 L920.5 2212.8 L917.7 2212.1 L914.8 2211.5 L911.9 2210.8 L909.0 2210.2 L906.1 2209.6 L903.2 2209.0 L900.3 2208.4 L897.5 2207.8 L894.6 2207.2 L891.7 2206.6 L888.8 2206.0 L885.9 2205.4 L883.0 2204.9 L880.1 2204.3 L877.2 2203.8 L874.3 2203.2 L871.4 2202.7 L868.5 2202.2 L865.5 2201.7 L862.6 2201.2 L859.7 2200.7 L856.8 2200.2 L853.9 2199.8 L851.0 2199.3 L848.1 2198.9 L845.1 2198.4 L842.2 2198.0 L839.3 2197.6 L836.3 2197.2 L833.4 2196.8 L830.5 2196.5 L827.5 2196.1 L824.6 2195.8 L821.7 2195.5 L818.7 2195.2 L815.8 2194.9 L812.8 2194.6 L809.9 2194.3 L806.9 2194.1 L804.0 2193.8 L801.0 2193.6 L798.1 2193.4 L795.1 2193.2 L792.2 2193.1 L789.2 2192.9 L786.3 2192.8 L783.3 2192.7 L780.4 2192.6 L777.4 2192.5 L774.5 2192.4 L771.5 2192.3 L768.6 2192.3 L765.6 2192.3 L762.7 2192.3 L759.7 2192.3 L756.8 2192.4 L753.8 2192.4 L750.9 2192.5 L747.9 2192.6 L745.0 2192.7 L742.0 2192.8 L739.1 2193.0 L736.2 2193.1 L733.2 2193.3 L730.3 2193.5 L727.4 2193.8 L724.5 2194.0 L721.5 2194.3 L718.6 2194.6 L715.7 2194.9 L712.8 2195.2 L709.9 2195.5 L707.0 2195.9 L704.1 2196.3 L701.2 2196.7 L698.3 2197.1 L695.4 2197.6 L692.5 2198.1 L689.7 2198.6 L686.8 2199.1 L683.9 2199.6 L681.1 2200.2 L678.2 2200.8 L675.4 2201.4 L672.5 2202.0 L669.7 2202.7 L666.8 2203.4 L664.0 2204.1 L661.2 2204.8 L658.4 2205.6 L655.6 2206.3 L652.8 2207.1 L650.0 2208.0 L647.2 2208.8 L644.4 2209.7 L641.6 2210.6 L638.9 2211.5 L636.1 2212.4 L633.4 2213.4 L630.6 2214.4 L627.9 2215.4 L625.2 2216.5 L622.4 2217.5 L619.7 2218.6 L617.0 2219.8 L614.4 2220.9 L611.7 2222.1 L609.0 2223.3 L606.3 2224.5 L603.7 2225.8 L601.1 2227.1 L598.4 2228.4 L595.8 2229.7 L593.2 2231.1 L590.6 2232.5 L588.0 2233.9 L585.4 2235.4 L582.9 2236.8 L580.3 2238.4 L577.8 2239.9 L575.3 2241.4 L572.7 2243.0 L570.2 2244.6 L567.7 2246.2 L565.2 2247.9 L562.8 2249.5 L560.3 2251.2 L557.8 2252.9 L555.4 2254.6 L553.0 2256.3 L550.5 2258.1 L548.1 2259.8 L545.7 2261.6 L543.3 2263.4 L540.9 2265.2 L538.5 2267.0 L536.1 2268.8 L533.7 2270.6 L531.3 2272.4 L529.0 2274.3 L526.6 2276.1 L524.2 2277.9 L521.9 2279.8 L519.5 2281.6 L517.2 2283.5 L514.8 2285.3 L512.5 2287.2 L510.2 2289.0 L507.8 2290.9 L505.5 2292.8 L503.2 2294.6 L500.9 2296.5 L498.6 2298.4 L496.3 2300.3 L494.0 2302.1 L491.7 2304.0 L489.4 2305.9 L487.1 2307.8 L484.9 2309.7 L482.6 2311.6 L480.4 2313.5 L478.1 2315.4 L475.9 2317.3 L473.6 2319.2 L471.4 2321.1 L469.2 2323.0 L467.0 2324.9 L464.7 2326.8 L462.5 2328.7 L460.4 2330.6 L458.2 2332.5 L456.0 2334.4 L453.8 2336.3 L451.7 2338.2 L449.5 2340.2 L447.4 2342.1 L445.2 2344.0 L443.1 2345.9 L441.0 2347.8 L438.9 2349.7 L436.8 2351.6 L434.7 2353.5 L432.6 2355.4 L430.6 2357.3Z" stroke="none"/>
<path d="M435.2 2363.5 L437.7 2361.9 L440.1 2360.4 L442.6 2358.9 L445.0 2357.4 L447.5 2356.0 L449.9 2354.5 L452.4 2353.1 L454.9 2351.7 L457.4 2350.3 L459.9 2348.9 L462.4 2347.5 L464.9 2346.2 L467.4 2344.9 L469.9 2343.6 L472.4 2342.3 L474.9 2341.0 L477.5 2339.7 L480.0 2338.5 L482.6 2337.3 L485.1 2336.1 L487.7 2334.9 L490.2 2333.7 L492.8 2332.5 L495.4 2331.4 L497.9 2330.3 L500.5 2329.2 L503.1 2328.1 L505.7 2327.0 L508.3 2325.9 L510.9 2324.9 L513.5 2323.9 L516.1 2322.9 L518.8 2321.9 L521.4 2320.9 L524.0 2319.9 L526.7 2319.0 L529.3 2318.1 L531.9 2317.2 L534.6 2316.3 L537.2 2315.4 L539.9 2314.5 L542.6 2313.7 L545.2 2312.9 L547.9 2312.1 L550.6 2311.3 L553.3 2310.5 L556.0 2309.7 L558.6 2309.0 L561.3 2308.2 L564.0 2307.5 L566.7 2306.8 L569.5 2306.1 L572.2 2305.4 L574.9 2304.8 L577.6 2304.1 L580.3 2303.5 L583.1 2302.9 L585.8 2302.3 L588.5 2301.7 L591.3 2301.1 L594.0 2300.5 L596.8 2300.0 L599.5 2299.5 L602.3 2298.9 L605.0 2298.4 L607.8 2297.9 L610.6 2297.4 L613.3 2296.9 L616.1 2296.5 L618.9 2296.0 L621.6 2295.6 L624.4 2295.1 L627.2 2294.7 L630.0 2294.3 L632.8 2293.9 L635.6 2293.5 L638.3 2293.2 L641.1 2292.8 L643.9 2292.4 L646.7 2292.1 L649.5 2291.7 L652.3 2291.4 L655.1 2291.1 L657.9 2290.8 L660.8 2290.5 L663.6 2290.2 L666.4 2289.9 L669.2 2289.7 L672.0 2289.4 L674.8 2289.1 L677.6 2288.9 L680.4 2288.7 L683.3 2288.4 L686.1 2288.2 L688.9 2288.0 L691.7 2287.8 L694.5 2287.6 L697.4 2287.4 L700.2 2287.2 L703.0 2287.0 L705.8 2286.9 L708.7 2286.7 L711.5 2286.5 L714.3 2286.4 L717.1 2286.2 L720.0 2286.1 L722.8 2286.0 L725.6 2285.8 L728.4 2285.7 L731.3 2285.6 L734.1 2285.5 L736.9 2285.4 L739.8 2285.3 L742.6 2285.2 L745.4 2285.1 L748.2 2285.1 L751.1 2285.0 L753.9 2284.9 L756.7 2284.9 L759.6 2284.8 L762.4 2284.8 L765.2 2284.7 L768.1 2284.7 L770.9 2284.6 L773.7 2284.6 L776.6 2284.6 L779.4 2284.6 L782.2 2284.6 L785.1 2284.6 L787.9 2284.6 L790.7 2284.6 L793.6 2284.6 L796.4 2284.6 L799.2 2284.6 L802.1 2284.6 L804.9 2284.6 L807.7 2284.7 L810.6 2284.7 L813.4 2284.8 L816.3 2284.8 L819.1 2284.8 L821.9 2284.9 L824.8 2285.0 L827.6 2285.0 L830.4 2285.1 L833.3 2285.2 L836.1 2285.2 L839.0 2285.3 L841.8 2285.4 L844.6 2285.5 L847.5 2285.6 L850.3 2285.7 L853.2 2285.8 L856.0 2285.9 L858.8 2286.0 L861.7 2286.1 L864.5 2286.2 L867.4 2286.3 L870.2 2286.4 L873.1 2286.5 L875.9 2286.6 L878.7 2286.8 L881.6 2286.9 L884.4 2287.0 L887.3 2287.2 L890.1 2287.3 L893.0 2287.4 L895.8 2287.6 L898.6 2287.7 L901.5 2287.9 L904.3 2288.0 L907.2 2288.2 L910.0 2288.3 L912.9 2288.5 L915.7 2288.6 L918.6 2288.8 L921.4 2289.0 L924.2 2289.1 L927.1 2289.3 L929.9 2289.5 L932.8 2289.6 L935.6 2289.8 L938.5 2290.0 L941.3 2290.1 L944.2 2290.3 L947.0 2290.5 L949.9 2290.7 L952.7 2290.9 L955.6 2291.0 L958.4 2291.2 L961.3 2291.4 L964.1 2291.6 L966.9 2291.8 L969.8 2292.0 L972.6 2292.1 L975.5 2292.3 L978.3 2292.5 L981.2 2292.7 L984.0 2292.9 L986.9 2293.1 L989.7 2293.3 L992.6 2293.5 L995.4 2293.7 L998.3 2293.9 L1001.1 2294.1 L1004.0 2294.3 L1006.8 2294.4 L1009.7 2294.6 L1012.5 2294.8 L1015.4 2295.0 L1018.2 2295.2 L1021.1 2295.4 L1023.9 2295.6 L1026.8 2295.8 L1029.6 2296.0 L1032.5 2296.2 L1035.3 2296.4 L1038.2 2296.6 L1041.0 2296.8 L1043.9 2296.9 L1046.7 2297.1 L1049.6 2297.3 L1052.4 2297.5 L1055.3 2297.7 L1058.1 2297.9 L1061.0 2298.1 L1063.8 2298.2 L1066.7 2298.4 L1069.5 2298.6 L1072.4 2298.8 L1075.2 2299.0 L1078.1 2299.1 L1080.9 2299.3 L1083.8 2299.5 L1086.6 2299.7 L1089.5 2299.8 L1092.3 2300.0 L1095.2 2300.2 L1098.0 2300.3 L1100.9 2300.5 L1103.7 2300.6 L1106.6 2300.8 L1109.4 2301.0 L1112.3 2301.1 L1115.1 2301.3 L1118.0 2301.4 L1120.8 2301.6 L1123.7 2301.7 L1126.5 2301.9 L1129.4 2302.0 L1132.2 2302.1 L1135.1 2302.3 L1137.9 2302.4 L1140.8 2302.6 L1143.6 2302.7 L1146.5 2302.8 L1149.3 2303.0 L1152.2 2303.1 L1155.0 2303.2 L1157.9 2303.3 L1160.7 2303.5 L1163.6 2303.6 L1166.4 2303.7 L1169.3 2303.8 L1172.1 2304.0 L1175.0 2304.1 L1177.8 2304.2 L1180.7 2304.3 L1183.5 2304.4 L1186.4 2304.5 L1189.2 2304.6 L1192.1 2304.7 L1194.9 2304.8 L1197.7 2305.0 L1200.6 2305.1 L1203.4 2305.2 L1206.3 2305.3 L1209.1 2305.4 L1212.0 2305.5 L1214.8 2305.6 L1217.7 2305.6 L1220.5 2305.7 L1223.4 2305.8 L1226.2 2305.9 L1229.1 2306.0 L1231.9 2306.1 L1234.8 2306.2 L1237.6 2306.3 L1240.4 2306.4 L1243.3 2306.4 L1246.1 2306.5 L1249.0 2306.6 L1251.8 2306.7 L1254.7 2306.8 L1257.5 2306.8 L1260.4 2306.9 L1263.2 2307.0 L1266.1 2307.1 L1268.9 2307.1 L1271.7 2307.2 L1274.6 2307.3 L1277.4 2307.4 L1280.3 2307.4 L1283.1 2307.5 L1286.0 2307.6 L1288.8 2307.6 L1291.7 2307.7 L1294.5 2307.8 L1297.3 2307.8 L1300.2 2307.9 L1303.0 2307.9 L1305.9 2308.0 L1308.7 2308.1 L1311.6 2308.1 L1314.4 2308.2 L1317.2 2308.2 L1320.1 2308.3 L1322.9 2308.4 L1325.8 2308.4 L1328.6 2308.5 L1331.5 2308.5 L1334.3 2308.6 L1337.2 2308.6 L1340.0 2308.7 L1342.8 2308.7 L1345.7 2308.8 L1348.5 2308.8 L1351.4 2308.9 L1354.2 2308.9 L1357.1 2309.0 L1359.9 2309.0 L1362.7 2309.0 L1365.6 2309.1 L1368.4 2309.1 L1371.3 2309.2 L1374.1 2309.2 L1377.0 2309.3 L1379.8 2309.3 L1382.6 2309.3 L1385.5 2309.4 L1388.3 2309.4 L1391.2 2309.5 L1394.0 2309.5 L1396.9 2309.5 L1399.7 2309.6 L1402.5 2309.6 L1405.4 2309.7 L1408.2 2309.7 L1411.1 2309.7 L1413.9 2309.8 L1416.8 2309.8 L1419.6 2309.8 L1422.4 2309.9 L1425.3 2309.9 L1428.1 2309.9 L1431.0 2310.0 L1433.8 2310.0 L1436.7 2310.0 L1439.5 2310.1 L1442.3 2310.1 L1445.2 2310.1 L1448.0 2310.2 L1450.9 2310.2 L1453.7 2310.2 L1456.6 2310.3 L1459.4 2310.3 L1462.2 2310.3 L1465.1 2310.4 L1467.9 2310.4 L1470.8 2310.4 L1473.6 2310.5 L1476.4 2310.5 L1479.3 2310.5 L1482.1 2310.5 L1485.0 2310.6 L1487.8 2310.6 L1490.7 2310.6 L1493.5 2310.7 L1496.3 2310.7 L1499.2 2310.7 L1502.0 2310.8 L1504.9 2310.8 L1507.7 2310.8 L1510.6 2310.8 L1513.4 2310.9 L1516.2 2310.9 L1519.1 2310.9 L1521.9 2311.0 L1524.8 2311.0 L1527.6 2311.0 L1530.5 2311.1 L1533.3 2311.1 L1536.1 2311.1 L1539.0 2311.2 L1541.8 2311.2 L1544.7 2311.2 L1547.5 2311.3 L1550.4 2311.3 L1553.2 2311.3 L1556.0 2311.4 L1558.9 2311.4 L1561.7 2311.4 L1564.6 2311.5 L1567.4 2311.5 L1570.3 2311.5 L1573.1 2311.6 L1575.9 2311.6 L1578.8 2311.6 L1581.6 2311.7 L1584.5 2311.7 L1587.3 2311.8 L1590.2 2311.8 L1593.0 2311.8 L1595.8 2311.9 L1598.7 2311.9 L1601.5 2312.0 L1604.4 2312.0 L1607.2 2312.0 L1610.1 2312.1 L1612.9 2312.1 L1615.7 2312.2 L1618.6 2312.2 L1621.4 2312.3 L1624.3 2312.3 L1627.1 2312.3 L1630.0 2312.4 L1632.8 2312.4 L1635.7 2312.5 L1638.5 2312.5 L1641.3 2312.6 L1644.2 2312.6 L1647.0 2312.7 L1649.9 2312.7 L1652.7 2312.8 L1655.6 2312.8 L1658.4 2312.9 L1661.2 2313.0 L1664.1 2313.0 L1666.9 2313.1 L1669.8 2313.1 L1672.6 2313.2 L1675.5 2313.2 L1678.3 2313.3 L1681.2 2313.4 L1684.0 2313.4 L1686.9 2313.5 L1689.7 2313.5 L1692.5 2313.6 L1695.4 2313.7 L1698.2 2313.7 L1701.1 2313.8 L1703.9 2313.9 L1706.8 2313.9 L1709.6 2314.0 L1712.5 2314.1 L1715.3 2314.2 L1718.2 2314.2 L1721.0 2314.3 L1723.8 2314.4 L1726.7 2314.5 L1729.5 2314.5 L1732.4 2314.6 L1735.2 2314.7 L1738.1 2314.8 L1740.9 2314.9 L1743.8 2315.0 L1746.6 2315.0 L1749.5 2315.1 L1752.3 2315.2 L1755.2 2315.3 L1758.0 2315.4 L1760.9 2315.5 L1763.7 2315.6 L1766.5 2315.7 L1769.4 2315.8 L1772.2 2315.9 L1775.1 2316.0 L1777.9 2316.1 L1780.8 2316.2 L1783.6 2316.3 L1786.5 2316.4 L1789.3 2316.5 L1792.2 2316.6 L1795.0 2316.7 L1797.9 2316.8 L1800.7 2316.9 L1803.6 2317.0 L1806.4 2317.1 L1809.3 2317.2 L1812.1 2317.4 L1815.0 2317.5 L1817.8 2317.6 L1820.7 2317.7 L1823.5 2317.8 L1826.4 2318.0 L1829.2 2318.1 L1832.1 2318.2 L1834.9 2318.4 L1837.8 2318.5 L1838.2 2308.7 L1835.4 2308.6 L1832.5 2308.4 L1829.7 2308.3 L1826.8 2308.2 L1823.9 2308.1 L1821.1 2307.9 L1818.2 2307.8 L1815.4 2307.7 L1812.5 2307.6 L1809.7 2307.5 L1806.8 2307.3 L1804.0 2307.2 L1801.1 2307.1 L1798.3 2307.0 L1795.4 2306.9 L1792.6 2306.8 L1789.7 2306.7 L1786.8 2306.6 L1784.0 2306.5 L1781.1 2306.4 L1778.3 2306.3 L1775.4 2306.2 L1772.6 2306.1 L1769.7 2306.0 L1766.9 2305.9 L1764.0 2305.8 L1761.2 2305.7 L1758.3 2305.6 L1755.5 2305.5 L1752.6 2305.4 L1749.8 2305.3 L1746.9 2305.2 L1744.1 2305.2 L1741.2 2305.1 L1738.4 2305.0 L1735.5 2304.9 L1732.7 2304.8 L1729.8 2304.7 L1727.0 2304.7 L1724.1 2304.6 L1721.3 2304.5 L1718.4 2304.4 L1715.6 2304.4 L1712.7 2304.3 L1709.9 2304.2 L1707.0 2304.2 L1704.2 2304.1 L1701.3 2304.0 L1698.5 2303.9 L1695.6 2303.9 L1692.8 2303.8 L1689.9 2303.8 L1687.1 2303.7 L1684.2 2303.6 L1681.4 2303.6 L1678.5 2303.5 L1675.7 2303.4 L1672.8 2303.4 L1670.0 2303.3 L1667.1 2303.3 L1664.3 2303.2 L1661.4 2303.2 L1658.6 2303.1 L1655.7 2303.0 L1652.9 2303.0 L1650.1 2302.9 L1647.2 2302.9 L1644.4 2302.8 L1641.5 2302.8 L1638.7 2302.7 L1635.8 2302.7 L1633.0 2302.6 L1630.1 2302.6 L1627.3 2302.6 L1624.4 2302.5 L1621.6 2302.5 L1618.7 2302.4 L1615.9 2302.4 L1613.0 2302.3 L1610.2 2302.3 L1607.4 2302.2 L1604.5 2302.2 L1601.7 2302.2 L1598.8 2302.1 L1596.0 2302.1 L1593.1 2302.0 L1590.3 2302.0 L1587.4 2302.0 L1584.6 2301.9 L1581.8 2301.9 L1578.9 2301.8 L1576.1 2301.8 L1573.2 2301.8 L1570.4 2301.7 L1567.5 2301.7 L1564.7 2301.7 L1561.8 2301.6 L1559.0 2301.6 L1556.2 2301.6 L1553.3 2301.5 L1550.5 2301.5 L1547.6 2301.5 L1544.8 2301.4 L1541.9 2301.4 L1539.1 2301.4 L1536.3 2301.3 L1533.4 2301.3 L1530.6 2301.3 L1527.7 2301.2 L1524.9 2301.2 L1522.0 2301.2 L1519.2 2301.1 L1516.3 2301.1 L1513.5 2301.1 L1510.7 2301.1 L1507.8 2301.0 L1505.0 2301.0 L1502.1 2301.0 L1499.3 2300.9 L1496.4 2300.9 L1493.6 2300.9 L1490.8 2300.8 L1487.9 2300.8 L1485.1 2300.8 L1482.2 2300.7 L1479.4 2300.7 L1476.6 2300.7 L1473.7 2300.7 L1470.9 2300.6 L1468.0 2300.6 L1465.2 2300.6 L1462.3 2300.5 L1459.5 2300.5 L1456.7 2300.5 L1453.8 2300.4 L1451.0 2300.4 L1448.1 2300.4 L1445.3 2300.3 L1442.5 2300.3 L1439.6 2300.3 L1436.8 2300.2 L1433.9 2300.2 L1431.1 2300.2 L1428.2 2300.1 L1425.4 2300.1 L1422.6 2300.1 L1419.7 2300.0 L1416.9 2300.0 L1414.0 2300.0 L1411.2 2299.9 L1408.4 2299.9 L1405.5 2299.9 L1402.7 2299.8 L1399.8 2299.8 L1397.0 2299.7 L1394.1 2299.7 L1391.3 2299.7 L1388.5 2299.6 L1385.6 2299.6 L1382.8 2299.5 L1379.9 2299.5 L1377.1 2299.5 L1374.3 2299.4 L1371.4 2299.4 L1368.6 2299.3 L1365.7 2299.3 L1362.9 2299.3 L1360.1 2299.2 L1357.2 2299.2 L1354.4 2299.1 L1351.5 2299.1 L1348.7 2299.0 L1345.9 2299.0 L1343.0 2298.9 L1340.2 2298.9 L1337.3 2298.8 L1334.5 2298.8 L1331.6 2298.7 L1328.8 2298.7 L1326.0 2298.6 L1323.1 2298.6 L1320.3 2298.5 L1317.4 2298.4 L1314.6 2298.4 L1311.8 2298.3 L1308.9 2298.3 L1306.1 2298.2 L1303.2 2298.2 L1300.4 2298.1 L1297.6 2298.0 L1294.7 2298.0 L1291.9 2297.9 L1289.0 2297.8 L1286.2 2297.8 L1283.4 2297.7 L1280.5 2297.6 L1277.7 2297.6 L1274.8 2297.5 L1272.0 2297.4 L1269.1 2297.4 L1266.3 2297.3 L1263.5 2297.2 L1260.6 2297.1 L1257.8 2297.1 L1254.9 2297.0 L1252.1 2296.9 L1249.3 2296.8 L1246.4 2296.7 L1243.6 2296.7 L1240.7 2296.6 L1237.9 2296.5 L1235.1 2296.4 L1232.2 2296.3 L1229.4 2296.2 L1226.5 2296.1 L1223.7 2296.0 L1220.8 2296.0 L1218.0 2295.9 L1215.2 2295.8 L1212.3 2295.7 L1209.5 2295.6 L1206.6 2295.5 L1203.8 2295.4 L1200.9 2295.3 L1198.1 2295.2 L1195.3 2295.1 L1192.4 2295.0 L1189.6 2294.8 L1186.7 2294.7 L1183.9 2294.6 L1181.1 2294.5 L1178.2 2294.4 L1175.4 2294.3 L1172.5 2294.2 L1169.7 2294.1 L1166.8 2293.9 L1164.0 2293.8 L1161.2 2293.7 L1158.3 2293.6 L1155.5 2293.4 L1152.6 2293.3 L1149.8 2293.2 L1146.9 2293.0 L1144.1 2292.9 L1141.3 2292.8 L1138.4 2292.6 L1135.6 2292.5 L1132.7 2292.4 L1129.9 2292.2 L1127.0 2292.1 L1124.2 2291.9 L1121.4 2291.8 L1118.5 2291.6 L1115.7 2291.5 L1112.8 2291.3 L1110.0 2291.2 L1107.1 2291.0 L1104.3 2290.9 L1101.4 2290.7 L1098.6 2290.6 L1095.8 2290.4 L1092.9 2290.2 L1090.1 2290.1 L1087.2 2289.9 L1084.4 2289.7 L1081.5 2289.6 L1078.7 2289.4 L1075.8 2289.2 L1073.0 2289.0 L1070.1 2288.8 L1067.3 2288.7 L1064.5 2288.5 L1061.6 2288.3 L1058.8 2288.1 L1055.9 2287.9 L1053.1 2287.8 L1050.2 2287.6 L1047.4 2287.4 L1044.5 2287.2 L1041.7 2287.0 L1038.8 2286.8 L1036.0 2286.6 L1033.1 2286.4 L1030.3 2286.2 L1027.4 2286.0 L1024.6 2285.9 L1021.7 2285.7 L1018.9 2285.5 L1016.0 2285.3 L1013.2 2285.1 L1010.3 2284.9 L1007.5 2284.7 L1004.6 2284.5 L1001.8 2284.3 L998.9 2284.1 L996.1 2283.9 L993.2 2283.7 L990.4 2283.5 L987.5 2283.3 L984.7 2283.2 L981.8 2283.0 L979.0 2282.8 L976.1 2282.6 L973.3 2282.4 L970.4 2282.2 L967.6 2282.0 L964.7 2281.8 L961.9 2281.6 L959.0 2281.5 L956.2 2281.3 L953.3 2281.1 L950.5 2280.9 L947.6 2280.7 L944.8 2280.6 L941.9 2280.4 L939.1 2280.2 L936.2 2280.0 L933.4 2279.9 L930.5 2279.7 L927.7 2279.5 L924.8 2279.4 L922.0 2279.2 L919.1 2279.0 L916.3 2278.9 L913.4 2278.7 L910.5 2278.5 L907.7 2278.4 L904.8 2278.2 L902.0 2278.1 L899.1 2277.9 L896.3 2277.8 L893.4 2277.7 L890.6 2277.5 L887.7 2277.4 L884.9 2277.2 L882.0 2277.1 L879.2 2277.0 L876.3 2276.9 L873.5 2276.7 L870.6 2276.6 L867.8 2276.5 L864.9 2276.4 L862.1 2276.3 L859.2 2276.2 L856.4 2276.1 L853.5 2276.0 L850.6 2275.9 L847.8 2275.8 L844.9 2275.7 L842.1 2275.6 L839.2 2275.5 L836.4 2275.4 L833.5 2275.4 L830.7 2275.3 L827.8 2275.2 L825.0 2275.2 L822.1 2275.1 L819.3 2275.1 L816.4 2275.0 L813.6 2275.0 L810.7 2274.9 L807.9 2274.9 L805.0 2274.8 L802.2 2274.8 L799.3 2274.8 L796.5 2274.8 L793.6 2274.8 L790.8 2274.8 L787.9 2274.8 L785.0 2274.8 L782.2 2274.8 L779.3 2274.8 L776.5 2274.8 L773.6 2274.8 L770.8 2274.8 L767.9 2274.9 L765.1 2274.9 L762.2 2275.0 L759.4 2275.0 L756.5 2275.1 L753.7 2275.1 L750.8 2275.2 L748.0 2275.3 L745.1 2275.3 L742.3 2275.4 L739.4 2275.5 L736.6 2275.6 L733.7 2275.7 L730.9 2275.8 L728.0 2275.9 L725.2 2276.1 L722.3 2276.2 L719.5 2276.3 L716.6 2276.5 L713.8 2276.6 L711.0 2276.8 L708.1 2276.9 L705.3 2277.1 L702.4 2277.3 L699.6 2277.4 L696.7 2277.6 L693.9 2277.8 L691.0 2278.0 L688.2 2278.2 L685.3 2278.5 L682.5 2278.7 L679.6 2278.9 L676.8 2279.2 L673.9 2279.4 L671.1 2279.7 L668.3 2279.9 L665.4 2280.2 L662.6 2280.5 L659.7 2280.8 L656.9 2281.1 L654.1 2281.4 L651.2 2281.7 L648.4 2282.1 L645.5 2282.4 L642.7 2282.8 L639.9 2283.1 L637.1 2283.5 L634.2 2283.9 L631.4 2284.3 L628.6 2284.7 L625.8 2285.1 L622.9 2285.6 L620.1 2286.0 L617.3 2286.5 L614.5 2286.9 L611.7 2287.4 L608.9 2287.9 L606.1 2288.4 L603.3 2288.9 L600.5 2289.5 L597.7 2290.0 L594.9 2290.6 L592.1 2291.1 L589.3 2291.7 L586.5 2292.3 L583.7 2292.9 L581.0 2293.6 L578.2 2294.2 L575.4 2294.9 L572.6 2295.5 L569.9 2296.2 L567.1 2296.9 L564.4 2297.6 L561.6 2298.4 L558.9 2299.1 L556.1 2299.9 L553.4 2300.7 L550.6 2301.4 L547.9 2302.3 L545.2 2303.1 L542.5 2303.9 L539.7 2304.8 L537.0 2305.7 L534.3 2306.6 L531.6 2307.5 L528.9 2308.4 L526.2 2309.4 L523.5 2310.3 L520.9 2311.3 L518.2 2312.3 L515.5 2313.3 L512.8 2314.3 L510.2 2315.4 L507.5 2316.5 L504.9 2317.5 L502.2 2318.6 L499.6 2319.8 L497.0 2320.9 L494.3 2322.0 L491.7 2323.2 L489.1 2324.4 L486.5 2325.6 L483.9 2326.8 L481.3 2328.1 L478.7 2329.3 L476.1 2330.6 L473.6 2331.9 L471.0 2333.2 L468.4 2334.5 L465.9 2335.9 L463.3 2337.2 L460.8 2338.6 L458.2 2340.0 L455.7 2341.4 L453.2 2342.9 L450.7 2344.3 L448.2 2345.8 L445.6 2347.3 L443.2 2348.8 L440.7 2350.3 L438.2 2351.8 L435.7 2353.4 L433.2 2354.9 L430.8 2356.5Z" stroke="none"/>
<line x1="607" y1="1508" x2="607" y2="1617" stroke-width="8" stroke-linecap="butt"/>
<line x1="583.5" y1="1508" x2="630.5" y2="1508" stroke-width="8.5" stroke-linecap="butt"/>
<line x1="583.5" y1="1617" x2="630.5" y2="1617" stroke-width="8.5" stroke-linecap="butt"/>
<line x1="785" y1="1436" x2="785" y2="1532.5" stroke-width="8" stroke-linecap="butt"/>
<line x1="761.5" y1="1436" x2="808.5" y2="1436" stroke-width="8.5" stroke-linecap="butt"/>
<line x1="761.5" y1="1532.5" x2="808.5" y2="1532.5" stroke-width="8.5" stroke-linecap="butt"/>
<line x1="960" y1="1825" x2="960" y2="1912" stroke-width="8" stroke-linecap="butt"/>
<line x1="936.5" y1="1825" x2="983.5" y2="1825" stroke-width="8.5" stroke-linecap="butt"/>
<line x1="936.5" y1="1912" x2="983.5" y2="1912" stroke-width="8.5" stroke-linecap="butt"/>
<line x1="1134" y1="1956" x2="1134" y2="2068.8" stroke-width="8" stroke-linecap="butt"/>
<line x1="1110.5" y1="1956" x2="1157.5" y2="1956" stroke-width="8.5" stroke-linecap="butt"/>
<line x1="1110.5" y1="2068.8" x2="1157.5" y2="2068.8" stroke-width="8.5" stroke-linecap="butt"/>
<line x1="1486" y1="2106.5" x2="1486" y2="2178" stroke-width="8" stroke-linecap="butt"/>
<line x1="1462.5" y1="2106.5" x2="1509.5" y2="2106.5" stroke-width="8.5" stroke-linecap="butt"/>
<line x1="1462.5" y1="2178" x2="1509.5" y2="2178" stroke-width="8.5" stroke-linecap="butt"/>
<line x1="1838" y1="2182" x2="1838" y2="2256" stroke-width="8" stroke-linecap="butt"/>
<line x1="1814.5" y1="2182" x2="1861.5" y2="2182" stroke-width="8.5" stroke-linecap="butt"/>
<line x1="1814.5" y1="2256" x2="1861.5" y2="2256" stroke-width="8.5" stroke-linecap="butt"/>
<line x1="607" y1="2183" x2="607" y2="2241.5" stroke-width="8" stroke-linecap="butt"/>
<line x1="583.5" y1="2183" x2="630.5" y2="2183" stroke-width="8.5" stroke-linecap="butt"/>
<line x1="583.5" y1="2241.5" x2="630.5" y2="2241.5" stroke-width="8.5" stroke-linecap="butt"/>
<line x1="785" y1="2145" x2="785" y2="2221" stroke-width="8" stroke-linecap="butt"/>
<line x1="762.5" y1="2145" x2="807.5" y2="2145" stroke-width="8.5" stroke-linecap="butt"/>
<line x1="762.5" y1="2221" x2="807.5" y2="2221" stroke-width="8.5" stroke-linecap="butt"/>
<line x1="960" y1="2188.8" x2="960" y2="2259.6" stroke-width="8" stroke-linecap="butt"/>
<line x1="936.5" y1="2188.8" x2="983.5" y2="2188.8" stroke-width="8.5" stroke-linecap="butt"/>
<line x1="936.5" y1="2259.6" x2="983.5" y2="2259.6" stroke-width="8.5" stroke-linecap="butt"/>
<line x1="1134" y1="2219.5" x2="1134" y2="2296" stroke-width="8" stroke-linecap="butt"/>
<line x1="1110.5" y1="2219.5" x2="1157.5" y2="2219.5" stroke-width="8.5" stroke-linecap="butt"/>
<line x1="1110.5" y1="2296" x2="1157.5" y2="2296" stroke-width="8.5" stroke-linecap="butt"/>
<line x1="1486" y1="2242" x2="1486" y2="2306" stroke-width="8" stroke-linecap="butt"/>
<line x1="1462.5" y1="2242" x2="1509.5" y2="2242" stroke-width="8.5" stroke-linecap="butt"/>
<line x1="1462.5" y1="2306" x2="1509.5" y2="2306" stroke-width="8.5" stroke-linecap="butt"/>
<line x1="1838" y1="2252" x2="1838" y2="2300" stroke-width="8" stroke-linecap="butt"/>
<line x1="1814.5" y1="2252" x2="1861.5" y2="2252" stroke-width="8.5" stroke-linecap="butt"/>
<line x1="1814.5" y1="2300" x2="1861.5" y2="2300" stroke-width="8.5" stroke-linecap="butt"/>
<line x1="607" y1="2005" x2="607" y2="2087" stroke-width="8" stroke-linecap="butt"/>
<line x1="583.5" y1="2005" x2="630.5" y2="2005" stroke-width="8.5" stroke-linecap="butt"/>
<line x1="583.5" y1="2087" x2="630.5" y2="2087" stroke-width="8.5" stroke-linecap="butt"/>
<line x1="785" y1="1896" x2="785" y2="1976" stroke-width="8" stroke-linecap="butt"/>
<line x1="761.5" y1="1896" x2="808.5" y2="1896" stroke-width="8.5" stroke-linecap="butt"/>
<line x1="761.5" y1="1976" x2="808.5" y2="1976" stroke-width="8.5" stroke-linecap="butt"/>
<line x1="960" y1="2020" x2="960" y2="2118" stroke-width="8" stroke-linecap="butt"/>
<line x1="936.5" y1="2020" x2="983.5" y2="2020" stroke-width="8.5" stroke-linecap="butt"/>
<line x1="936.5" y1="2118" x2="983.5" y2="2118" stroke-width="8.5" stroke-linecap="butt"/>
<line x1="1134" y1="2068.8" x2="1134" y2="2157.8" stroke-width="8" stroke-linecap="butt"/>
<line x1="1110.5" y1="2068.8" x2="1157.5" y2="2068.8" stroke-width="8.5" stroke-linecap="butt"/>
<line x1="1110.5" y1="2157.8" x2="1157.5" y2="2157.8" stroke-width="8.5" stroke-linecap="butt"/>
<line x1="1486" y1="2145" x2="1486" y2="2207" stroke-width="8" stroke-linecap="butt"/>
<line x1="1462.5" y1="2145" x2="1509.5" y2="2145" stroke-width="8.5" stroke-linecap="butt"/>
<line x1="1462.5" y1="2207" x2="1509.5" y2="2207" stroke-width="8.5" stroke-linecap="butt"/>
<line x1="1838" y1="2210" x2="1838" y2="2262" stroke-width="8" stroke-linecap="butt"/>
<line x1="1814.5" y1="2210" x2="1861.5" y2="2210" stroke-width="8.5" stroke-linecap="butt"/>
<line x1="1814.5" y1="2262" x2="1861.5" y2="2262" stroke-width="8.5" stroke-linecap="butt"/>
<line x1="607" y1="2264" x2="607" y2="2298" stroke-width="8" stroke-linecap="butt"/>
<line x1="574" y1="2264" x2="640" y2="2264" stroke-width="8.5" stroke-linecap="butt"/>
<line x1="574" y1="2298" x2="640" y2="2298" stroke-width="8.5" stroke-linecap="butt"/>
<line x1="785" y1="2272" x2="785" y2="2303" stroke-width="8" stroke-linecap="butt"/>
<line x1="752" y1="2272" x2="818" y2="2272" stroke-width="8.5" stroke-linecap="butt"/>
<line x1="752" y1="2303" x2="818" y2="2303" stroke-width="8.5" stroke-linecap="butt"/>
<line x1="960" y1="2270" x2="960" y2="2305" stroke-width="8" stroke-linecap="butt"/>
<line x1="927" y1="2270" x2="993" y2="2270" stroke-width="8.5" stroke-linecap="butt"/>
<line x1="927" y1="2305" x2="993" y2="2305" stroke-width="8.5" stroke-linecap="butt"/>
<line x1="1134" y1="2280" x2="1134" y2="2318" stroke-width="8" stroke-linecap="butt"/>
<line x1="1101" y1="2280" x2="1167" y2="2280" stroke-width="8.5" stroke-linecap="butt"/>
<line x1="1101" y1="2318" x2="1167" y2="2318" stroke-width="8.5" stroke-linecap="butt"/>
<line x1="1486" y1="2296" x2="1486" y2="2330" stroke-width="8" stroke-linecap="butt"/>
<line x1="1453" y1="2296" x2="1519" y2="2296" stroke-width="8.5" stroke-linecap="butt"/>
<line x1="1453" y1="2330" x2="1519" y2="2330" stroke-width="8.5" stroke-linecap="butt"/>
<line x1="1838" y1="2298" x2="1838" y2="2328" stroke-width="8" stroke-linecap="butt"/>
<line x1="1805" y1="2298" x2="1871" y2="2298" stroke-width="8.5" stroke-linecap="butt"/>
<line x1="1805" y1="2328" x2="1871" y2="2328" stroke-width="8.5" stroke-linecap="butt"/>
<rect x="416.75" y="2343.75" width="32.5" height="32.5" fill="#fbfbfb" stroke-width="9.5"/>
<rect x="590.75" y="1546.75" width="32.5" height="32.5" fill="#fbfbfb" stroke-width="9.5"/>
<rect x="768.75" y="1467.75" width="32.5" height="32.5" fill="#fbfbfb" stroke-width="9.5"/>
<rect x="943.75" y="1849.75" width="32.5" height="32.5" fill="#fbfbfb" stroke-width="9.5"/>
<rect x="1117.75" y="1993.75" width="32.5" height="32.5" fill="#fbfbfb" stroke-width="9.5"/>
<rect x="1469.75" y="2125.75" width="32.5" height="32.5" fill="#fbfbfb" stroke-width="9.5"/>
<rect x="1821.75" y="2205.75" width="32.5" height="32.5" fill="#fbfbfb" stroke-width="9.5"/>
<ellipse cx="433" cy="2360" rx="18.25" ry="14.75" fill="#fbfbfb" stroke-width="9.5"/>
<ellipse cx="607" cy="2212.3" rx="18.25" ry="14.75" fill="#fbfbfb" stroke-width="9.5"/>
<ellipse cx="785" cy="2181.5" rx="18.25" ry="14.75" fill="#fbfbfb" stroke-width="9.5"/>
<ellipse cx="960" cy="2228.7" rx="18.25" ry="14.75" fill="#fbfbfb" stroke-width="9.5"/>
<ellipse cx="1134" cy="2257.7" rx="18.25" ry="14.75" fill="#fbfbfb" stroke-width="9.5"/>
<ellipse cx="1486" cy="2274" rx="18.25" ry="14.75" fill="#fbfbfb" stroke-width="9.5"/>
<ellipse cx="1838" cy="2280" rx="18.25" ry="14.75" fill="#fbfbfb" stroke-width="9.5"/>
<polygon points="433,2341 454.35,2377.5 411.65,2377.5" fill="#fbfbfb" stroke-width="9" stroke-linejoin="miter" stroke-miterlimit="10"/>
<polygon points="607,2026 628.35,2062.5 585.65,2062.5" fill="#fbfbfb" stroke-width="9" stroke-linejoin="miter" stroke-miterlimit="10"/>
<polygon points="785,1919 806.35,1955.5 763.65,1955.5" fill="#fbfbfb" stroke-width="9" stroke-linejoin="miter" stroke-miterlimit="10"/>
<polygon points="960,2052 981.35,2088.5 938.65,2088.5" fill="#fbfbfb" stroke-width="9" stroke-linejoin="miter" stroke-miterlimit="10"/>
<polygon points="1134,2086 1155.35,2122.5 1112.65,2122.5" fill="#fbfbfb" stroke-width="9" stroke-linejoin="miter" stroke-miterlimit="10"/>
<polygon points="1486,2160 1507.35,2196.5 1464.65,2196.5" fill="#fbfbfb" stroke-width="9" stroke-linejoin="miter" stroke-miterlimit="10"/>
<polygon points="1838,2224 1859.35,2260.5 1816.65,2260.5" fill="#fbfbfb" stroke-width="9" stroke-linejoin="miter" stroke-miterlimit="10"/>
<polygon points="433,2382 454.35,2345.5 411.65,2345.5" fill="#fbfbfb" stroke-width="9" stroke-linejoin="miter" stroke-miterlimit="10"/>
<polygon points="607,2301 628.35,2264.5 585.65,2264.5" fill="#fbfbfb" stroke-width="9" stroke-linejoin="miter" stroke-miterlimit="10"/>
<polygon points="785,2311 806.35,2274.5 763.65,2274.5" fill="#fbfbfb" stroke-width="9" stroke-linejoin="miter" stroke-miterlimit="10"/>
<polygon points="960,2305 981.35,2268.5 938.65,2268.5" fill="#fbfbfb" stroke-width="9" stroke-linejoin="miter" stroke-miterlimit="10"/>
<polygon points="1134,2316 1155.35,2279.5 1112.65,2279.5" fill="#fbfbfb" stroke-width="9" stroke-linejoin="miter" stroke-miterlimit="10"/>
<polygon points="1486,2330 1507.35,2293.5 1464.65,2293.5" fill="#fbfbfb" stroke-width="9" stroke-linejoin="miter" stroke-miterlimit="10"/>
<polygon points="1838,2338 1859.35,2301.5 1816.65,2301.5" fill="#fbfbfb" stroke-width="9" stroke-linejoin="miter" stroke-miterlimit="10"/>
<line x1="401.5" y1="1395.5" x2="401.5" y2="2364" stroke-width="10" stroke-linecap="butt"/>
<line x1="377" y1="1490" x2="401.5" y2="1490" stroke-width="7" stroke-linecap="butt"/>
<line x1="377" y1="1664" x2="401.5" y2="1664" stroke-width="7" stroke-linecap="butt"/>
<line x1="377" y1="1836" x2="401.5" y2="1836" stroke-width="7" stroke-linecap="butt"/>
<line x1="377" y1="2014.5" x2="401.5" y2="2014.5" stroke-width="7" stroke-linecap="butt"/>
<line x1="377" y1="2187.7" x2="401.5" y2="2187.7" stroke-width="7" stroke-linecap="butt"/>
<line x1="377" y1="2360" x2="401.5" y2="2360" stroke-width="7" stroke-linecap="butt"/>
<line x1="386" y1="1399" x2="401.5" y2="1399" stroke-width="7" stroke-linecap="butt"/>
<line x1="386" y1="1577.6" x2="401.5" y2="1577.6" stroke-width="7" stroke-linecap="butt"/>
<line x1="386" y1="1749.4" x2="401.5" y2="1749.4" stroke-width="7" stroke-linecap="butt"/>
<line x1="386" y1="1922.8" x2="401.5" y2="1922.8" stroke-width="7" stroke-linecap="butt"/>
<line x1="386" y1="2102.8" x2="401.5" y2="2102.8" stroke-width="7" stroke-linecap="butt"/>
<line x1="386" y1="2274.8" x2="401.5" y2="2274.8" stroke-width="7" stroke-linecap="butt"/>
<line x1="433" y1="2399" x2="1842" y2="2399" stroke-width="10" stroke-linecap="butt"/>
<line x1="433" y1="2395.5" x2="433" y2="2422" stroke-width="7" stroke-linecap="butt"/>
<line x1="607" y1="2395.5" x2="607" y2="2422" stroke-width="7" stroke-linecap="butt"/>
<line x1="785.5" y1="2395.5" x2="785.5" y2="2422" stroke-width="7" stroke-linecap="butt"/>
<line x1="960" y1="2395.5" x2="960" y2="2422" stroke-width="7" stroke-linecap="butt"/>
<line x1="1134.5" y1="2395.5" x2="1134.5" y2="2422" stroke-width="7" stroke-linecap="butt"/>
<line x1="1311" y1="2395.5" x2="1311" y2="2422" stroke-width="7" stroke-linecap="butt"/>
<line x1="1486" y1="2395.5" x2="1486" y2="2422" stroke-width="7" stroke-linecap="butt"/>
<line x1="1664.5" y1="2395.5" x2="1664.5" y2="2422" stroke-width="7" stroke-linecap="butt"/>
<line x1="1839" y1="2395.5" x2="1839" y2="2422" stroke-width="7" stroke-linecap="butt"/>
<line x1="520" y1="2395.5" x2="520" y2="2414" stroke-width="7" stroke-linecap="butt"/>
<line x1="694" y1="2395.5" x2="694" y2="2414" stroke-width="7" stroke-linecap="butt"/>
<line x1="873" y1="2395.5" x2="873" y2="2414" stroke-width="7" stroke-linecap="butt"/>
<line x1="1047" y1="2395.5" x2="1047" y2="2414" stroke-width="7" stroke-linecap="butt"/>
<line x1="1225" y1="2395.5" x2="1225" y2="2414" stroke-width="7" stroke-linecap="butt"/>
<line x1="1399" y1="2395.5" x2="1399" y2="2414" stroke-width="7" stroke-linecap="butt"/>
<line x1="1573" y1="2395.5" x2="1573" y2="2414" stroke-width="7" stroke-linecap="butt"/>
<line x1="1752" y1="2395.5" x2="1752" y2="2414" stroke-width="7" stroke-linecap="butt"/>
<rect x="27" y="28.5" width="1894" height="2570.5" fill="none" stroke-width="10"/>
<line x1="27" y1="1366.5" x2="1921" y2="1366.5" stroke-width="10" stroke-linecap="butt"/>
<rect x="1205" y="44" width="689.5" height="330.6" fill="#fbfbfb" stroke-width="10"/>
<line x1="1227" y1="96.7" x2="1272" y2="96.7" stroke-width="10.5" stroke-linecap="butt"/>
<line x1="1330" y1="96.7" x2="1378" y2="96.7" stroke-width="10.5" stroke-linecap="butt"/>
<line x1="1227" y1="176.5" x2="1272" y2="176.5" stroke-width="10.5" stroke-linecap="butt"/>
<line x1="1330" y1="176.5" x2="1378" y2="176.5" stroke-width="10.5" stroke-linecap="butt"/>
<line x1="1227" y1="253" x2="1272" y2="253" stroke-width="10.5" stroke-linecap="butt"/>
<line x1="1330" y1="253" x2="1378" y2="253" stroke-width="10.5" stroke-linecap="butt"/>
<line x1="1227" y1="330" x2="1272" y2="330" stroke-width="10.5" stroke-linecap="butt"/>
<line x1="1330" y1="330" x2="1378" y2="330" stroke-width="10.5" stroke-linecap="butt"/>
<rect x="1279.6" y="74.7" width="44" height="44" stroke="none"/>
<circle cx="1300.5" cy="176.5" r="22" stroke="none"/>
<polygon points="1304.5,225.2 1331.5,268.2 1277.5,268.2" stroke="none"/>
<polygon points="1304.5,357 1331.5,310 1277.5,310" stroke="none"/>
<rect x="1394" y="1404" width="468" height="335" fill="#fbfbfb" stroke-width="10"/>
<line x1="1417" y1="1463" x2="1460" y2="1463" stroke-width="10.5" stroke-linecap="butt"/>
<line x1="1521.5" y1="1463" x2="1566" y2="1463" stroke-width="10.5" stroke-linecap="butt"/>
<line x1="1417" y1="1539" x2="1460" y2="1539" stroke-width="10.5" stroke-linecap="butt"/>
<line x1="1521.5" y1="1539" x2="1566" y2="1539" stroke-width="10.5" stroke-linecap="butt"/>
<line x1="1417" y1="1614.7" x2="1460" y2="1614.7" stroke-width="10.5" stroke-linecap="butt"/>
<line x1="1521.5" y1="1614.7" x2="1566" y2="1614.7" stroke-width="10.5" stroke-linecap="butt"/>
<line x1="1417" y1="1691.3" x2="1460" y2="1691.3" stroke-width="10.5" stroke-linecap="butt"/>
<line x1="1521.5" y1="1691.3" x2="1566" y2="1691.3" stroke-width="10.5" stroke-linecap="butt"/>
<rect x="1475.25" y="1442.75" width="33.5" height="33.5" fill="#fbfbfb" stroke-width="9.5"/>
<circle cx="1491" cy="1536.5" r="17.75" fill="#fbfbfb" stroke-width="9.5"/>
<polygon points="1494,1594.9 1514.35,1632.4 1473.65,1632.4" fill="#fbfbfb" stroke-width="9" stroke-linejoin="miter" stroke-miterlimit="10"/>
<polygon points="1494,1716 1513.35,1678.5 1474.65,1678.5" fill="#fbfbfb" stroke-width="9" stroke-linejoin="miter" stroke-miterlimit="10"/>
<g stroke="none">
<text transform="translate(34.48 128.3) scale(0.9927 1)" font-size="135.57" stroke="#000" stroke-width="2.4" vector-effect="non-scaling-stroke" stroke-linejoin="round">a)</text>
<text transform="translate(35.28 1474.3) scale(1.0853 1)" font-size="127.57" stroke="#000" stroke-width="2.4" vector-effect="non-scaling-stroke" stroke-linejoin="round">b)</text>
<text transform="translate(0 109.78) scale(0.8200 1)" x="343.02 387.51 409.06" font-size="83.9" stroke="#000" stroke-width="2.4" vector-effect="non-scaling-stroke" stroke-linejoin="round">3.0</text>
<text transform="translate(0 289.64) scale(0.8200 1)" x="342.16 386.35 406.95" font-size="87.99" stroke="#000" stroke-width="2.4" vector-effect="non-scaling-stroke" stroke-linejoin="round">2.5</text>
<text transform="translate(0 461.98) scale(0.8200 1)" x="342.35 386.45 408.06" font-size="84.18" stroke="#000" stroke-width="2.4" vector-effect="non-scaling-stroke" stroke-linejoin="round">2.0</text>
<text transform="translate(0 634.97) scale(0.8200 1)" x="346.24 389.36 409.67" font-size="84.6" stroke="#000" stroke-width="2.4" vector-effect="non-scaling-stroke" stroke-linejoin="round">1.5</text>
<text transform="translate(0 813.73) scale(0.8200 1)" x="345.93 388.53 407.31" font-size="88.7" stroke="#000" stroke-width="2.4" vector-effect="non-scaling-stroke" stroke-linejoin="round">1.0</text>
<text transform="translate(0 985.47) scale(0.8200 1)" x="334.72 380.9 403.28" font-size="85.17" stroke="#000" stroke-width="2.4" vector-effect="non-scaling-stroke" stroke-linejoin="round">0.5</text>
<text transform="translate(0 1157.96) scale(0.8200 1)" x="342.63 387.2 407.94" font-size="85.59" stroke="#000" stroke-width="2.4" vector-effect="non-scaling-stroke" stroke-linejoin="round">0.0</text>
<text transform="translate(0 1520.57) scale(0.8200 1)" x="342.29 387.03 408.87" font-size="85.45" stroke="#000" stroke-width="2.4" vector-effect="non-scaling-stroke" stroke-linejoin="round">2.5</text>
<text transform="translate(0 1693.01) scale(0.8200 1)" x="342.49 387.48 410.74" font-size="81.36" stroke="#000" stroke-width="2.4" vector-effect="non-scaling-stroke" stroke-linejoin="round">2.0</text>
<text transform="translate(0 1867.98) scale(0.8200 1)" x="346.27 389.24 409.52" font-size="84.18" stroke="#000" stroke-width="2.4" vector-effect="non-scaling-stroke" stroke-linejoin="round">1.5</text>
<text transform="translate(0 2047.92) scale(0.8200 1)" x="345.79 388.65 407.21" font-size="90.54" stroke="#000" stroke-width="2.4" vector-effect="non-scaling-stroke" stroke-linejoin="round">1.0</text>
<text transform="translate(0 2219.95) scale(0.8200 1)" x="334.65 380.77 402.58" font-size="87" stroke="#000" stroke-width="2.4" vector-effect="non-scaling-stroke" stroke-linejoin="round">0.5</text>
<text transform="translate(0 2389.96) scale(0.8200 1)" x="342.02 386.89 407.94" font-size="85.59" stroke="#000" stroke-width="2.4" vector-effect="non-scaling-stroke" stroke-linejoin="round">0.0</text>
<text transform="translate(417.45 1260) scale(0.8565 1)" font-size="82.06" stroke="#000" stroke-width="2.4" vector-effect="non-scaling-stroke" stroke-linejoin="round">0</text>
<text transform="translate(562.72 1260) scale(0.9206 1)" font-size="82.06" stroke="#000" stroke-width="2.4" vector-effect="non-scaling-stroke" stroke-linejoin="round">30</text>
<text transform="translate(737.21 1260) scale(0.9106 1)" font-size="82.06" stroke="#000" stroke-width="2.4" vector-effect="non-scaling-stroke" stroke-linejoin="round">60</text>
<text transform="translate(910.75 1260) scale(0.8976 1)" font-size="82.06" stroke="#000" stroke-width="2.4" vector-effect="non-scaling-stroke" stroke-linejoin="round">90</text>
<text transform="translate(1070.58 1260) scale(0.8991 1)" font-size="82.06" stroke="#000" stroke-width="2.4" vector-effect="non-scaling-stroke" stroke-linejoin="round">120</text>
<text transform="translate(1423.58 1260) scale(0.8991 1)" font-size="82.06" stroke="#000" stroke-width="2.4" vector-effect="non-scaling-stroke" stroke-linejoin="round">180</text>
<text transform="translate(1778.87 1260) scale(0.9268 1)" font-size="82.06" stroke="#000" stroke-width="2.4" vector-effect="non-scaling-stroke" stroke-linejoin="round">240</text>
<text transform="translate(416.29 2493.48) scale(0.8922 1)" font-size="83.47" stroke="#000" stroke-width="2.4" vector-effect="non-scaling-stroke" stroke-linejoin="round">0</text>
<text transform="translate(561.31 2493.48) scale(0.9096 1)" font-size="83.47" stroke="#000" stroke-width="2.4" vector-effect="non-scaling-stroke" stroke-linejoin="round">30</text>
<text transform="translate(735.27 2493.48) scale(0.9268 1)" font-size="83.47" stroke="#000" stroke-width="2.4" vector-effect="non-scaling-stroke" stroke-linejoin="round">60</text>
<text transform="translate(908.63 2493.48) scale(0.9116 1)" font-size="83.47" stroke="#000" stroke-width="2.4" vector-effect="non-scaling-stroke" stroke-linejoin="round">90</text>
<text transform="translate(1072.7 2493.48) scale(0.8646 1)" font-size="83.47" stroke="#000" stroke-width="2.4" vector-effect="non-scaling-stroke" stroke-linejoin="round">120</text>
<text transform="translate(1424.1 2493.48) scale(0.8800 1)" font-size="83.47" stroke="#000" stroke-width="2.4" vector-effect="non-scaling-stroke" stroke-linejoin="round">180</text>
<text transform="translate(1778.41 2493.48) scale(0.9036 1)" font-size="83.47" stroke="#000" stroke-width="2.4" vector-effect="non-scaling-stroke" stroke-linejoin="round">240</text>
<text transform="translate(1476.88 1331.3) scale(0.9590 1)" font-size="84.57" stroke="#000" stroke-width="2.4" vector-effect="non-scaling-stroke" stroke-linejoin="round">Time (min)</text>
<text transform="translate(1477.38 2565.8) scale(0.9590 1)" font-size="84.57" stroke="#000" stroke-width="2.4" vector-effect="non-scaling-stroke" stroke-linejoin="round">Time (min)</text>
<text transform="translate(253.3 789.18) rotate(-90) scale(0.9188 1)" font-size="88.57" stroke="#000" stroke-width="2.4" vector-effect="non-scaling-stroke" stroke-linejoin="round">Edema (ml)</text>
<text transform="translate(253.3 2020.46) rotate(-90) scale(0.9161 1)" font-size="88.57" stroke="#000" stroke-width="2.4" vector-effect="non-scaling-stroke" stroke-linejoin="round">Edema (ml)</text>
<text transform="translate(1408.63 117.8) scale(0.8114 1)" font-size="91.57" stroke="#000" stroke-width="2.4" vector-effect="non-scaling-stroke" stroke-linejoin="round">sPLA2</text>
<text transform="translate(1408.62 196.3) scale(0.8160 1)" font-size="91.57" stroke="#000" stroke-width="2.4" vector-effect="non-scaling-stroke" stroke-linejoin="round">sPLA2-Nar</text>
<text transform="translate(1408.63 275.8) scale(0.8103 1)" font-size="91.57" stroke="#000" stroke-width="2.4" vector-effect="non-scaling-stroke" stroke-linejoin="round">sPLA2-pBPB</text>
<text transform="translate(1407.97 356.4) scale(0.8295 1)" font-size="91.57" stroke="#000" stroke-width="2.4" vector-effect="non-scaling-stroke" stroke-linejoin="round">PBS (Control)</text>
<text transform="translate(1608.13 1490.3) scale(0.8314 1)" font-size="89.57" stroke="#000" stroke-width="2.4" vector-effect="non-scaling-stroke" stroke-linejoin="round">sPLA2</text>
<text transform="translate(1603.61 1566.3) scale(0.8209 1)" font-size="89.57" stroke="#000" stroke-width="2.4" vector-effect="non-scaling-stroke" stroke-linejoin="round">+Nar</text>
<text transform="translate(1603.67 1641.8) scale(0.8077 1)" font-size="89.57" stroke="#000" stroke-width="2.4" vector-effect="non-scaling-stroke" stroke-linejoin="round">+Dexa</text>
<text transform="translate(1604.26 1719.3) scale(0.8082 1)" font-size="89.57" stroke="#000" stroke-width="2.4" vector-effect="non-scaling-stroke" stroke-linejoin="round">PBS</text>
<text transform="translate(612.21 444.4) scale(1.4120 1)" font-size="60.3" style="font-family:'DejaVu Sans',sans-serif" stroke="#000" stroke-width="3.5" vector-effect="non-scaling-stroke" stroke-linejoin="round">*</text>
<text transform="translate(759.71 331) scale(1.4120 1)" font-size="60.3" style="font-family:'DejaVu Sans',sans-serif" stroke="#000" stroke-width="3.5" vector-effect="non-scaling-stroke" stroke-linejoin="round">*</text>
<text transform="translate(938.71 558) scale(1.4120 1)" font-size="60.3" style="font-family:'DejaVu Sans',sans-serif" stroke="#000" stroke-width="3.5" vector-effect="non-scaling-stroke" stroke-linejoin="round">*</text>
<text transform="translate(1156.71 761.5) scale(1.4120 1)" font-size="60.3" style="font-family:'DejaVu Sans',sans-serif" stroke="#000" stroke-width="3.5" vector-effect="non-scaling-stroke" stroke-linejoin="round">*</text>
<text transform="translate(586.21 895) scale(1.4120 1)" font-size="60.3" style="font-family:'DejaVu Sans',sans-serif" stroke="#000" stroke-width="3.5" vector-effect="non-scaling-stroke" stroke-linejoin="round">*</text>
<text transform="translate(760.01 859.5) scale(1.4120 1)" font-size="60.3" style="font-family:'DejaVu Sans',sans-serif" stroke="#000" stroke-width="3.5" vector-effect="non-scaling-stroke" stroke-linejoin="round">*</text>
<text transform="translate(939.21 907.5) scale(1.4120 1)" font-size="60.3" style="font-family:'DejaVu Sans',sans-serif" stroke="#000" stroke-width="3.5" vector-effect="non-scaling-stroke" stroke-linejoin="round">*</text>
<text transform="translate(1112.71 945) scale(1.4120 1)" font-size="60.3" style="font-family:'DejaVu Sans',sans-serif" stroke="#000" stroke-width="3.5" vector-effect="non-scaling-stroke" stroke-linejoin="round">*</text>
<text transform="translate(1464.71 994.5) scale(1.4120 1)" font-size="60.3" style="font-family:'DejaVu Sans',sans-serif" stroke="#000" stroke-width="3.5" vector-effect="non-scaling-stroke" stroke-linejoin="round">*</text>
<text transform="translate(1817.71 1009.5) scale(1.4120 1)" font-size="60.3" style="font-family:'DejaVu Sans',sans-serif" stroke="#000" stroke-width="3.5" vector-effect="non-scaling-stroke" stroke-linejoin="round">*</text>
<text transform="translate(583.71 2012.7) scale(1.4120 1)" font-size="60.3" style="font-family:'DejaVu Sans',sans-serif" stroke="#000" stroke-width="3.5" vector-effect="non-scaling-stroke" stroke-linejoin="round">*</text>
<text transform="translate(758.71 1897.7) scale(1.4120 1)" font-size="60.3" style="font-family:'DejaVu Sans',sans-serif" stroke="#000" stroke-width="3.5" vector-effect="non-scaling-stroke" stroke-linejoin="round">*</text>
<text transform="translate(937.71 2023.6) scale(1.4120 1)" font-size="60.3" style="font-family:'DejaVu Sans',sans-serif" stroke="#000" stroke-width="3.5" vector-effect="non-scaling-stroke" stroke-linejoin="round">*</text>
<text transform="translate(581.71 2187.5) scale(1.4120 1)" font-size="60.3" style="font-family:'DejaVu Sans',sans-serif" stroke="#000" stroke-width="3.5" vector-effect="non-scaling-stroke" stroke-linejoin="round">*</text>
<text transform="translate(764.71 2149.5) scale(1.4120 1)" font-size="60.3" style="font-family:'DejaVu Sans',sans-serif" stroke="#000" stroke-width="3.5" vector-effect="non-scaling-stroke" stroke-linejoin="round">*</text>
<text transform="translate(937.71 2196) scale(1.4120 1)" font-size="60.3" style="font-family:'DejaVu Sans',sans-serif" stroke="#000" stroke-width="3.5" vector-effect="non-scaling-stroke" stroke-linejoin="round">*</text>
<text transform="translate(1112.11 2227) scale(1.4120 1)" font-size="60.3" style="font-family:'DejaVu Sans',sans-serif" stroke="#000" stroke-width="3.5" vector-effect="non-scaling-stroke" stroke-linejoin="round">*</text>
<text transform="translate(1508.21 2264.6) scale(1.4120 1)" font-size="60.3" style="font-family:'DejaVu Sans',sans-serif" stroke="#000" stroke-width="3.5" vector-effect="non-scaling-stroke" stroke-linejoin="round">*</text>
</g>
</svg></body></html>
